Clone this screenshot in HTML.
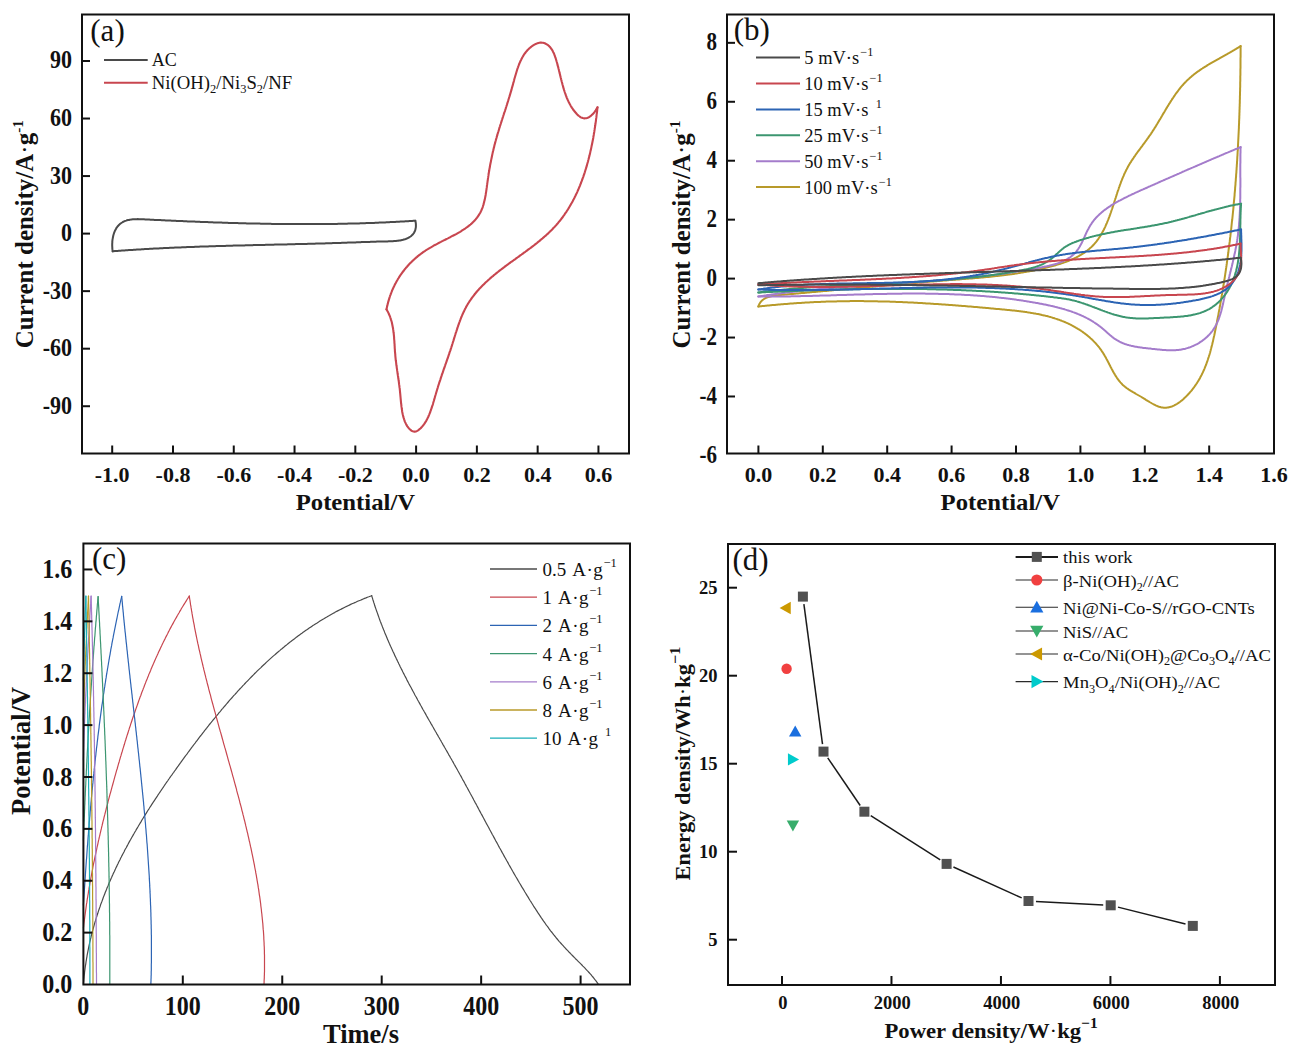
<!DOCTYPE html>
<html><head><meta charset="utf-8"><title>chart</title>
<style>
html,body{margin:0;padding:0;background:#fff;width:1295px;height:1049px;overflow:hidden;}
svg{display:block;}
text{font-family:"Liberation Serif",serif;fill:#111;}
</style></head><body>
<svg width="1295" height="1049" viewBox="0 0 1295 1049">
<rect width="1295" height="1049" fill="#fff"/>
<g id="shapes">
<path d="M112.7,251.3 L112.6,250.3 L112.4,249.2 L112.3,248.2 L112.3,247.1 L112.2,246.0 L112.2,245.0 L112.2,243.9 L112.3,242.8 L112.3,241.7 L112.4,240.7 L112.5,239.6 L112.7,238.6 L112.9,237.5 L113.1,236.5 L113.3,235.5 L113.6,234.5 L113.9,233.5 L114.2,232.6 L114.6,231.6 L115.0,230.7 L115.4,229.9 L115.9,229.0 L116.3,228.2 L116.9,227.4 L117.4,226.7 L118.0,226.0 L118.6,225.3 L119.2,224.7 L119.9,224.1 L120.6,223.5 L121.3,223.0 L122.1,222.5 L122.8,222.0 L123.6,221.6 L124.5,221.2 L125.3,220.9 L126.2,220.6 L127.0,220.3 L128.0,220.1 L128.9,219.9 L129.8,219.7 L130.8,219.6 L131.7,219.4 L132.7,219.3 L133.7,219.3 L134.7,219.2 L135.8,219.2 L136.8,219.2 L137.8,219.1 L138.9,219.2 L139.9,219.2 L140.9,219.2 L142.0,219.2 L143.0,219.3 L144.1,219.3 L145.2,219.4 L146.2,219.4 L147.2,219.5 L148.3,219.5 L149.3,219.6 L150.4,219.7 L151.4,219.7 L152.4,219.8 L153.5,219.8 L154.5,219.9 L155.5,219.9 L156.5,220.0 L157.5,220.0 L158.6,220.1 L159.6,220.1 L160.6,220.1 L161.6,220.2 L162.6,220.2 L163.6,220.3 L164.6,220.3 L165.6,220.4 L166.6,220.4 L167.6,220.5 L168.6,220.5 L169.6,220.6 L170.6,220.6 L171.6,220.7 L172.6,220.7 L173.6,220.8 L174.6,220.8 L175.6,220.8 L176.6,220.9 L177.6,220.9 L178.6,221.0 L179.6,221.0 L180.6,221.1 L181.6,221.1 L182.6,221.1 L183.6,221.2 L184.6,221.2 L185.6,221.3 L186.6,221.3 L187.6,221.4 L188.6,221.4 L189.6,221.4 L190.6,221.5 L191.6,221.5 L192.6,221.6 L193.6,221.6 L194.6,221.6 L195.6,221.7 L196.6,221.7 L197.6,221.8 L198.6,221.8 L199.6,221.8 L200.6,221.9 L201.6,221.9 L202.6,222.0 L203.6,222.0 L204.6,222.0 L205.6,222.1 L206.6,222.1 L207.6,222.1 L208.6,222.2 L209.6,222.2 L210.6,222.3 L211.6,222.3 L212.6,222.3 L213.6,222.4 L214.6,222.4 L215.6,222.4 L216.6,222.5 L217.6,222.5 L218.6,222.5 L219.6,222.6 L220.6,222.6 L221.6,222.6 L222.6,222.7 L223.6,222.7 L224.6,222.7 L225.6,222.8 L226.6,222.8 L227.6,222.8 L228.6,222.9 L229.6,222.9 L230.6,222.9 L231.6,223.0 L232.6,223.0 L233.6,223.0 L234.7,223.0 L235.7,223.1 L236.7,223.1 L237.7,223.1 L238.7,223.2 L239.7,223.2 L240.7,223.2 L241.7,223.2 L242.7,223.3 L243.7,223.3 L244.7,223.3 L245.7,223.3 L246.7,223.4 L247.7,223.4 L248.7,223.4 L249.7,223.4 L250.7,223.5 L251.7,223.5 L252.7,223.5 L253.7,223.5 L254.7,223.5 L255.7,223.6 L256.7,223.6 L257.7,223.6 L258.7,223.6 L259.7,223.6 L260.7,223.7 L261.7,223.7 L262.7,223.7 L263.8,223.7 L264.8,223.7 L265.8,223.8 L266.8,223.8 L267.8,223.8 L268.8,223.8 L269.8,223.8 L270.8,223.8 L271.8,223.9 L272.8,223.9 L273.8,223.9 L274.8,223.9 L275.8,223.9 L276.8,223.9 L277.8,223.9 L278.8,224.0 L279.8,224.0 L280.8,224.0 L281.8,224.0 L282.8,224.0 L283.8,224.0 L284.8,224.0 L285.9,224.0 L286.9,224.0 L287.9,224.0 L288.9,224.1 L289.9,224.1 L290.9,224.1 L291.9,224.1 L292.9,224.1 L293.9,224.1 L294.9,224.1 L295.9,224.1 L296.9,224.1 L297.9,224.1 L298.9,224.1 L299.9,224.1 L300.9,224.1 L301.9,224.1 L302.9,224.1 L303.9,224.1 L304.9,224.1 L306.0,224.1 L307.0,224.1 L308.0,224.1 L309.0,224.1 L310.0,224.1 L311.0,224.1 L312.0,224.1 L313.0,224.1 L314.0,224.1 L315.0,224.1 L316.0,224.1 L317.0,224.1 L318.0,224.1 L319.0,224.1 L320.0,224.1 L321.0,224.1 L322.0,224.0 L323.0,224.0 L324.0,224.0 L325.0,224.0 L326.0,224.0 L327.1,224.0 L328.1,224.0 L329.1,224.0 L330.1,224.0 L331.1,224.0 L332.1,223.9 L333.1,223.9 L334.1,223.9 L335.1,223.9 L336.1,223.9 L337.1,223.9 L338.1,223.8 L339.1,223.8 L340.1,223.8 L341.1,223.8 L342.1,223.8 L343.1,223.8 L344.1,223.7 L345.1,223.7 L346.1,223.7 L347.1,223.7 L348.1,223.6 L349.2,223.6 L350.2,223.6 L351.2,223.6 L352.2,223.6 L353.2,223.5 L354.2,223.5 L355.2,223.5 L356.2,223.4 L357.2,223.4 L358.2,223.4 L359.2,223.4 L360.2,223.3 L361.2,223.3 L362.2,223.3 L363.2,223.2 L364.2,223.2 L365.2,223.2 L366.2,223.1 L367.2,223.1 L368.2,223.1 L369.2,223.0 L370.2,223.0 L371.2,223.0 L372.2,222.9 L373.2,222.9 L374.2,222.9 L375.2,222.8 L376.2,222.8 L377.2,222.7 L378.3,222.7 L379.3,222.6 L380.3,222.6 L381.3,222.6 L382.3,222.5 L383.3,222.5 L384.3,222.4 L385.3,222.4 L386.3,222.3 L387.3,222.3 L388.3,222.2 L389.3,222.2 L390.3,222.1 L391.3,222.1 L392.3,222.0 L393.3,222.0 L394.3,221.9 L395.3,221.9 L396.3,221.8 L397.3,221.8 L398.3,221.7 L399.3,221.7 L400.3,221.6 L401.3,221.6 L402.3,221.5 L403.3,221.5 L404.3,221.4 L405.3,221.3 L406.3,221.3 L407.3,221.2 L408.3,221.2 L409.3,221.1 L410.3,221.0 L411.3,221.0 L412.3,220.9 L413.3,220.8 L414.3,220.8 L415.3,220.7" fill="none" stroke="#4a4a4a" stroke-width="2" stroke-linejoin="round" stroke-linecap="round" />
<path d="M415.3,220.7 L415.6,222.0 L415.8,223.2 L415.9,224.4 L415.9,225.5 L415.9,226.5 L415.8,227.6 L415.6,228.5 L415.4,229.5 L415.2,230.4 L414.8,231.2 L414.4,232.0 L414.0,232.8 L413.5,233.5 L413.0,234.2 L412.4,234.8 L411.8,235.4 L411.2,236.0 L410.5,236.5 L409.7,237.0 L409.0,237.5 L408.2,237.9 L407.4,238.3 L406.6,238.6 L405.7,239.0 L404.8,239.3 L403.9,239.5 L403.0,239.8 L402.1,240.0 L401.1,240.2 L400.1,240.4 L399.1,240.5 L398.1,240.7 L397.1,240.8 L396.1,240.9 L395.0,241.0 L394.0,241.1 L392.9,241.2 L391.8,241.2 L390.8,241.3 L389.7,241.3 L388.6,241.3 L387.5,241.4 L386.5,241.4 L385.4,241.4 L384.3,241.5 L383.2,241.5 L382.2,241.5 L381.1,241.5 L380.1,241.6 L379.0,241.6 L378.0,241.6 L376.9,241.6 L375.9,241.7 L374.8,241.7 L373.8,241.7 L372.8,241.8 L371.8,241.8 L370.7,241.8 L369.7,241.9 L368.7,241.9 L367.7,241.9 L366.7,242.0 L365.7,242.0 L364.6,242.0 L363.6,242.1 L362.6,242.1 L361.6,242.1 L360.6,242.2 L359.6,242.2 L358.6,242.2 L357.6,242.3 L356.6,242.3 L355.6,242.4 L354.6,242.4 L353.6,242.4 L352.7,242.5 L351.7,242.5 L350.7,242.5 L349.7,242.6 L348.7,242.6 L347.7,242.6 L346.7,242.7 L345.7,242.7 L344.7,242.7 L343.7,242.8 L342.7,242.8 L341.8,242.8 L340.8,242.9 L339.8,242.9 L338.8,242.9 L337.8,243.0 L336.8,243.0 L335.8,243.0 L334.8,243.1 L333.8,243.1 L332.8,243.1 L331.8,243.2 L330.8,243.2 L329.8,243.2 L328.8,243.3 L327.8,243.3 L326.8,243.3 L325.8,243.3 L324.8,243.4 L323.8,243.4 L322.8,243.4 L321.9,243.5 L320.9,243.5 L319.9,243.5 L318.9,243.5 L317.9,243.6 L316.9,243.6 L315.9,243.6 L314.9,243.7 L313.9,243.7 L312.9,243.7 L311.9,243.7 L310.9,243.8 L309.9,243.8 L308.9,243.8 L307.9,243.8 L306.9,243.9 L305.9,243.9 L304.9,243.9 L303.9,243.9 L302.9,244.0 L301.9,244.0 L300.9,244.0 L299.9,244.0 L298.8,244.1 L297.8,244.1 L296.8,244.1 L295.8,244.1 L294.8,244.2 L293.8,244.2 L292.8,244.2 L291.8,244.2 L290.8,244.3 L289.8,244.3 L288.8,244.3 L287.8,244.3 L286.8,244.4 L285.8,244.4 L284.8,244.4 L283.8,244.4 L282.8,244.4 L281.8,244.5 L280.8,244.5 L279.8,244.5 L278.8,244.5 L277.8,244.6 L276.8,244.6 L275.7,244.6 L274.7,244.6 L273.7,244.7 L272.7,244.7 L271.7,244.7 L270.7,244.7 L269.7,244.8 L268.7,244.8 L267.7,244.8 L266.7,244.8 L265.7,244.8 L264.7,244.9 L263.7,244.9 L262.7,244.9 L261.6,244.9 L260.6,245.0 L259.6,245.0 L258.6,245.0 L257.6,245.0 L256.6,245.1 L255.6,245.1 L254.6,245.1 L253.6,245.1 L252.6,245.2 L251.6,245.2 L250.6,245.2 L249.5,245.2 L248.5,245.3 L247.5,245.3 L246.5,245.3 L245.5,245.3 L244.5,245.4 L243.5,245.4 L242.5,245.4 L241.5,245.4 L240.5,245.5 L239.5,245.5 L238.4,245.5 L237.4,245.5 L236.4,245.6 L235.4,245.6 L234.4,245.6 L233.4,245.6 L232.4,245.7 L231.4,245.7 L230.4,245.7 L229.4,245.7 L228.3,245.8 L227.3,245.8 L226.3,245.8 L225.3,245.9 L224.3,245.9 L223.3,245.9 L222.3,245.9 L221.3,246.0 L220.3,246.0 L219.3,246.0 L218.2,246.1 L217.2,246.1 L216.2,246.1 L215.2,246.2 L214.2,246.2 L213.2,246.2 L212.2,246.2 L211.2,246.3 L210.2,246.3 L209.2,246.3 L208.1,246.4 L207.1,246.4 L206.1,246.4 L205.1,246.5 L204.1,246.5 L203.1,246.5 L202.1,246.6 L201.1,246.6 L200.1,246.6 L199.1,246.7 L198.1,246.7 L197.0,246.7 L196.0,246.8 L195.0,246.8 L194.0,246.9 L193.0,246.9 L192.0,246.9 L191.0,247.0 L190.0,247.0 L189.0,247.0 L188.0,247.1 L187.0,247.1 L185.9,247.2 L184.9,247.2 L183.9,247.2 L182.9,247.3 L181.9,247.3 L180.9,247.4 L179.9,247.4 L178.9,247.4 L177.9,247.5 L176.9,247.5 L175.9,247.6 L174.9,247.6 L173.8,247.7 L172.8,247.7 L171.8,247.7 L170.8,247.8 L169.8,247.8 L168.8,247.9 L167.8,247.9 L166.8,248.0 L165.8,248.0 L164.8,248.1 L163.8,248.1 L162.8,248.2 L161.8,248.2 L160.8,248.3 L159.8,248.3 L158.8,248.4 L157.7,248.4 L156.7,248.5 L155.7,248.5 L154.7,248.6 L153.7,248.6 L152.7,248.7 L151.7,248.7 L150.7,248.8 L149.7,248.8 L148.7,248.9 L147.7,249.0 L146.7,249.0 L145.7,249.1 L144.7,249.1 L143.7,249.2 L142.7,249.2 L141.7,249.3 L140.7,249.4 L139.7,249.4 L138.7,249.5 L137.7,249.6 L136.7,249.6 L135.7,249.7 L134.7,249.7 L133.7,249.8 L132.7,249.9 L131.7,249.9 L130.7,250.0 L129.7,250.1 L128.7,250.1 L127.7,250.2 L126.7,250.3 L125.7,250.3 L124.7,250.4 L123.7,250.5 L122.7,250.6 L121.7,250.6 L120.7,250.7 L119.7,250.8 L118.7,250.8 L117.7,250.9 L116.7,251.0 L115.7,251.1 L114.7,251.1 L113.7,251.2 L112.7,251.3" fill="none" stroke="#4a4a4a" stroke-width="2" stroke-linejoin="round" stroke-linecap="round" />
<path d="M386.5,309.5 L386.7,308.5 L386.9,307.4 L387.1,306.4 L387.4,305.4 L387.6,304.4 L387.9,303.4 L388.1,302.4 L388.4,301.4 L388.7,300.4 L389.0,299.4 L389.3,298.4 L389.6,297.4 L389.9,296.5 L390.2,295.5 L390.6,294.6 L390.9,293.6 L391.3,292.7 L391.7,291.7 L392.0,290.8 L392.4,289.9 L392.8,289.0 L393.2,288.1 L393.6,287.2 L394.1,286.3 L394.5,285.4 L394.9,284.5 L395.4,283.6 L395.9,282.8 L396.3,281.9 L396.8,281.0 L397.3,280.2 L397.8,279.3 L398.3,278.5 L398.8,277.7 L399.3,276.8 L399.9,276.0 L400.4,275.2 L401.0,274.4 L401.5,273.6 L402.1,272.8 L402.7,272.0 L403.3,271.2 L403.9,270.5 L404.5,269.7 L405.1,268.9 L405.7,268.2 L406.3,267.4 L407.0,266.7 L407.6,266.0 L408.3,265.2 L408.9,264.5 L409.6,263.8 L410.3,263.1 L411.0,262.4 L411.7,261.7 L412.4,261.0 L413.1,260.4 L413.8,259.7 L414.6,259.0 L415.3,258.4 L416.0,257.7 L416.8,257.1 L417.6,256.4 L418.3,255.8 L419.1,255.2 L419.9,254.6 L420.7,254.0 L421.5,253.4 L422.3,252.8 L423.1,252.2 L424.0,251.6 L424.8,251.1 L425.6,250.5 L426.5,249.9 L427.4,249.4 L428.2,248.9 L429.1,248.3 L430.0,247.8 L430.9,247.3 L431.7,246.8 L432.6,246.3 L433.6,245.7 L434.5,245.2 L435.4,244.8 L436.3,244.3 L437.2,243.8 L438.1,243.3 L439.1,242.8 L440.0,242.3 L440.9,241.9 L441.8,241.4 L442.8,240.9 L443.7,240.4 L444.6,240.0 L445.6,239.5 L446.5,239.0 L447.4,238.6 L448.4,238.1 L449.3,237.6 L450.2,237.2 L451.1,236.7 L452.0,236.2 L452.9,235.7 L453.9,235.2 L454.8,234.8 L455.7,234.3 L456.6,233.8 L457.4,233.3 L458.3,232.8 L459.2,232.3 L460.1,231.8 L460.9,231.3 L461.8,230.7 L462.6,230.2 L463.4,229.7 L464.3,229.1 L465.1,228.6 L465.9,228.0 L466.7,227.4 L467.5,226.9 L468.2,226.3 L469.0,225.7 L469.7,225.1 L470.5,224.5 L471.2,223.9 L471.9,223.2 L472.6,222.6 L473.2,221.9 L473.9,221.2 L474.6,220.6 L475.2,219.9 L475.8,219.2 L476.4,218.4 L477.0,217.7 L477.5,217.0 L478.1,216.2 L478.6,215.4 L479.1,214.6 L479.6,213.8 L480.1,213.0 L480.5,212.2 L480.9,211.3 L481.4,210.4 L481.7,209.5 L482.1,208.6 L482.5,207.7 L482.8,206.8 L483.1,205.8 L483.4,204.9 L483.7,203.9 L483.9,202.9 L484.2,201.9 L484.4,200.9 L484.7,199.9 L484.9,198.9 L485.1,197.9 L485.3,196.8 L485.5,195.8 L485.7,194.7 L485.8,193.7 L486.0,192.6 L486.2,191.6 L486.3,190.5 L486.5,189.5 L486.6,188.4 L486.8,187.4 L486.9,186.3 L487.0,185.2 L487.2,184.2 L487.3,183.1 L487.5,182.1 L487.6,181.0 L487.8,180.0 L487.9,178.9 L488.1,177.9 L488.2,176.9 L488.4,175.9 L488.5,174.8 L488.7,173.8 L488.8,172.8 L489.0,171.8 L489.2,170.8 L489.3,169.8 L489.5,168.8 L489.7,167.8 L489.9,166.8 L490.0,165.8 L490.2,164.8 L490.4,163.8 L490.6,162.8 L490.8,161.9 L491.0,160.9 L491.2,159.9 L491.4,158.9 L491.6,158.0 L491.8,157.0 L492.0,156.0 L492.2,155.1 L492.4,154.1 L492.6,153.1 L492.8,152.2 L493.0,151.2 L493.3,150.3 L493.5,149.3 L493.7,148.4 L494.0,147.4 L494.2,146.5 L494.4,145.5 L494.7,144.6 L494.9,143.6 L495.2,142.7 L495.4,141.8 L495.7,140.8 L495.9,139.9 L496.2,138.9 L496.5,138.0 L496.7,137.1 L497.0,136.1 L497.3,135.2 L497.5,134.3 L497.8,133.3 L498.1,132.4 L498.4,131.5 L498.7,130.5 L499.0,129.6 L499.2,128.6 L499.5,127.7 L499.8,126.8 L500.1,125.8 L500.4,124.9 L500.7,124.0 L501.0,123.0 L501.3,122.1 L501.6,121.2 L501.9,120.2 L502.2,119.3 L502.5,118.3 L502.8,117.4 L503.1,116.5 L503.4,115.5 L503.7,114.6 L504.0,113.6 L504.3,112.7 L504.7,111.7 L505.0,110.8 L505.3,109.8 L505.6,108.9 L505.9,107.9 L506.2,107.0 L506.5,106.0 L506.8,105.1 L507.1,104.1 L507.4,103.2 L507.7,102.2 L508.0,101.2 L508.3,100.3 L508.6,99.3 L508.9,98.3 L509.2,97.3 L509.5,96.4 L509.8,95.4 L510.1,94.4 L510.4,93.4 L510.7,92.4 L511.0,91.4 L511.3,90.4 L511.6,89.4 L511.8,88.4 L512.1,87.4 L512.4,86.4 L512.7,85.4 L513.0,84.4 L513.2,83.4 L513.5,82.4 L513.8,81.4 L514.1,80.3 L514.3,79.3 L514.6,78.3 L514.9,77.3 L515.2,76.3 L515.5,75.3 L515.8,74.3 L516.1,73.3 L516.4,72.3 L516.7,71.3 L517.0,70.3 L517.3,69.3 L517.6,68.3 L518.0,67.3 L518.3,66.4 L518.7,65.4 L519.0,64.5 L519.4,63.5 L519.8,62.6 L520.2,61.7 L520.6,60.8 L521.1,59.9 L521.5,59.0 L521.9,58.2 L522.4,57.3 L522.9,56.5 L523.4,55.6 L523.9,54.8 L524.4,54.0 L525.0,53.2 L525.6,52.5 L526.1,51.7 L526.8,51.0 L527.4,50.3 L528.0,49.6 L528.7,49.0 L529.4,48.3 L530.1,47.7 L530.8,47.1 L531.6,46.5 L532.4,45.9 L533.2,45.4 L534.0,44.9 L534.9,44.4 L535.7,44.0 L536.6,43.6 L537.5,43.2 L538.5,42.9 L539.4,42.7 L540.3,42.6 L541.2,42.6 L542.1,42.7 L543.0,42.8 L543.9,43.0 L544.8,43.3 L545.6,43.7 L546.4,44.1 L547.2,44.6 L548.0,45.1 L548.7,45.7 L549.3,46.4 L550.0,47.0 L550.6,47.8 L551.1,48.5 L551.7,49.3 L552.2,50.1 L552.7,51.0 L553.1,51.9 L553.6,52.8 L554.0,53.7 L554.4,54.7 L554.7,55.7 L555.1,56.7 L555.4,57.7 L555.8,58.7 L556.1,59.7 L556.4,60.7 L556.7,61.8 L557.0,62.8 L557.3,63.8 L557.5,64.9 L557.8,65.9 L558.1,66.9 L558.4,68.0 L558.6,69.0 L558.9,70.0 L559.1,71.0 L559.4,72.1 L559.6,73.1 L559.9,74.1 L560.1,75.1 L560.4,76.2 L560.6,77.2 L560.9,78.2 L561.1,79.2 L561.4,80.2 L561.6,81.2 L561.9,82.2 L562.2,83.2 L562.4,84.2 L562.7,85.2 L563.0,86.2 L563.2,87.2 L563.5,88.1 L563.8,89.1 L564.1,90.1 L564.4,91.0 L564.7,92.0 L565.0,92.9 L565.4,93.9 L565.7,94.8 L566.0,95.7 L566.4,96.6 L566.7,97.6 L567.1,98.5 L567.5,99.4 L567.9,100.3 L568.3,101.1 L568.7,102.0 L569.2,102.9 L569.6,103.7 L570.1,104.6 L570.5,105.4 L571.0,106.3 L571.5,107.1 L572.0,107.9 L572.6,108.7 L573.1,109.5 L573.7,110.3 L574.3,111.0 L574.9,111.8 L575.5,112.5 L576.2,113.3 L576.8,114.0 L577.5,114.7 L578.2,115.4 L579.0,116.0 L579.7,116.5 L580.4,117.1 L581.2,117.5 L582.0,117.8 L582.8,118.1 L583.6,118.3 L584.4,118.4 L585.3,118.3 L586.1,118.2 L587.0,118.0 L587.8,117.7 L588.7,117.3 L589.5,116.8 L590.4,116.2 L591.2,115.6 L592.0,114.8 L592.8,114.1 L593.6,113.2 L594.3,112.4 L595.0,111.4 L595.7,110.4 L596.3,109.4 L596.9,108.4 L597.5,107.3" fill="none" stroke="#C8464F" stroke-width="2.1" stroke-linejoin="round" stroke-linecap="round" />
<path d="M597.5,107.3 L597.4,108.3 L597.3,109.2 L597.2,110.2 L597.1,111.1 L597.0,112.1 L596.9,113.1 L596.7,114.0 L596.6,115.0 L596.5,116.0 L596.4,117.0 L596.3,117.9 L596.1,118.9 L596.0,119.9 L595.9,120.9 L595.8,121.8 L595.6,122.8 L595.5,123.8 L595.3,124.8 L595.2,125.8 L595.0,126.8 L594.9,127.8 L594.7,128.7 L594.6,129.7 L594.4,130.7 L594.3,131.7 L594.1,132.7 L593.9,133.7 L593.8,134.7 L593.6,135.7 L593.4,136.7 L593.3,137.7 L593.1,138.7 L592.9,139.7 L592.7,140.7 L592.5,141.7 L592.3,142.7 L592.1,143.7 L591.9,144.7 L591.7,145.6 L591.5,146.6 L591.3,147.6 L591.1,148.6 L590.9,149.6 L590.6,150.6 L590.4,151.6 L590.2,152.6 L590.0,153.6 L589.7,154.6 L589.5,155.6 L589.2,156.6 L589.0,157.6 L588.7,158.6 L588.5,159.5 L588.2,160.5 L588.0,161.5 L587.7,162.5 L587.4,163.5 L587.1,164.5 L586.9,165.4 L586.6,166.4 L586.3,167.4 L586.0,168.4 L585.7,169.3 L585.4,170.3 L585.1,171.3 L584.8,172.3 L584.5,173.2 L584.2,174.2 L583.8,175.1 L583.5,176.1 L583.2,177.1 L582.8,178.0 L582.5,179.0 L582.1,179.9 L581.8,180.9 L581.4,181.8 L581.1,182.8 L580.7,183.7 L580.3,184.6 L580.0,185.6 L579.6,186.5 L579.2,187.4 L578.8,188.4 L578.4,189.3 L578.0,190.2 L577.6,191.1 L577.2,192.1 L576.8,193.0 L576.3,193.9 L575.9,194.8 L575.5,195.7 L575.0,196.6 L574.6,197.5 L574.1,198.4 L573.7,199.3 L573.2,200.1 L572.8,201.0 L572.3,201.9 L571.8,202.8 L571.3,203.6 L570.8,204.5 L570.3,205.4 L569.8,206.2 L569.3,207.1 L568.8,207.9 L568.3,208.8 L567.8,209.6 L567.2,210.5 L566.7,211.3 L566.2,212.1 L565.6,212.9 L565.0,213.7 L564.5,214.6 L563.9,215.4 L563.3,216.2 L562.8,217.0 L562.2,217.8 L561.6,218.5 L561.0,219.3 L560.4,220.1 L559.8,220.9 L559.1,221.6 L558.5,222.4 L557.9,223.2 L557.2,223.9 L556.6,224.7 L555.9,225.4 L555.3,226.1 L554.6,226.9 L553.9,227.6 L553.2,228.3 L552.6,229.0 L551.9,229.7 L551.2,230.4 L550.5,231.1 L549.8,231.8 L549.0,232.5 L548.3,233.2 L547.6,233.9 L546.9,234.5 L546.1,235.2 L545.4,235.9 L544.6,236.5 L543.9,237.2 L543.1,237.8 L542.4,238.5 L541.6,239.1 L540.8,239.8 L540.1,240.4 L539.3,241.1 L538.5,241.7 L537.7,242.3 L537.0,243.0 L536.2,243.6 L535.4,244.2 L534.6,244.8 L533.8,245.5 L533.0,246.1 L532.2,246.7 L531.4,247.3 L530.6,247.9 L529.8,248.5 L528.9,249.1 L528.1,249.7 L527.3,250.3 L526.5,250.9 L525.7,251.5 L524.9,252.1 L524.0,252.7 L523.2,253.3 L522.4,253.9 L521.6,254.5 L520.7,255.1 L519.9,255.7 L519.1,256.3 L518.3,256.9 L517.4,257.5 L516.6,258.1 L515.8,258.7 L515.0,259.3 L514.1,259.9 L513.3,260.5 L512.5,261.1 L511.7,261.7 L510.8,262.2 L510.0,262.8 L509.2,263.4 L508.4,264.0 L507.6,264.6 L506.8,265.2 L505.9,265.8 L505.1,266.4 L504.3,267.1 L503.5,267.7 L502.7,268.3 L501.9,268.9 L501.1,269.5 L500.3,270.1 L499.5,270.7 L498.7,271.3 L497.9,272.0 L497.1,272.6 L496.4,273.2 L495.6,273.8 L494.8,274.5 L494.0,275.1 L493.3,275.8 L492.5,276.4 L491.7,277.0 L491.0,277.7 L490.2,278.3 L489.5,279.0 L488.7,279.7 L488.0,280.3 L487.3,281.0 L486.5,281.7 L485.8,282.3 L485.1,283.0 L484.4,283.7 L483.7,284.4 L483.0,285.1 L482.3,285.8 L481.6,286.5 L480.9,287.2 L480.2,287.9 L479.6,288.6 L478.9,289.3 L478.3,290.1 L477.6,290.8 L477.0,291.5 L476.3,292.3 L475.7,293.0 L475.1,293.8 L474.5,294.5 L473.9,295.3 L473.3,296.1 L472.7,296.9 L472.1,297.7 L471.5,298.5 L470.9,299.3 L470.4,300.1 L469.8,300.9 L469.3,301.7 L468.8,302.5 L468.2,303.4 L467.7,304.2 L467.2,305.1 L466.7,305.9 L466.2,306.8 L465.8,307.7 L465.3,308.5 L464.9,309.4 L464.4,310.3 L464.0,311.2 L463.5,312.2 L463.1,313.1 L462.7,314.0 L462.3,314.9 L461.9,315.9 L461.5,316.8 L461.1,317.7 L460.8,318.7 L460.4,319.7 L460.0,320.6 L459.7,321.6 L459.3,322.5 L459.0,323.5 L458.6,324.5 L458.3,325.4 L458.0,326.4 L457.6,327.4 L457.3,328.4 L457.0,329.4 L456.7,330.3 L456.4,331.3 L456.0,332.3 L455.7,333.3 L455.4,334.3 L455.1,335.2 L454.8,336.2 L454.5,337.2 L454.2,338.2 L453.9,339.1 L453.6,340.1 L453.3,341.1 L453.0,342.0 L452.7,343.0 L452.4,344.0 L452.1,344.9 L451.8,345.9 L451.5,346.8 L451.2,347.8 L450.9,348.7 L450.6,349.6 L450.3,350.6 L449.9,351.5 L449.6,352.4 L449.3,353.4 L449.0,354.3 L448.7,355.2 L448.4,356.1 L448.1,357.0 L447.8,358.0 L447.4,358.9 L447.1,359.8 L446.8,360.7 L446.5,361.6 L446.2,362.5 L445.9,363.4 L445.5,364.3 L445.2,365.3 L444.9,366.2 L444.6,367.1 L444.3,368.0 L443.9,368.9 L443.6,369.8 L443.3,370.7 L443.0,371.7 L442.7,372.6 L442.4,373.5 L442.0,374.4 L441.7,375.4 L441.4,376.3 L441.1,377.2 L440.8,378.2 L440.5,379.1 L440.2,380.1 L439.9,381.0 L439.5,382.0 L439.2,382.9 L438.9,383.9 L438.6,384.8 L438.3,385.8 L438.0,386.8 L437.7,387.8 L437.4,388.7 L437.1,389.7 L436.8,390.7 L436.5,391.7 L436.2,392.7 L435.9,393.7 L435.6,394.8 L435.3,395.8 L435.0,396.8 L434.7,397.9 L434.4,398.9 L434.1,399.9 L433.8,401.0 L433.5,402.0 L433.2,403.0 L432.9,404.1 L432.6,405.1 L432.2,406.1 L431.9,407.1 L431.6,408.2 L431.2,409.2 L430.9,410.2 L430.5,411.2 L430.2,412.2 L429.8,413.1 L429.4,414.1 L429.0,415.1 L428.6,416.0 L428.2,417.0 L427.7,417.9 L427.3,418.8 L426.8,419.7 L426.4,420.5 L425.9,421.4 L425.4,422.2 L424.8,423.1 L424.3,423.9 L423.7,424.6 L423.2,425.4 L422.6,426.1 L422.0,426.8 L421.3,427.5 L420.7,428.2 L420.0,428.8 L419.3,429.4 L418.6,430.0 L417.9,430.5 L417.2,430.9 L416.5,431.2 L415.7,431.5 L415.0,431.6 L414.3,431.6 L413.6,431.5 L412.8,431.3 L412.1,431.0 L411.4,430.6 L410.8,430.1 L410.1,429.5 L409.5,428.9 L408.9,428.3 L408.3,427.6 L407.8,426.9 L407.2,426.2 L406.8,425.4 L406.3,424.6 L405.9,423.8 L405.5,422.9 L405.1,422.1 L404.7,421.2 L404.4,420.2 L404.1,419.3 L403.8,418.3 L403.5,417.4 L403.2,416.4 L403.0,415.4 L402.7,414.3 L402.5,413.3 L402.3,412.2 L402.1,411.2 L402.0,410.1 L401.8,409.0 L401.7,407.9 L401.5,406.9 L401.4,405.8 L401.3,404.6 L401.1,403.5 L401.0,402.4 L400.9,401.3 L400.8,400.2 L400.7,399.1 L400.6,398.0 L400.5,396.9 L400.4,395.8 L400.3,394.7 L400.2,393.7 L400.1,392.6 L400.0,391.5 L399.9,390.5 L399.8,389.5 L399.7,388.4 L399.5,387.4 L399.4,386.4 L399.3,385.4 L399.1,384.4 L399.0,383.4 L398.9,382.4 L398.8,381.4 L398.6,380.5 L398.5,379.5 L398.3,378.5 L398.2,377.6 L398.1,376.6 L397.9,375.7 L397.8,374.7 L397.6,373.8 L397.5,372.8 L397.4,371.9 L397.2,370.9 L397.1,370.0 L397.0,369.1 L396.8,368.1 L396.7,367.2 L396.6,366.2 L396.4,365.3 L396.3,364.4 L396.2,363.4 L396.1,362.5 L396.0,361.5 L395.8,360.6 L395.7,359.6 L395.6,358.6 L395.5,357.7 L395.4,356.7 L395.3,355.7 L395.3,354.8 L395.2,353.8 L395.1,352.8 L395.0,351.8 L394.9,350.8 L394.9,349.8 L394.8,348.8 L394.7,347.7 L394.7,346.7 L394.6,345.7 L394.6,344.7 L394.5,343.6 L394.4,342.6 L394.4,341.6 L394.3,340.5 L394.2,339.5 L394.1,338.5 L394.1,337.4 L394.0,336.4 L393.9,335.4 L393.8,334.3 L393.7,333.3 L393.5,332.3 L393.4,331.3 L393.3,330.2 L393.1,329.2 L393.0,328.2 L392.8,327.2 L392.6,326.2 L392.4,325.2 L392.2,324.2 L392.0,323.2 L391.8,322.3 L391.5,321.3 L391.2,320.3 L390.9,319.4 L390.6,318.4 L390.3,317.5 L390.0,316.5 L389.6,315.6 L389.2,314.7 L388.8,313.8 L388.4,312.9 L388.0,312.1 L387.5,311.2 L387.0,310.3 L386.5,309.5" fill="none" stroke="#C8464F" stroke-width="2.1" stroke-linejoin="round" stroke-linecap="round" />
<rect x="82" y="14.5" width="547" height="439.0" fill="none" stroke="#111" stroke-width="2"/>
<line x1="112.20" y1="453.5" x2="112.20" y2="445.5" stroke="#111" stroke-width="2"/>
<line x1="172.98" y1="453.5" x2="172.98" y2="445.5" stroke="#111" stroke-width="2"/>
<line x1="233.76" y1="453.5" x2="233.76" y2="445.5" stroke="#111" stroke-width="2"/>
<line x1="294.54" y1="453.5" x2="294.54" y2="445.5" stroke="#111" stroke-width="2"/>
<line x1="355.32" y1="453.5" x2="355.32" y2="445.5" stroke="#111" stroke-width="2"/>
<line x1="416.10" y1="453.5" x2="416.10" y2="445.5" stroke="#111" stroke-width="2"/>
<line x1="476.88" y1="453.5" x2="476.88" y2="445.5" stroke="#111" stroke-width="2"/>
<line x1="537.66" y1="453.5" x2="537.66" y2="445.5" stroke="#111" stroke-width="2"/>
<line x1="598.44" y1="453.5" x2="598.44" y2="445.5" stroke="#111" stroke-width="2"/>
<line x1="82" y1="406.22" x2="90" y2="406.22" stroke="#111" stroke-width="2"/>
<line x1="82" y1="348.68" x2="90" y2="348.68" stroke="#111" stroke-width="2"/>
<line x1="82" y1="291.14" x2="90" y2="291.14" stroke="#111" stroke-width="2"/>
<line x1="82" y1="233.60" x2="90" y2="233.60" stroke="#111" stroke-width="2"/>
<line x1="82" y1="176.06" x2="90" y2="176.06" stroke="#111" stroke-width="2"/>
<line x1="82" y1="118.52" x2="90" y2="118.52" stroke="#111" stroke-width="2"/>
<line x1="82" y1="60.98" x2="90" y2="60.98" stroke="#111" stroke-width="2"/>
<line x1="104" y1="60" x2="147.7" y2="60" stroke="#4a4a4a" stroke-width="2"/>
<line x1="104" y1="82.8" x2="147.7" y2="82.8" stroke="#C8464F" stroke-width="2"/>
<path d="M758.3,306.5 L758.7,305.5 L759.1,304.6 L759.5,303.8 L760.0,303.0 L760.5,302.2 L761.1,301.5 L761.7,300.9 L762.3,300.3 L763.0,299.7 L763.7,299.2 L764.4,298.7 L765.2,298.3 L766.0,297.9 L766.8,297.6 L767.6,297.2 L768.5,296.9 L769.4,296.7 L770.3,296.4 L771.2,296.2 L772.1,296.0 L773.0,295.8 L774.0,295.7 L775.0,295.5 L776.0,295.4 L776.9,295.3 L777.9,295.2 L778.9,295.1 L780.0,295.0 L781.0,294.9 L782.0,294.8 L783.0,294.7 L784.0,294.7 L785.0,294.6 L786.0,294.5 L787.0,294.4 L788.0,294.3 L789.1,294.2 L790.1,294.1 L791.1,294.0 L792.1,293.9 L793.1,293.9 L794.1,293.8 L795.1,293.7 L796.1,293.6 L797.1,293.5 L798.1,293.4 L799.2,293.3 L800.2,293.2 L801.2,293.1 L802.2,293.1 L803.2,293.0 L804.2,292.9 L805.2,292.8 L806.2,292.7 L807.2,292.6 L808.2,292.5 L809.2,292.4 L810.3,292.3 L811.3,292.2 L812.3,292.1 L813.3,292.1 L814.3,292.0 L815.3,291.9 L816.3,291.8 L817.3,291.7 L818.3,291.6 L819.3,291.5 L820.3,291.4 L821.3,291.3 L822.4,291.2 L823.4,291.1 L824.4,291.1 L825.4,291.0 L826.4,290.9 L827.4,290.8 L828.4,290.7 L829.4,290.6 L830.4,290.5 L831.4,290.4 L832.4,290.3 L833.4,290.2 L834.4,290.1 L835.4,290.0 L836.5,290.0 L837.5,289.9 L838.5,289.8 L839.5,289.7 L840.5,289.6 L841.5,289.5 L842.5,289.4 L843.5,289.3 L844.5,289.2 L845.5,289.1 L846.5,289.0 L847.5,288.9 L848.5,288.9 L849.5,288.8 L850.5,288.7 L851.5,288.6 L852.5,288.5 L853.5,288.4 L854.6,288.3 L855.6,288.2 L856.6,288.1 L857.6,288.0 L858.6,287.9 L859.6,287.8 L860.6,287.8 L861.6,287.7 L862.6,287.6 L863.6,287.5 L864.6,287.4 L865.6,287.3 L866.6,287.2 L867.6,287.1 L868.6,287.0 L869.6,286.9 L870.6,286.8 L871.6,286.8 L872.6,286.7 L873.6,286.6 L874.6,286.5 L875.6,286.4 L876.6,286.3 L877.6,286.2 L878.6,286.1 L879.6,286.0 L880.6,285.9 L881.6,285.9 L882.6,285.8 L883.6,285.7 L884.6,285.6 L885.6,285.5 L886.6,285.4 L887.6,285.3 L888.6,285.2 L889.6,285.1 L890.6,285.0 L891.6,285.0 L892.6,284.9 L893.6,284.8 L894.6,284.7 L895.6,284.6 L896.6,284.5 L897.6,284.4 L898.6,284.3 L899.6,284.3 L900.6,284.2 L901.6,284.1 L902.6,284.0 L903.6,283.9 L904.6,283.8 L905.6,283.7 L906.6,283.6 L907.6,283.6 L908.6,283.5 L909.6,283.4 L910.6,283.3 L911.6,283.2 L912.6,283.1 L913.6,283.0 L914.6,283.0 L915.6,282.9 L916.6,282.8 L917.6,282.7 L918.6,282.6 L919.6,282.5 L920.6,282.5 L921.6,282.4 L922.6,282.3 L923.6,282.2 L924.5,282.1 L925.5,282.0 L926.5,282.0 L927.5,281.9 L928.5,281.8 L929.5,281.7 L930.5,281.6 L931.5,281.6 L932.5,281.5 L933.5,281.4 L934.5,281.3 L935.5,281.2 L936.5,281.2 L937.5,281.1 L938.5,281.0 L939.5,280.9 L940.4,280.8 L941.4,280.8 L942.4,280.7 L943.4,280.6 L944.4,280.5 L945.4,280.4 L946.4,280.4 L947.4,280.3 L948.4,280.2 L949.4,280.1 L950.4,280.1 L951.3,280.0 L952.3,279.9 L953.3,279.8 L954.3,279.8 L955.3,279.7 L956.3,279.6 L957.3,279.5 L958.3,279.5 L959.3,279.4 L960.3,279.3 L961.2,279.2 L962.2,279.1 L963.2,279.1 L964.2,279.0 L965.2,278.9 L966.2,278.8 L967.2,278.8 L968.2,278.7 L969.2,278.6 L970.1,278.5 L971.1,278.4 L972.1,278.4 L973.1,278.3 L974.1,278.2 L975.1,278.1 L976.1,278.0 L977.1,277.9 L978.1,277.9 L979.0,277.8 L980.0,277.7 L981.0,277.6 L982.0,277.5 L983.0,277.4 L984.0,277.3 L985.0,277.2 L986.0,277.1 L986.9,277.0 L987.9,276.9 L988.9,276.9 L989.9,276.8 L990.9,276.7 L991.9,276.6 L992.9,276.4 L993.9,276.3 L994.9,276.2 L995.8,276.1 L996.8,276.0 L997.8,275.9 L998.8,275.8 L999.8,275.7 L1000.8,275.6 L1001.8,275.4 L1002.8,275.3 L1003.8,275.2 L1004.8,275.1 L1005.7,275.0 L1006.7,274.8 L1007.7,274.7 L1008.7,274.6 L1009.7,274.4 L1010.7,274.3 L1011.7,274.2 L1012.7,274.0 L1013.7,273.9 L1014.7,273.7 L1015.7,273.6 L1016.7,273.4 L1017.7,273.3 L1018.6,273.1 L1019.6,273.0 L1020.6,272.8 L1021.6,272.6 L1022.6,272.5 L1023.6,272.3 L1024.6,272.1 L1025.6,272.0 L1026.6,271.8 L1027.6,271.6 L1028.6,271.4 L1029.6,271.2 L1030.6,271.0 L1031.6,270.9 L1032.6,270.7 L1033.6,270.5 L1034.6,270.3 L1035.6,270.1 L1036.6,269.9 L1037.6,269.6 L1038.6,269.4 L1039.6,269.2 L1040.6,269.0 L1041.6,268.8 L1042.6,268.5 L1043.6,268.3 L1044.6,268.1 L1045.6,267.8 L1046.6,267.6 L1047.6,267.3 L1048.6,267.1 L1049.6,266.8 L1050.6,266.6 L1051.6,266.3 L1052.6,266.1 L1053.6,265.8 L1054.6,265.5 L1055.6,265.2 L1056.6,264.9 L1057.6,264.6 L1058.5,264.3 L1059.5,264.0 L1060.5,263.7 L1061.5,263.4 L1062.5,263.1 L1063.4,262.7 L1064.4,262.4 L1065.4,262.1 L1066.3,261.7 L1067.3,261.4 L1068.2,261.0 L1069.2,260.6 L1070.1,260.2 L1071.0,259.8 L1071.9,259.4 L1072.9,259.0 L1073.8,258.6 L1074.7,258.2 L1075.6,257.7 L1076.4,257.3 L1077.3,256.8 L1078.2,256.4 L1079.1,255.9 L1079.9,255.4 L1080.8,254.9 L1081.6,254.4 L1082.4,253.9 L1083.2,253.4 L1084.1,252.8 L1084.9,252.3 L1085.6,251.7 L1086.4,251.2 L1087.2,250.6 L1087.9,250.0 L1088.7,249.4 L1089.4,248.8 L1090.1,248.1 L1090.8,247.5 L1091.5,246.9 L1092.2,246.2 L1092.9,245.5 L1093.6,244.8 L1094.2,244.1 L1094.8,243.4 L1095.5,242.6 L1096.1,241.9 L1096.7,241.1 L1097.2,240.4 L1097.8,239.6 L1098.4,238.8 L1098.9,238.0 L1099.5,237.2 L1100.0,236.4 L1100.5,235.5 L1101.0,234.7 L1101.5,233.9 L1102.0,233.0 L1102.5,232.1 L1103.0,231.3 L1103.4,230.4 L1103.9,229.5 L1104.3,228.6 L1104.8,227.7 L1105.2,226.8 L1105.6,225.8 L1106.0,224.9 L1106.4,224.0 L1106.8,223.1 L1107.2,222.1 L1107.6,221.2 L1108.0,220.2 L1108.4,219.3 L1108.7,218.3 L1109.1,217.3 L1109.5,216.4 L1109.8,215.4 L1110.2,214.4 L1110.5,213.5 L1110.9,212.5 L1111.2,211.5 L1111.5,210.5 L1111.9,209.5 L1112.2,208.6 L1112.5,207.6 L1112.8,206.6 L1113.2,205.6 L1113.5,204.6 L1113.8,203.7 L1114.1,202.7 L1114.4,201.7 L1114.7,200.7 L1115.0,199.8 L1115.3,198.8 L1115.7,197.8 L1116.0,196.8 L1116.3,195.9 L1116.6,194.9 L1116.9,194.0 L1117.2,193.0 L1117.5,192.0 L1117.8,191.1 L1118.2,190.1 L1118.5,189.2 L1118.8,188.3 L1119.1,187.3 L1119.5,186.4 L1119.8,185.4 L1120.1,184.5 L1120.5,183.6 L1120.8,182.7 L1121.2,181.7 L1121.5,180.8 L1121.9,179.9 L1122.2,179.0 L1122.6,178.1 L1123.0,177.2 L1123.4,176.3 L1123.8,175.4 L1124.1,174.5 L1124.5,173.6 L1125.0,172.7 L1125.4,171.8 L1125.8,171.0 L1126.2,170.1 L1126.7,169.2 L1127.1,168.4 L1127.6,167.5 L1128.1,166.6 L1128.5,165.8 L1129.0,164.9 L1129.5,164.1 L1130.0,163.2 L1130.6,162.4 L1131.1,161.6 L1131.6,160.7 L1132.2,159.9 L1132.7,159.1 L1133.3,158.3 L1133.8,157.4 L1134.4,156.6 L1135.0,155.8 L1135.5,155.0 L1136.1,154.2 L1136.7,153.3 L1137.3,152.5 L1137.9,151.7 L1138.5,150.9 L1139.1,150.1 L1139.7,149.3 L1140.3,148.5 L1140.9,147.7 L1141.5,146.9 L1142.1,146.1 L1142.7,145.2 L1143.3,144.4 L1143.9,143.6 L1144.5,142.8 L1145.1,142.0 L1145.7,141.2 L1146.3,140.4 L1146.9,139.5 L1147.5,138.7 L1148.1,137.9 L1148.6,137.1 L1149.2,136.2 L1149.8,135.4 L1150.4,134.6 L1151.0,133.7 L1151.5,132.9 L1152.1,132.1 L1152.6,131.2 L1153.2,130.4 L1153.7,129.5 L1154.3,128.6 L1154.8,127.8 L1155.4,126.9 L1155.9,126.1 L1156.4,125.2 L1156.9,124.3 L1157.5,123.5 L1158.0,122.6 L1158.5,121.7 L1159.0,120.9 L1159.5,120.0 L1160.1,119.1 L1160.6,118.3 L1161.1,117.4 L1161.6,116.5 L1162.1,115.7 L1162.6,114.8 L1163.1,113.9 L1163.6,113.1 L1164.2,112.2 L1164.7,111.3 L1165.2,110.5 L1165.7,109.6 L1166.2,108.7 L1166.7,107.9 L1167.2,107.0 L1167.8,106.2 L1168.3,105.3 L1168.8,104.5 L1169.3,103.6 L1169.9,102.8 L1170.4,101.9 L1170.9,101.1 L1171.5,100.2 L1172.0,99.4 L1172.5,98.6 L1173.1,97.8 L1173.7,96.9 L1174.2,96.1 L1174.8,95.3 L1175.3,94.5 L1175.9,93.7 L1176.5,92.9 L1177.1,92.1 L1177.7,91.3 L1178.3,90.5 L1178.9,89.7 L1179.5,89.0 L1180.1,88.2 L1180.7,87.4 L1181.3,86.7 L1182.0,85.9 L1182.6,85.2 L1183.3,84.5 L1183.9,83.7 L1184.6,83.0 L1185.3,82.3 L1186.0,81.6 L1186.6,80.9 L1187.3,80.2 L1188.1,79.5 L1188.8,78.9 L1189.5,78.2 L1190.3,77.5 L1191.0,76.9 L1191.8,76.2 L1192.5,75.6 L1193.3,75.0 L1194.1,74.3 L1194.9,73.7 L1195.7,73.1 L1196.5,72.5 L1197.3,71.9 L1198.1,71.3 L1198.9,70.8 L1199.8,70.2 L1200.6,69.6 L1201.5,69.0 L1202.3,68.5 L1203.2,67.9 L1204.0,67.4 L1204.9,66.8 L1205.7,66.3 L1206.6,65.8 L1207.5,65.2 L1208.4,64.7 L1209.2,64.2 L1210.1,63.6 L1211.0,63.1 L1211.9,62.6 L1212.8,62.1 L1213.7,61.6 L1214.6,61.1 L1215.5,60.6 L1216.4,60.1 L1217.3,59.6 L1218.2,59.1 L1219.1,58.6 L1219.9,58.1 L1220.8,57.6 L1221.7,57.1 L1222.6,56.6 L1223.5,56.1 L1224.4,55.6 L1225.3,55.1 L1226.2,54.6 L1227.1,54.1 L1227.9,53.6 L1228.8,53.2 L1229.7,52.7 L1230.6,52.2 L1231.4,51.7 L1232.3,51.2 L1233.1,50.7 L1234.0,50.2 L1234.8,49.7 L1235.7,49.2 L1236.5,48.7 L1237.3,48.2 L1238.2,47.7 L1239.0,47.1 L1239.8,46.6 L1240.6,46.1" fill="none" stroke="#B89A2A" stroke-width="2" stroke-linejoin="round" stroke-linecap="round" />
<path d="M1240.6,46.1 L1240.6,47.1 L1240.6,48.1 L1240.6,49.1 L1240.6,50.1 L1240.6,51.1 L1240.6,52.1 L1240.6,53.1 L1240.6,54.1 L1240.6,55.1 L1240.6,56.1 L1240.6,57.1 L1240.5,58.1 L1240.5,59.1 L1240.5,60.1 L1240.5,61.1 L1240.5,62.1 L1240.5,63.1 L1240.5,64.1 L1240.5,65.1 L1240.5,66.1 L1240.5,67.1 L1240.5,68.1 L1240.4,69.1 L1240.4,70.1 L1240.4,71.1 L1240.4,72.2 L1240.4,73.2 L1240.4,74.2 L1240.4,75.2 L1240.3,76.2 L1240.3,77.2 L1240.3,78.2 L1240.3,79.2 L1240.3,80.2 L1240.3,81.2 L1240.2,82.2 L1240.2,83.2 L1240.2,84.2 L1240.2,85.2 L1240.2,86.2 L1240.2,87.2 L1240.1,88.2 L1240.1,89.2 L1240.1,90.2 L1240.1,91.2 L1240.0,92.2 L1240.0,93.2 L1240.0,94.2 L1240.0,95.2 L1239.9,96.2 L1239.9,97.2 L1239.9,98.2 L1239.9,99.2 L1239.8,100.2 L1239.8,101.2 L1239.8,102.2 L1239.8,103.2 L1239.7,104.2 L1239.7,105.2 L1239.7,106.2 L1239.6,107.2 L1239.6,108.2 L1239.6,109.2 L1239.5,110.2 L1239.5,111.2 L1239.5,112.2 L1239.4,113.2 L1239.4,114.2 L1239.4,115.2 L1239.3,116.2 L1239.3,117.2 L1239.3,118.2 L1239.2,119.2 L1239.2,120.2 L1239.1,121.2 L1239.1,122.2 L1239.1,123.2 L1239.0,124.2 L1239.0,125.2 L1238.9,126.2 L1238.9,127.2 L1238.9,128.2 L1238.8,129.2 L1238.8,130.2 L1238.7,131.2 L1238.7,132.2 L1238.6,133.2 L1238.6,134.2 L1238.5,135.2 L1238.5,136.2 L1238.4,137.2 L1238.4,138.2 L1238.3,139.2 L1238.3,140.2 L1238.2,141.2 L1238.2,142.2 L1238.1,143.2 L1238.1,144.2 L1238.0,145.2 L1238.0,146.2 L1237.9,147.2 L1237.9,148.2 L1237.8,149.2 L1237.8,150.2 L1237.7,151.2 L1237.6,152.2 L1237.6,153.2 L1237.5,154.2 L1237.5,155.2 L1237.4,156.2 L1237.3,157.2 L1237.3,158.2 L1237.2,159.2 L1237.2,160.2 L1237.1,161.2 L1237.0,162.2 L1237.0,163.2 L1236.9,164.2 L1236.8,165.2 L1236.8,166.2 L1236.7,167.2 L1236.6,168.2 L1236.6,169.2 L1236.5,170.2 L1236.4,171.2 L1236.4,172.2 L1236.3,173.2 L1236.2,174.2 L1236.1,175.2 L1236.1,176.2 L1236.0,177.2 L1235.9,178.2 L1235.8,179.2 L1235.8,180.2 L1235.7,181.2 L1235.6,182.2 L1235.5,183.1 L1235.5,184.1 L1235.4,185.1 L1235.3,186.1 L1235.2,187.1 L1235.1,188.1 L1235.1,189.1 L1235.0,190.1 L1234.9,191.1 L1234.8,192.1 L1234.7,193.1 L1234.6,194.1 L1234.6,195.1 L1234.5,196.1 L1234.4,197.1 L1234.3,198.1 L1234.2,199.1 L1234.1,200.1 L1234.0,201.1 L1233.9,202.1 L1233.8,203.1 L1233.7,204.1 L1233.6,205.1 L1233.6,206.1 L1233.5,207.1 L1233.4,208.1 L1233.3,209.1 L1233.2,210.1 L1233.1,211.1 L1233.0,212.0 L1232.9,213.0 L1232.8,214.0 L1232.7,215.0 L1232.6,216.0 L1232.5,217.0 L1232.4,218.0 L1232.3,219.0 L1232.2,220.0 L1232.0,221.0 L1231.9,222.0 L1231.8,223.0 L1231.7,224.0 L1231.6,225.0 L1231.5,226.0 L1231.4,227.0 L1231.3,228.0 L1231.2,229.0 L1231.1,230.0 L1230.9,230.9 L1230.8,231.9 L1230.7,232.9 L1230.6,233.9 L1230.5,234.9 L1230.4,235.9 L1230.3,236.9 L1230.1,237.9 L1230.0,238.9 L1229.9,239.9 L1229.8,240.9 L1229.7,241.9 L1229.5,242.9 L1229.4,243.9 L1229.3,244.9 L1229.2,245.9 L1229.0,246.8 L1228.9,247.8 L1228.8,248.8 L1228.6,249.8 L1228.5,250.8 L1228.4,251.8 L1228.3,252.8 L1228.1,253.8 L1228.0,254.8 L1227.9,255.8 L1227.7,256.8 L1227.6,257.8 L1227.4,258.7 L1227.3,259.7 L1227.2,260.7 L1227.0,261.7 L1226.9,262.7 L1226.8,263.7 L1226.6,264.7 L1226.5,265.7 L1226.3,266.7 L1226.2,267.7 L1226.0,268.7 L1225.9,269.6 L1225.8,270.6 L1225.6,271.6 L1225.5,272.6 L1225.3,273.6 L1225.2,274.6 L1225.0,275.6 L1224.9,276.6 L1224.7,277.6 L1224.6,278.6 L1224.4,279.5 L1224.2,280.5 L1224.1,281.5 L1223.9,282.5 L1223.8,283.5 L1223.6,284.5 L1223.5,285.5 L1223.3,286.5 L1223.1,287.5 L1223.0,288.4 L1222.8,289.4 L1222.7,290.4 L1222.5,291.4 L1222.3,292.4 L1222.2,293.4 L1222.0,294.4 L1221.8,295.4 L1221.7,296.3 L1221.5,297.3 L1221.3,298.3 L1221.1,299.3 L1221.0,300.3 L1220.8,301.3 L1220.6,302.3 L1220.4,303.2 L1220.3,304.2 L1220.1,305.2 L1219.9,306.2 L1219.7,307.2 L1219.6,308.2 L1219.4,309.2 L1219.2,310.1 L1219.0,311.1 L1218.8,312.1 L1218.6,313.1 L1218.5,314.1 L1218.3,315.1 L1218.1,316.1 L1217.9,317.0 L1217.7,318.0 L1217.5,319.0 L1217.3,320.0 L1217.1,321.0 L1217.0,322.0 L1216.8,322.9 L1216.6,323.9 L1216.4,324.9 L1216.2,325.9 L1216.0,326.9 L1215.8,327.8 L1215.6,328.8 L1215.4,329.8 L1215.2,330.8 L1215.0,331.8 L1214.8,332.8 L1214.6,333.7 L1214.4,334.7 L1214.2,335.7 L1213.9,336.7 L1213.7,337.7 L1213.5,338.6 L1213.3,339.6 L1213.1,340.6 L1212.9,341.6 L1212.6,342.5 L1212.4,343.5 L1212.2,344.5 L1211.9,345.4 L1211.7,346.4 L1211.4,347.4 L1211.2,348.3 L1210.9,349.3 L1210.7,350.3 L1210.4,351.2 L1210.2,352.2 L1209.9,353.2 L1209.6,354.1 L1209.3,355.1 L1209.0,356.0 L1208.7,357.0 L1208.4,357.9 L1208.1,358.8 L1207.8,359.8 L1207.5,360.7 L1207.2,361.7 L1206.8,362.6 L1206.5,363.5 L1206.2,364.5 L1205.8,365.4 L1205.4,366.3 L1205.1,367.2 L1204.7,368.1 L1204.3,369.1 L1203.9,370.0 L1203.5,370.9 L1203.1,371.8 L1202.7,372.7 L1202.2,373.6 L1201.8,374.5 L1201.4,375.3 L1200.9,376.2 L1200.4,377.1 L1200.0,378.0 L1199.5,378.9 L1199.0,379.7 L1198.5,380.6 L1197.9,381.4 L1197.4,382.3 L1196.9,383.1 L1196.3,384.0 L1195.7,384.8 L1195.2,385.7 L1194.6,386.5 L1194.0,387.3 L1193.4,388.2 L1192.7,389.0 L1192.1,389.8 L1191.5,390.6 L1190.8,391.4 L1190.1,392.2 L1189.4,393.0 L1188.7,393.8 L1188.0,394.5 L1187.3,395.3 L1186.5,396.1 L1185.8,396.8 L1185.0,397.6 L1184.2,398.3 L1183.5,399.0 L1182.7,399.7 L1181.9,400.4 L1181.0,401.0 L1180.2,401.7 L1179.4,402.3 L1178.6,402.9 L1177.7,403.4 L1176.9,404.0 L1176.0,404.5 L1175.1,404.9 L1174.3,405.4 L1173.4,405.8 L1172.5,406.2 L1171.7,406.5 L1170.8,406.8 L1169.9,407.1 L1169.0,407.3 L1168.1,407.5 L1167.2,407.6 L1166.3,407.7 L1165.4,407.8 L1164.5,407.8 L1163.7,407.7 L1162.8,407.6 L1161.9,407.5 L1161.0,407.3 L1160.1,407.0 L1159.2,406.8 L1158.3,406.5 L1157.5,406.1 L1156.6,405.8 L1155.7,405.4 L1154.8,404.9 L1153.9,404.5 L1153.0,404.0 L1152.1,403.5 L1151.3,403.0 L1150.4,402.5 L1149.5,402.0 L1148.6,401.4 L1147.7,400.9 L1146.8,400.3 L1145.9,399.8 L1145.0,399.2 L1144.1,398.7 L1143.3,398.1 L1142.4,397.6 L1141.5,397.0 L1140.6,396.5 L1139.7,396.0 L1138.8,395.5 L1137.9,395.0 L1137.0,394.5 L1136.1,394.0 L1135.2,393.4 L1134.4,392.9 L1133.5,392.4 L1132.6,391.9 L1131.8,391.4 L1130.9,390.9 L1130.1,390.4 L1129.3,389.8 L1128.5,389.3 L1127.6,388.7 L1126.9,388.2 L1126.1,387.6 L1125.3,387.0 L1124.6,386.4 L1123.8,385.8 L1123.1,385.2 L1122.4,384.5 L1121.8,383.8 L1121.1,383.1 L1120.4,382.4 L1119.8,381.7 L1119.2,381.0 L1118.6,380.2 L1118.0,379.4 L1117.5,378.6 L1116.9,377.8 L1116.4,377.0 L1115.8,376.2 L1115.3,375.3 L1114.8,374.5 L1114.3,373.6 L1113.8,372.8 L1113.3,371.9 L1112.8,371.0 L1112.3,370.1 L1111.8,369.2 L1111.4,368.3 L1110.9,367.4 L1110.4,366.5 L1110.0,365.6 L1109.5,364.7 L1109.0,363.8 L1108.6,362.8 L1108.1,361.9 L1107.6,361.0 L1107.1,360.1 L1106.6,359.2 L1106.2,358.3 L1105.7,357.4 L1105.2,356.5 L1104.6,355.6 L1104.1,354.7 L1103.6,353.9 L1103.1,353.0 L1102.5,352.1 L1101.9,351.3 L1101.4,350.4 L1100.8,349.6 L1100.2,348.8 L1099.6,348.0 L1099.0,347.2 L1098.3,346.4 L1097.7,345.6 L1097.0,344.9 L1096.4,344.1 L1095.7,343.3 L1095.0,342.6 L1094.3,341.9 L1093.6,341.2 L1092.9,340.4 L1092.2,339.7 L1091.5,339.1 L1090.7,338.4 L1090.0,337.7 L1089.2,337.0 L1088.5,336.4 L1087.7,335.7 L1086.9,335.1 L1086.1,334.5 L1085.3,333.9 L1084.5,333.3 L1083.7,332.7 L1082.9,332.1 L1082.1,331.5 L1081.3,331.0 L1080.5,330.4 L1079.6,329.9 L1078.8,329.3 L1077.9,328.8 L1077.1,328.3 L1076.2,327.8 L1075.4,327.3 L1074.5,326.8 L1073.6,326.3 L1072.7,325.8 L1071.9,325.4 L1071.0,324.9 L1070.1,324.5 L1069.2,324.0 L1068.3,323.6 L1067.4,323.2 L1066.5,322.8 L1065.6,322.4 L1064.7,322.0 L1063.8,321.6 L1062.9,321.3 L1061.9,320.9 L1061.0,320.5 L1060.1,320.2 L1059.2,319.8 L1058.2,319.5 L1057.3,319.2 L1056.4,318.9 L1055.4,318.6 L1054.5,318.3 L1053.6,318.0 L1052.6,317.7 L1051.7,317.4 L1050.7,317.1 L1049.8,316.9 L1048.8,316.6 L1047.8,316.3 L1046.9,316.1 L1045.9,315.9 L1045.0,315.6 L1044.0,315.4 L1043.0,315.2 L1042.0,315.0 L1041.1,314.7 L1040.1,314.5 L1039.1,314.3 L1038.1,314.1 L1037.2,313.9 L1036.2,313.8 L1035.2,313.6 L1034.2,313.4 L1033.2,313.2 L1032.2,313.1 L1031.2,312.9 L1030.3,312.7 L1029.3,312.6 L1028.3,312.4 L1027.3,312.3 L1026.3,312.1 L1025.3,312.0 L1024.3,311.8 L1023.3,311.7 L1022.3,311.6 L1021.3,311.5 L1020.3,311.3 L1019.3,311.2 L1018.3,311.1 L1017.3,311.0 L1016.3,310.8 L1015.3,310.7 L1014.3,310.6 L1013.2,310.5 L1012.2,310.4 L1011.2,310.3 L1010.2,310.2 L1009.2,310.1 L1008.2,310.0 L1007.2,309.9 L1006.2,309.8 L1005.2,309.7 L1004.2,309.6 L1003.2,309.5 L1002.2,309.4 L1001.1,309.3 L1000.1,309.2 L999.1,309.1 L998.1,309.0 L997.1,308.9 L996.1,308.9 L995.1,308.8 L994.1,308.7 L993.1,308.6 L992.1,308.5 L991.1,308.4 L990.1,308.3 L989.1,308.2 L988.1,308.1 L987.1,308.0 L986.0,307.9 L985.0,307.8 L984.0,307.8 L983.0,307.7 L982.0,307.6 L981.0,307.5 L980.0,307.4 L979.0,307.3 L978.0,307.2 L977.0,307.1 L976.0,307.1 L975.0,307.0 L974.0,306.9 L973.0,306.8 L972.0,306.7 L971.0,306.6 L970.0,306.5 L969.0,306.5 L968.0,306.4 L967.0,306.3 L966.0,306.2 L965.0,306.1 L964.0,306.1 L963.0,306.0 L962.0,305.9 L961.0,305.8 L960.0,305.7 L959.0,305.7 L958.0,305.6 L957.0,305.5 L956.0,305.4 L955.0,305.3 L954.0,305.3 L953.0,305.2 L952.0,305.1 L951.0,305.0 L950.0,305.0 L949.0,304.9 L948.0,304.8 L947.0,304.7 L946.0,304.7 L945.0,304.6 L944.0,304.5 L943.0,304.5 L942.0,304.4 L941.0,304.3 L940.0,304.3 L939.0,304.2 L938.0,304.1 L937.0,304.0 L936.0,304.0 L935.0,303.9 L934.0,303.9 L933.0,303.8 L932.0,303.7 L931.0,303.7 L930.0,303.6 L929.0,303.5 L928.0,303.5 L927.0,303.4 L926.0,303.4 L925.1,303.3 L924.1,303.2 L923.1,303.2 L922.1,303.1 L921.1,303.1 L920.1,303.0 L919.1,303.0 L918.1,302.9 L917.1,302.8 L916.1,302.8 L915.1,302.7 L914.1,302.7 L913.1,302.6 L912.1,302.6 L911.1,302.5 L910.1,302.5 L909.1,302.4 L908.1,302.4 L907.1,302.3 L906.1,302.3 L905.1,302.3 L904.1,302.2 L903.1,302.2 L902.1,302.1 L901.1,302.1 L900.1,302.0 L899.2,302.0 L898.2,302.0 L897.2,301.9 L896.2,301.9 L895.2,301.8 L894.2,301.8 L893.2,301.8 L892.2,301.7 L891.2,301.7 L890.2,301.7 L889.2,301.6 L888.2,301.6 L887.2,301.6 L886.2,301.6 L885.2,301.5 L884.2,301.5 L883.2,301.5 L882.2,301.4 L881.2,301.4 L880.2,301.4 L879.2,301.4 L878.2,301.4 L877.2,301.3 L876.2,301.3 L875.2,301.3 L874.2,301.3 L873.2,301.3 L872.2,301.2 L871.3,301.2 L870.3,301.2 L869.3,301.2 L868.3,301.2 L867.3,301.2 L866.3,301.2 L865.3,301.2 L864.3,301.2 L863.3,301.1 L862.3,301.1 L861.3,301.1 L860.3,301.1 L859.3,301.1 L858.3,301.1 L857.3,301.1 L856.3,301.1 L855.3,301.1 L854.3,301.1 L853.3,301.1 L852.3,301.1 L851.3,301.1 L850.3,301.1 L849.3,301.2 L848.3,301.2 L847.3,301.2 L846.3,301.2 L845.3,301.2 L844.3,301.2 L843.3,301.2 L842.3,301.2 L841.3,301.3 L840.3,301.3 L839.3,301.3 L838.3,301.3 L837.3,301.3 L836.3,301.4 L835.3,301.4 L834.3,301.4 L833.3,301.4 L832.3,301.5 L831.3,301.5 L830.3,301.5 L829.3,301.5 L828.3,301.6 L827.3,301.6 L826.3,301.6 L825.3,301.7 L824.2,301.7 L823.2,301.8 L822.2,301.8 L821.2,301.8 L820.2,301.9 L819.2,301.9 L818.2,302.0 L817.2,302.0 L816.2,302.0 L815.2,302.1 L814.2,302.1 L813.2,302.2 L812.2,302.2 L811.2,302.3 L810.2,302.3 L809.2,302.4 L808.2,302.5 L807.2,302.5 L806.2,302.6 L805.2,302.6 L804.2,302.7 L803.1,302.8 L802.1,302.8 L801.1,302.9 L800.1,302.9 L799.1,303.0 L798.1,303.1 L797.1,303.1 L796.1,303.2 L795.1,303.3 L794.1,303.3 L793.1,303.4 L792.1,303.5 L791.1,303.6 L790.1,303.6 L789.1,303.7 L788.1,303.8 L787.1,303.9 L786.1,303.9 L785.1,304.0 L784.1,304.1 L783.1,304.2 L782.1,304.3 L781.1,304.3 L780.1,304.4 L779.1,304.5 L778.1,304.6 L777.1,304.7 L776.1,304.8 L775.1,304.9 L774.1,305.0 L773.1,305.0 L772.1,305.1 L771.2,305.2 L770.2,305.3 L769.2,305.4 L768.2,305.5 L767.2,305.6 L766.2,305.7 L765.2,305.8 L764.2,305.9 L763.2,306.0 L762.2,306.1 L761.3,306.2 L760.3,306.3 L759.3,306.4 L758.3,306.5" fill="none" stroke="#B89A2A" stroke-width="2" stroke-linejoin="round" stroke-linecap="round" />
<path d="M758.3,296.5 L759.3,296.3 L760.3,296.2 L761.3,296.0 L762.3,295.9 L763.3,295.7 L764.3,295.6 L765.3,295.4 L766.3,295.3 L767.3,295.1 L768.2,295.0 L769.2,294.9 L770.2,294.7 L771.2,294.6 L772.2,294.4 L773.2,294.3 L774.2,294.2 L775.2,294.0 L776.2,293.9 L777.2,293.8 L778.2,293.6 L779.2,293.5 L780.2,293.4 L781.2,293.3 L782.2,293.1 L783.2,293.0 L784.2,292.9 L785.2,292.8 L786.2,292.6 L787.2,292.5 L788.2,292.4 L789.2,292.3 L790.2,292.2 L791.2,292.0 L792.2,291.9 L793.2,291.8 L794.2,291.7 L795.2,291.6 L796.1,291.5 L797.1,291.4 L798.1,291.2 L799.1,291.1 L800.1,291.0 L801.1,290.9 L802.1,290.8 L803.1,290.7 L804.1,290.6 L805.1,290.5 L806.1,290.4 L807.1,290.3 L808.1,290.2 L809.1,290.1 L810.1,290.0 L811.1,289.9 L812.1,289.8 L813.1,289.7 L814.1,289.6 L815.1,289.5 L816.1,289.4 L817.1,289.3 L818.1,289.2 L819.1,289.1 L820.1,289.1 L821.1,289.0 L822.1,288.9 L823.1,288.8 L824.1,288.7 L825.1,288.6 L826.1,288.5 L827.1,288.4 L828.1,288.3 L829.1,288.3 L830.1,288.2 L831.1,288.1 L832.1,288.0 L833.1,287.9 L834.1,287.8 L835.1,287.8 L836.1,287.7 L837.1,287.6 L838.1,287.5 L839.1,287.4 L840.1,287.4 L841.1,287.3 L842.1,287.2 L843.1,287.1 L844.1,287.1 L845.1,287.0 L846.1,286.9 L847.1,286.8 L848.1,286.8 L849.1,286.7 L850.1,286.6 L851.1,286.5 L852.1,286.5 L853.1,286.4 L854.1,286.3 L855.1,286.2 L856.1,286.2 L857.1,286.1 L858.1,286.0 L859.1,286.0 L860.1,285.9 L861.1,285.8 L862.1,285.7 L863.1,285.7 L864.1,285.6 L865.1,285.5 L866.1,285.5 L867.1,285.4 L868.1,285.3 L869.1,285.3 L870.1,285.2 L871.1,285.1 L872.1,285.1 L873.1,285.0 L874.1,284.9 L875.1,284.9 L876.1,284.8 L877.1,284.7 L878.1,284.7 L879.1,284.6 L880.1,284.5 L881.1,284.5 L882.1,284.4 L883.1,284.3 L884.1,284.3 L885.1,284.2 L886.2,284.1 L887.2,284.1 L888.2,284.0 L889.2,283.9 L890.2,283.9 L891.2,283.8 L892.2,283.7 L893.2,283.7 L894.2,283.6 L895.2,283.5 L896.2,283.5 L897.2,283.4 L898.2,283.3 L899.2,283.3 L900.2,283.2 L901.2,283.1 L902.2,283.1 L903.2,283.0 L904.2,282.9 L905.2,282.8 L906.2,282.8 L907.2,282.7 L908.2,282.6 L909.2,282.6 L910.2,282.5 L911.2,282.4 L912.2,282.4 L913.2,282.3 L914.2,282.2 L915.2,282.2 L916.2,282.1 L917.2,282.0 L918.2,281.9 L919.2,281.9 L920.2,281.8 L921.2,281.7 L922.2,281.7 L923.2,281.6 L924.2,281.5 L925.2,281.4 L926.2,281.4 L927.2,281.3 L928.2,281.2 L929.2,281.1 L930.2,281.1 L931.2,281.0 L932.2,280.9 L933.2,280.8 L934.2,280.8 L935.2,280.7 L936.2,280.6 L937.2,280.5 L938.2,280.4 L939.2,280.4 L940.2,280.3 L941.2,280.2 L942.2,280.1 L943.2,280.0 L944.2,280.0 L945.2,279.9 L946.2,279.8 L947.2,279.7 L948.2,279.6 L949.2,279.5 L950.2,279.4 L951.2,279.4 L952.2,279.3 L953.2,279.2 L954.2,279.1 L955.2,279.0 L956.2,278.9 L957.2,278.8 L958.2,278.7 L959.2,278.6 L960.2,278.5 L961.2,278.4 L962.2,278.3 L963.2,278.3 L964.2,278.2 L965.2,278.1 L966.2,278.0 L967.2,277.9 L968.2,277.8 L969.2,277.7 L970.2,277.6 L971.2,277.5 L972.2,277.3 L973.2,277.2 L974.2,277.1 L975.2,277.0 L976.2,276.9 L977.2,276.8 L978.2,276.7 L979.2,276.6 L980.2,276.5 L981.2,276.4 L982.2,276.3 L983.2,276.1 L984.2,276.0 L985.2,275.9 L986.2,275.8 L987.2,275.7 L988.2,275.6 L989.2,275.4 L990.2,275.3 L991.2,275.2 L992.2,275.1 L993.2,274.9 L994.2,274.8 L995.2,274.7 L996.2,274.6 L997.2,274.4 L998.2,274.3 L999.2,274.2 L1000.2,274.0 L1001.2,273.9 L1002.2,273.8 L1003.2,273.6 L1004.2,273.5 L1005.2,273.4 L1006.2,273.2 L1007.2,273.1 L1008.2,272.9 L1009.2,272.8 L1010.2,272.6 L1011.2,272.5 L1012.2,272.3 L1013.2,272.2 L1014.2,272.0 L1015.1,271.9 L1016.1,271.7 L1017.1,271.6 L1018.1,271.4 L1019.1,271.3 L1020.1,271.1 L1021.1,271.0 L1022.1,270.8 L1023.1,270.6 L1024.1,270.5 L1025.1,270.3 L1026.1,270.1 L1027.1,270.0 L1028.1,269.8 L1029.1,269.6 L1030.1,269.4 L1031.1,269.3 L1032.1,269.1 L1033.1,268.9 L1034.1,268.7 L1035.1,268.6 L1036.1,268.4 L1037.0,268.2 L1038.0,268.0 L1039.0,267.8 L1040.0,267.6 L1041.0,267.4 L1042.0,267.2 L1043.0,267.0 L1044.0,266.8 L1045.0,266.6 L1046.0,266.4 L1047.0,266.2 L1047.9,266.0 L1048.9,265.8 L1049.9,265.5 L1050.9,265.3 L1051.8,265.1 L1052.8,264.8 L1053.7,264.6 L1054.7,264.3 L1055.6,264.0 L1056.6,263.7 L1057.5,263.4 L1058.4,263.1 L1059.3,262.8 L1060.2,262.4 L1061.1,262.1 L1062.0,261.7 L1062.9,261.3 L1063.7,260.9 L1064.6,260.5 L1065.4,260.1 L1066.3,259.6 L1067.1,259.2 L1067.9,258.7 L1068.7,258.2 L1069.5,257.7 L1070.2,257.2 L1071.0,256.6 L1071.7,256.0 L1072.4,255.4 L1073.2,254.8 L1073.8,254.2 L1074.5,253.5 L1075.2,252.8 L1075.8,252.1 L1076.4,251.4 L1077.0,250.6 L1077.6,249.8 L1078.2,249.0 L1078.7,248.2 L1079.3,247.3 L1079.8,246.5 L1080.3,245.6 L1080.8,244.6 L1081.3,243.7 L1081.8,242.8 L1082.2,241.8 L1082.7,240.9 L1083.1,239.9 L1083.6,238.9 L1084.0,237.9 L1084.5,236.9 L1084.9,236.0 L1085.4,235.0 L1085.8,234.0 L1086.3,233.0 L1086.7,232.0 L1087.2,231.1 L1087.7,230.1 L1088.2,229.2 L1088.7,228.2 L1089.2,227.3 L1089.7,226.4 L1090.2,225.5 L1090.8,224.6 L1091.4,223.8 L1091.9,222.9 L1092.5,222.1 L1093.1,221.3 L1093.7,220.5 L1094.4,219.7 L1095.0,219.0 L1095.7,218.2 L1096.3,217.5 L1097.0,216.8 L1097.7,216.1 L1098.4,215.4 L1099.1,214.7 L1099.8,214.0 L1100.5,213.4 L1101.3,212.7 L1102.0,212.1 L1102.8,211.5 L1103.5,210.8 L1104.3,210.2 L1105.1,209.6 L1105.9,209.1 L1106.7,208.5 L1107.5,207.9 L1108.3,207.4 L1109.1,206.8 L1109.9,206.3 L1110.8,205.7 L1111.6,205.2 L1112.4,204.7 L1113.3,204.2 L1114.1,203.7 L1115.0,203.2 L1115.8,202.7 L1116.7,202.2 L1117.6,201.7 L1118.5,201.2 L1119.3,200.7 L1120.2,200.3 L1121.1,199.8 L1122.0,199.3 L1122.9,198.9 L1123.8,198.4 L1124.7,197.9 L1125.6,197.5 L1126.5,197.1 L1127.4,196.6 L1128.3,196.2 L1129.2,195.7 L1130.1,195.3 L1131.0,194.9 L1131.9,194.4 L1132.8,194.0 L1133.8,193.6 L1134.7,193.1 L1135.6,192.7 L1136.5,192.3 L1137.4,191.9 L1138.4,191.5 L1139.3,191.0 L1140.2,190.6 L1141.1,190.2 L1142.0,189.8 L1143.0,189.4 L1143.9,189.0 L1144.8,188.6 L1145.7,188.2 L1146.7,187.8 L1147.6,187.3 L1148.5,186.9 L1149.4,186.5 L1150.4,186.1 L1151.3,185.7 L1152.2,185.3 L1153.1,184.9 L1154.1,184.5 L1155.0,184.1 L1155.9,183.7 L1156.8,183.3 L1157.7,182.9 L1158.7,182.4 L1159.6,182.0 L1160.5,181.6 L1161.4,181.2 L1162.3,180.8 L1163.3,180.4 L1164.2,180.0 L1165.1,179.6 L1166.0,179.2 L1166.9,178.8 L1167.9,178.4 L1168.8,178.0 L1169.7,177.6 L1170.6,177.2 L1171.5,176.8 L1172.4,176.4 L1173.4,176.0 L1174.3,175.6 L1175.2,175.2 L1176.1,174.8 L1177.0,174.4 L1177.9,174.0 L1178.9,173.6 L1179.8,173.2 L1180.7,172.8 L1181.6,172.4 L1182.5,171.9 L1183.4,171.5 L1184.4,171.1 L1185.3,170.7 L1186.2,170.3 L1187.1,169.9 L1188.0,169.5 L1188.9,169.1 L1189.9,168.7 L1190.8,168.3 L1191.7,167.9 L1192.6,167.6 L1193.5,167.2 L1194.4,166.8 L1195.4,166.4 L1196.3,166.0 L1197.2,165.6 L1198.1,165.2 L1199.0,164.8 L1199.9,164.4 L1200.9,164.0 L1201.8,163.6 L1202.7,163.2 L1203.6,162.8 L1204.5,162.4 L1205.5,162.0 L1206.4,161.6 L1207.3,161.2 L1208.2,160.8 L1209.1,160.4 L1210.1,160.0 L1211.0,159.6 L1211.9,159.2 L1212.8,158.8 L1213.7,158.4 L1214.7,158.0 L1215.6,157.6 L1216.5,157.3 L1217.4,156.9 L1218.3,156.5 L1219.3,156.1 L1220.2,155.7 L1221.1,155.3 L1222.0,154.9 L1223.0,154.5 L1223.9,154.1 L1224.8,153.7 L1225.7,153.3 L1226.7,152.9 L1227.6,152.6 L1228.5,152.2 L1229.4,151.8 L1230.4,151.4 L1231.3,151.0 L1232.2,150.6 L1233.2,150.2 L1234.1,149.8 L1235.0,149.4 L1235.9,149.0 L1236.9,148.7 L1237.8,148.3 L1238.7,147.9 L1239.7,147.5 L1240.6,147.1" fill="none" stroke="#A47CCB" stroke-width="2" stroke-linejoin="round" stroke-linecap="round" />
<path d="M1240.6,147.1 L1240.6,148.1 L1240.5,149.1 L1240.5,150.1 L1240.5,151.1 L1240.5,152.1 L1240.5,153.0 L1240.4,154.0 L1240.4,155.0 L1240.4,156.0 L1240.4,157.0 L1240.4,158.0 L1240.4,159.0 L1240.4,160.0 L1240.4,161.0 L1240.4,162.0 L1240.4,163.0 L1240.3,164.0 L1240.3,165.0 L1240.3,166.0 L1240.3,167.0 L1240.3,168.0 L1240.3,169.0 L1240.3,170.0 L1240.3,171.1 L1240.3,172.1 L1240.3,173.1 L1240.3,174.1 L1240.3,175.1 L1240.3,176.1 L1240.3,177.1 L1240.4,178.1 L1240.4,179.1 L1240.4,180.1 L1240.4,181.1 L1240.4,182.1 L1240.4,183.1 L1240.4,184.1 L1240.4,185.2 L1240.4,186.2 L1240.4,187.2 L1240.3,188.2 L1240.3,189.2 L1240.3,190.2 L1240.3,191.2 L1240.3,192.2 L1240.3,193.2 L1240.3,194.2 L1240.3,195.2 L1240.3,196.2 L1240.3,197.3 L1240.3,198.3 L1240.2,199.3 L1240.2,200.3 L1240.2,201.3 L1240.2,202.3 L1240.2,203.3 L1240.1,204.3 L1240.1,205.3 L1240.1,206.3 L1240.0,207.3 L1240.0,208.3 L1240.0,209.3 L1239.9,210.3 L1239.9,211.3 L1239.8,212.4 L1239.8,213.4 L1239.7,214.4 L1239.7,215.4 L1239.6,216.4 L1239.6,217.4 L1239.5,218.4 L1239.4,219.4 L1239.4,220.4 L1239.3,221.4 L1239.2,222.4 L1239.1,223.4 L1239.1,224.4 L1239.0,225.4 L1238.9,226.3 L1238.8,227.3 L1238.7,228.3 L1238.6,229.3 L1238.5,230.3 L1238.4,231.3 L1238.3,232.3 L1238.1,233.3 L1238.0,234.3 L1237.9,235.3 L1237.8,236.3 L1237.6,237.2 L1237.5,238.2 L1237.3,239.2 L1237.2,240.2 L1237.0,241.2 L1236.9,242.2 L1236.7,243.1 L1236.5,244.1 L1236.4,245.1 L1236.2,246.1 L1236.0,247.0 L1235.8,248.0 L1235.6,249.0 L1235.4,250.0 L1235.3,250.9 L1235.1,251.9 L1234.9,252.9 L1234.6,253.9 L1234.4,254.8 L1234.2,255.8 L1234.0,256.8 L1233.8,257.8 L1233.6,258.7 L1233.4,259.7 L1233.1,260.7 L1232.9,261.6 L1232.7,262.6 L1232.5,263.6 L1232.2,264.6 L1232.0,265.5 L1231.8,266.5 L1231.5,267.5 L1231.3,268.4 L1231.0,269.4 L1230.8,270.4 L1230.6,271.4 L1230.3,272.3 L1230.1,273.3 L1229.8,274.3 L1229.6,275.3 L1229.4,276.2 L1229.1,277.2 L1228.9,278.2 L1228.6,279.2 L1228.4,280.2 L1228.2,281.1 L1227.9,282.1 L1227.7,283.1 L1227.4,284.1 L1227.2,285.1 L1227.0,286.1 L1226.7,287.1 L1226.5,288.0 L1226.3,289.0 L1226.0,290.0 L1225.8,291.0 L1225.6,292.0 L1225.4,293.0 L1225.1,294.0 L1224.9,295.0 L1224.7,296.0 L1224.5,297.0 L1224.3,298.0 L1224.1,299.0 L1223.8,300.0 L1223.6,301.1 L1223.4,302.1 L1223.2,303.1 L1223.0,304.1 L1222.7,305.1 L1222.5,306.1 L1222.3,307.1 L1222.0,308.0 L1221.8,309.0 L1221.5,310.0 L1221.3,311.0 L1221.0,312.0 L1220.7,312.9 L1220.4,313.9 L1220.1,314.9 L1219.8,315.8 L1219.5,316.8 L1219.2,317.7 L1218.8,318.6 L1218.5,319.6 L1218.1,320.5 L1217.7,321.4 L1217.3,322.3 L1216.9,323.2 L1216.5,324.1 L1216.1,325.0 L1215.6,325.8 L1215.1,326.7 L1214.6,327.5 L1214.1,328.4 L1213.6,329.2 L1213.0,330.0 L1212.5,330.8 L1211.9,331.6 L1211.2,332.3 L1210.6,333.1 L1210.0,333.8 L1209.3,334.6 L1208.6,335.3 L1207.9,336.0 L1207.2,336.7 L1206.5,337.4 L1205.7,338.0 L1204.9,338.7 L1204.2,339.3 L1203.4,339.9 L1202.6,340.5 L1201.8,341.1 L1200.9,341.7 L1200.1,342.2 L1199.2,342.8 L1198.4,343.3 L1197.5,343.8 L1196.6,344.3 L1195.7,344.7 L1194.8,345.2 L1193.9,345.6 L1193.0,346.0 L1192.0,346.4 L1191.1,346.8 L1190.2,347.2 L1189.2,347.5 L1188.3,347.8 L1187.3,348.1 L1186.3,348.4 L1185.4,348.7 L1184.4,348.9 L1183.4,349.1 L1182.5,349.3 L1181.5,349.5 L1180.5,349.7 L1179.5,349.8 L1178.5,349.9 L1177.5,350.0 L1176.6,350.1 L1175.6,350.2 L1174.6,350.2 L1173.6,350.3 L1172.6,350.3 L1171.6,350.3 L1170.6,350.3 L1169.6,350.3 L1168.6,350.3 L1167.6,350.2 L1166.6,350.2 L1165.6,350.1 L1164.6,350.1 L1163.6,350.0 L1162.6,349.9 L1161.6,349.8 L1160.6,349.7 L1159.5,349.6 L1158.5,349.5 L1157.5,349.4 L1156.5,349.3 L1155.5,349.2 L1154.5,349.1 L1153.5,349.0 L1152.5,348.9 L1151.5,348.8 L1150.4,348.6 L1149.4,348.5 L1148.4,348.4 L1147.4,348.3 L1146.4,348.2 L1145.4,348.1 L1144.4,348.0 L1143.4,347.9 L1142.4,347.7 L1141.4,347.6 L1140.4,347.5 L1139.4,347.3 L1138.4,347.2 L1137.4,347.0 L1136.4,346.8 L1135.4,346.7 L1134.4,346.5 L1133.5,346.3 L1132.5,346.1 L1131.5,345.9 L1130.6,345.6 L1129.6,345.4 L1128.7,345.1 L1127.7,344.9 L1126.8,344.6 L1125.9,344.3 L1124.9,344.0 L1124.0,343.6 L1123.1,343.3 L1122.2,342.9 L1121.3,342.5 L1120.4,342.1 L1119.5,341.7 L1118.7,341.2 L1117.8,340.7 L1116.9,340.2 L1116.1,339.7 L1115.3,339.2 L1114.4,338.6 L1113.6,338.0 L1112.8,337.4 L1112.0,336.8 L1111.2,336.1 L1110.4,335.4 L1109.6,334.8 L1108.8,334.1 L1108.1,333.4 L1107.3,332.7 L1106.5,332.0 L1105.7,331.3 L1104.9,330.6 L1104.2,329.9 L1103.4,329.2 L1102.6,328.6 L1101.8,327.9 L1101.0,327.3 L1100.2,326.6 L1099.3,326.0 L1098.5,325.4 L1097.7,324.8 L1096.9,324.2 L1096.0,323.6 L1095.2,323.1 L1094.4,322.5 L1093.5,322.0 L1092.7,321.4 L1091.8,320.9 L1091.0,320.4 L1090.1,319.9 L1089.2,319.4 L1088.3,318.9 L1087.5,318.5 L1086.6,318.0 L1085.7,317.5 L1084.8,317.1 L1083.9,316.7 L1083.0,316.2 L1082.1,315.8 L1081.2,315.4 L1080.3,315.0 L1079.4,314.6 L1078.5,314.2 L1077.6,313.9 L1076.7,313.5 L1075.8,313.1 L1074.8,312.8 L1073.9,312.4 L1073.0,312.1 L1072.0,311.7 L1071.1,311.4 L1070.2,311.1 L1069.2,310.8 L1068.3,310.5 L1067.3,310.2 L1066.4,309.9 L1065.4,309.6 L1064.5,309.3 L1063.5,309.0 L1062.6,308.8 L1061.6,308.5 L1060.7,308.2 L1059.7,308.0 L1058.7,307.7 L1057.8,307.5 L1056.8,307.2 L1055.8,307.0 L1054.9,306.8 L1053.9,306.5 L1052.9,306.3 L1052.0,306.1 L1051.0,305.9 L1050.0,305.6 L1049.0,305.4 L1048.1,305.2 L1047.1,305.0 L1046.1,304.8 L1045.1,304.6 L1044.2,304.4 L1043.2,304.2 L1042.2,304.0 L1041.2,303.8 L1040.2,303.7 L1039.3,303.5 L1038.3,303.3 L1037.3,303.1 L1036.3,302.9 L1035.3,302.7 L1034.4,302.6 L1033.4,302.4 L1032.4,302.2 L1031.4,302.1 L1030.4,301.9 L1029.4,301.7 L1028.5,301.6 L1027.5,301.4 L1026.5,301.2 L1025.5,301.1 L1024.5,300.9 L1023.5,300.8 L1022.5,300.6 L1021.6,300.5 L1020.6,300.3 L1019.6,300.2 L1018.6,300.0 L1017.6,299.9 L1016.6,299.8 L1015.6,299.6 L1014.7,299.5 L1013.7,299.3 L1012.7,299.2 L1011.7,299.1 L1010.7,299.0 L1009.7,298.8 L1008.7,298.7 L1007.7,298.6 L1006.7,298.5 L1005.7,298.3 L1004.8,298.2 L1003.8,298.1 L1002.8,298.0 L1001.8,297.9 L1000.8,297.8 L999.8,297.7 L998.8,297.6 L997.8,297.4 L996.8,297.3 L995.8,297.2 L994.8,297.1 L993.8,297.0 L992.8,296.9 L991.8,296.8 L990.9,296.8 L989.9,296.7 L988.9,296.6 L987.9,296.5 L986.9,296.4 L985.9,296.3 L984.9,296.2 L983.9,296.1 L982.9,296.1 L981.9,296.0 L980.9,295.9 L979.9,295.8 L978.9,295.8 L977.9,295.7 L976.9,295.6 L975.9,295.5 L974.9,295.5 L973.9,295.4 L972.9,295.3 L971.9,295.3 L970.9,295.2 L969.9,295.1 L968.9,295.1 L967.9,295.0 L966.9,295.0 L965.9,294.9 L964.9,294.9 L963.9,294.8 L962.9,294.7 L961.9,294.7 L960.9,294.6 L959.9,294.6 L958.9,294.6 L957.9,294.5 L956.9,294.5 L955.9,294.4 L954.9,294.4 L953.9,294.3 L952.9,294.3 L951.9,294.3 L950.9,294.2 L949.9,294.2 L948.9,294.1 L947.9,294.1 L946.9,294.1 L945.9,294.1 L944.9,294.0 L943.9,294.0 L942.9,294.0 L941.9,293.9 L940.9,293.9 L939.9,293.9 L938.9,293.9 L937.9,293.8 L936.9,293.8 L935.8,293.8 L934.8,293.8 L933.8,293.8 L932.8,293.7 L931.8,293.7 L930.8,293.7 L929.8,293.7 L928.8,293.7 L927.8,293.7 L926.8,293.7 L925.8,293.7 L924.8,293.6 L923.8,293.6 L922.8,293.6 L921.8,293.6 L920.8,293.6 L919.8,293.6 L918.8,293.6 L917.8,293.6 L916.7,293.6 L915.7,293.6 L914.7,293.6 L913.7,293.6 L912.7,293.6 L911.7,293.6 L910.7,293.6 L909.7,293.6 L908.7,293.6 L907.7,293.6 L906.7,293.6 L905.7,293.6 L904.7,293.6 L903.7,293.6 L902.7,293.6 L901.6,293.7 L900.6,293.7 L899.6,293.7 L898.6,293.7 L897.6,293.7 L896.6,293.7 L895.6,293.7 L894.6,293.7 L893.6,293.7 L892.6,293.8 L891.6,293.8 L890.6,293.8 L889.6,293.8 L888.6,293.8 L887.5,293.8 L886.5,293.9 L885.5,293.9 L884.5,293.9 L883.5,293.9 L882.5,293.9 L881.5,294.0 L880.5,294.0 L879.5,294.0 L878.5,294.0 L877.5,294.0 L876.5,294.1 L875.5,294.1 L874.5,294.1 L873.4,294.1 L872.4,294.2 L871.4,294.2 L870.4,294.2 L869.4,294.2 L868.4,294.3 L867.4,294.3 L866.4,294.3 L865.4,294.3 L864.4,294.4 L863.4,294.4 L862.4,294.4 L861.4,294.4 L860.4,294.5 L859.3,294.5 L858.3,294.5 L857.3,294.5 L856.3,294.6 L855.3,294.6 L854.3,294.6 L853.3,294.7 L852.3,294.7 L851.3,294.7 L850.3,294.8 L849.3,294.8 L848.3,294.8 L847.3,294.8 L846.3,294.9 L845.3,294.9 L844.2,294.9 L843.2,295.0 L842.2,295.0 L841.2,295.0 L840.2,295.0 L839.2,295.1 L838.2,295.1 L837.2,295.1 L836.2,295.2 L835.2,295.2 L834.2,295.2 L833.2,295.3 L832.2,295.3 L831.2,295.3 L830.2,295.4 L829.2,295.4 L828.2,295.4 L827.2,295.4 L826.2,295.5 L825.2,295.5 L824.2,295.5 L823.1,295.6 L822.1,295.6 L821.1,295.6 L820.1,295.6 L819.1,295.7 L818.1,295.7 L817.1,295.7 L816.1,295.8 L815.1,295.8 L814.1,295.8 L813.1,295.8 L812.1,295.9 L811.1,295.9 L810.1,295.9 L809.1,295.9 L808.1,296.0 L807.1,296.0 L806.1,296.0 L805.1,296.0 L804.1,296.1 L803.1,296.1 L802.1,296.1 L801.1,296.1 L800.1,296.2 L799.1,296.2 L798.1,296.2 L797.1,296.2 L796.1,296.2 L795.1,296.3 L794.1,296.3 L793.1,296.3 L792.1,296.3 L791.1,296.3 L790.1,296.4 L789.1,296.4 L788.1,296.4 L787.1,296.4 L786.1,296.4 L785.1,296.4 L784.1,296.5 L783.1,296.5 L782.1,296.5 L781.1,296.5 L780.1,296.5 L779.2,296.5 L778.2,296.5 L777.2,296.5 L776.2,296.5 L775.2,296.6 L774.2,296.6 L773.2,296.6 L772.2,296.6 L771.2,296.6 L770.2,296.6 L769.2,296.6 L768.2,296.6 L767.2,296.6 L766.2,296.6 L765.2,296.6 L764.2,296.6 L763.3,296.6 L762.3,296.6 L761.3,296.6 L760.3,296.6 L759.3,296.6 L758.3,296.6" fill="none" stroke="#A47CCB" stroke-width="2" stroke-linejoin="round" stroke-linecap="round" />
<path d="M758.3,292.5 L759.3,292.4 L760.3,292.2 L761.3,292.1 L762.3,292.0 L763.2,291.9 L764.2,291.7 L765.2,291.6 L766.2,291.5 L767.2,291.4 L768.2,291.3 L769.2,291.1 L770.2,291.0 L771.2,290.9 L772.2,290.8 L773.2,290.7 L774.2,290.6 L775.1,290.5 L776.1,290.4 L777.1,290.3 L778.1,290.2 L779.1,290.1 L780.1,290.0 L781.1,289.9 L782.1,289.8 L783.1,289.7 L784.1,289.6 L785.1,289.5 L786.1,289.4 L787.1,289.3 L788.1,289.2 L789.1,289.1 L790.1,289.0 L791.1,288.9 L792.1,288.8 L793.1,288.7 L794.1,288.6 L795.1,288.6 L796.1,288.5 L797.1,288.4 L798.1,288.3 L799.1,288.2 L800.1,288.1 L801.1,288.1 L802.1,288.0 L803.1,287.9 L804.1,287.8 L805.1,287.8 L806.1,287.7 L807.1,287.6 L808.1,287.5 L809.1,287.5 L810.1,287.4 L811.1,287.3 L812.1,287.2 L813.1,287.2 L814.1,287.1 L815.1,287.0 L816.1,287.0 L817.1,286.9 L818.1,286.8 L819.1,286.8 L820.1,286.7 L821.1,286.6 L822.1,286.6 L823.1,286.5 L824.1,286.5 L825.1,286.4 L826.1,286.3 L827.1,286.3 L828.1,286.2 L829.1,286.2 L830.1,286.1 L831.1,286.0 L832.1,286.0 L833.1,285.9 L834.1,285.9 L835.1,285.8 L836.1,285.8 L837.1,285.7 L838.1,285.7 L839.2,285.6 L840.2,285.6 L841.2,285.5 L842.2,285.5 L843.2,285.4 L844.2,285.3 L845.2,285.3 L846.2,285.2 L847.2,285.2 L848.2,285.1 L849.2,285.1 L850.2,285.0 L851.2,285.0 L852.2,285.0 L853.2,284.9 L854.2,284.9 L855.2,284.8 L856.2,284.8 L857.3,284.7 L858.3,284.7 L859.3,284.6 L860.3,284.6 L861.3,284.5 L862.3,284.5 L863.3,284.4 L864.3,284.4 L865.3,284.3 L866.3,284.3 L867.3,284.2 L868.3,284.2 L869.3,284.2 L870.3,284.1 L871.3,284.1 L872.4,284.0 L873.4,284.0 L874.4,283.9 L875.4,283.9 L876.4,283.8 L877.4,283.8 L878.4,283.7 L879.4,283.7 L880.4,283.7 L881.4,283.6 L882.4,283.6 L883.4,283.5 L884.4,283.5 L885.4,283.4 L886.5,283.4 L887.5,283.3 L888.5,283.3 L889.5,283.2 L890.5,283.2 L891.5,283.1 L892.5,283.1 L893.5,283.0 L894.5,283.0 L895.5,283.0 L896.5,282.9 L897.5,282.9 L898.5,282.8 L899.5,282.8 L900.5,282.7 L901.6,282.7 L902.6,282.6 L903.6,282.6 L904.6,282.5 L905.6,282.5 L906.6,282.4 L907.6,282.3 L908.6,282.3 L909.6,282.2 L910.6,282.2 L911.6,282.1 L912.6,282.1 L913.6,282.0 L914.6,282.0 L915.6,281.9 L916.6,281.9 L917.6,281.8 L918.6,281.7 L919.7,281.7 L920.7,281.6 L921.7,281.6 L922.7,281.5 L923.7,281.4 L924.7,281.4 L925.7,281.3 L926.7,281.3 L927.7,281.2 L928.7,281.1 L929.7,281.1 L930.7,281.0 L931.7,280.9 L932.7,280.9 L933.7,280.8 L934.7,280.7 L935.7,280.7 L936.7,280.6 L937.7,280.5 L938.7,280.4 L939.7,280.4 L940.7,280.3 L941.7,280.2 L942.7,280.1 L943.7,280.1 L944.7,280.0 L945.7,279.9 L946.7,279.8 L947.7,279.8 L948.7,279.7 L949.7,279.6 L950.7,279.5 L951.7,279.4 L952.7,279.3 L953.7,279.3 L954.7,279.2 L955.7,279.1 L956.7,279.0 L957.7,278.9 L958.7,278.8 L959.7,278.7 L960.7,278.6 L961.7,278.5 L962.7,278.4 L963.7,278.3 L964.7,278.2 L965.7,278.1 L966.7,278.0 L967.7,277.9 L968.7,277.8 L969.7,277.7 L970.7,277.6 L971.7,277.5 L972.7,277.4 L973.7,277.3 L974.7,277.2 L975.7,277.1 L976.6,277.0 L977.6,276.9 L978.6,276.8 L979.6,276.6 L980.6,276.5 L981.6,276.4 L982.6,276.3 L983.6,276.2 L984.6,276.0 L985.6,275.9 L986.6,275.8 L987.6,275.7 L988.6,275.5 L989.5,275.4 L990.5,275.3 L991.5,275.1 L992.5,275.0 L993.5,274.9 L994.5,274.7 L995.5,274.6 L996.5,274.4 L997.5,274.3 L998.4,274.2 L999.4,274.0 L1000.4,273.9 L1001.4,273.7 L1002.4,273.6 L1003.4,273.4 L1004.4,273.3 L1005.3,273.1 L1006.3,272.9 L1007.3,272.8 L1008.3,272.6 L1009.3,272.5 L1010.3,272.3 L1011.2,272.1 L1012.2,272.0 L1013.2,271.8 L1014.2,271.6 L1015.2,271.4 L1016.2,271.3 L1017.1,271.1 L1018.1,270.9 L1019.1,270.7 L1020.1,270.5 L1021.1,270.4 L1022.0,270.2 L1023.0,270.0 L1024.0,269.8 L1025.0,269.6 L1025.9,269.4 L1026.9,269.2 L1027.9,269.0 L1028.8,268.7 L1029.8,268.5 L1030.8,268.3 L1031.7,268.0 L1032.7,267.8 L1033.6,267.5 L1034.6,267.2 L1035.5,266.9 L1036.4,266.6 L1037.4,266.3 L1038.3,265.9 L1039.2,265.6 L1040.1,265.2 L1041.0,264.9 L1041.9,264.5 L1042.8,264.1 L1043.7,263.6 L1044.5,263.2 L1045.4,262.7 L1046.2,262.2 L1047.1,261.7 L1047.9,261.2 L1048.8,260.6 L1049.6,260.1 L1050.4,259.5 L1051.2,258.9 L1052.0,258.2 L1052.8,257.6 L1053.5,256.9 L1054.3,256.2 L1055.1,255.5 L1055.8,254.8 L1056.6,254.1 L1057.4,253.4 L1058.1,252.7 L1058.9,252.0 L1059.7,251.3 L1060.4,250.6 L1061.2,250.0 L1062.0,249.3 L1062.8,248.7 L1063.6,248.0 L1064.4,247.4 L1065.3,246.9 L1066.1,246.3 L1067.0,245.8 L1067.8,245.3 L1068.7,244.8 L1069.6,244.4 L1070.5,244.0 L1071.4,243.5 L1072.3,243.1 L1073.2,242.7 L1074.2,242.4 L1075.1,242.0 L1076.0,241.7 L1077.0,241.3 L1077.9,241.0 L1078.8,240.6 L1079.8,240.3 L1080.7,240.0 L1081.7,239.7 L1082.6,239.4 L1083.6,239.1 L1084.5,238.8 L1085.5,238.5 L1086.4,238.2 L1087.4,237.9 L1088.4,237.7 L1089.3,237.4 L1090.3,237.1 L1091.2,236.9 L1092.2,236.6 L1093.2,236.4 L1094.2,236.1 L1095.1,235.9 L1096.1,235.6 L1097.1,235.4 L1098.0,235.2 L1099.0,235.0 L1100.0,234.7 L1101.0,234.5 L1101.9,234.3 L1102.9,234.1 L1103.9,233.9 L1104.9,233.7 L1105.9,233.5 L1106.9,233.3 L1107.8,233.1 L1108.8,232.9 L1109.8,232.7 L1110.8,232.5 L1111.8,232.3 L1112.8,232.2 L1113.8,232.0 L1114.8,231.8 L1115.8,231.6 L1116.7,231.5 L1117.7,231.3 L1118.7,231.1 L1119.7,231.0 L1120.7,230.8 L1121.7,230.6 L1122.7,230.5 L1123.7,230.3 L1124.7,230.1 L1125.7,230.0 L1126.7,229.8 L1127.7,229.7 L1128.7,229.5 L1129.7,229.4 L1130.7,229.2 L1131.7,229.0 L1132.7,228.9 L1133.7,228.7 L1134.7,228.6 L1135.7,228.4 L1136.7,228.3 L1137.7,228.1 L1138.7,228.0 L1139.7,227.8 L1140.7,227.6 L1141.6,227.5 L1142.6,227.3 L1143.6,227.2 L1144.6,227.0 L1145.6,226.8 L1146.6,226.7 L1147.6,226.5 L1148.6,226.3 L1149.6,226.2 L1150.6,226.0 L1151.6,225.8 L1152.6,225.6 L1153.6,225.5 L1154.6,225.3 L1155.6,225.1 L1156.5,224.9 L1157.5,224.7 L1158.5,224.5 L1159.5,224.3 L1160.5,224.1 L1161.5,223.9 L1162.5,223.7 L1163.4,223.5 L1164.4,223.3 L1165.4,223.1 L1166.4,222.9 L1167.4,222.7 L1168.3,222.5 L1169.3,222.2 L1170.3,222.0 L1171.3,221.8 L1172.2,221.5 L1173.2,221.3 L1174.2,221.0 L1175.1,220.8 L1176.1,220.5 L1177.1,220.3 L1178.0,220.0 L1179.0,219.8 L1180.0,219.5 L1180.9,219.3 L1181.9,219.0 L1182.9,218.7 L1183.8,218.5 L1184.8,218.2 L1185.8,217.9 L1186.7,217.7 L1187.7,217.4 L1188.7,217.1 L1189.6,216.8 L1190.6,216.6 L1191.5,216.3 L1192.5,216.0 L1193.5,215.7 L1194.4,215.5 L1195.4,215.2 L1196.3,214.9 L1197.3,214.6 L1198.3,214.3 L1199.2,214.1 L1200.2,213.8 L1201.1,213.5 L1202.1,213.2 L1203.1,212.9 L1204.0,212.7 L1205.0,212.4 L1205.9,212.1 L1206.9,211.8 L1207.9,211.6 L1208.8,211.3 L1209.8,211.0 L1210.8,210.8 L1211.7,210.5 L1212.7,210.2 L1213.7,210.0 L1214.6,209.7 L1215.6,209.4 L1216.6,209.2 L1217.5,208.9 L1218.5,208.7 L1219.5,208.4 L1220.4,208.2 L1221.4,207.9 L1222.4,207.7 L1223.4,207.4 L1224.3,207.2 L1225.3,206.9 L1226.3,206.7 L1227.3,206.5 L1228.2,206.3 L1229.2,206.0 L1230.2,205.8 L1231.2,205.6 L1232.2,205.4 L1233.2,205.2 L1234.1,205.0 L1235.1,204.8 L1236.1,204.6 L1237.1,204.4 L1238.1,204.2 L1239.1,204.0 L1240.1,203.9 L1241.1,203.7" fill="none" stroke="#3C9670" stroke-width="2" stroke-linejoin="round" stroke-linecap="round" />
<path d="M1241.1,203.7 L1241.0,204.6 L1241.0,205.6 L1240.9,206.5 L1240.9,207.5 L1240.8,208.4 L1240.8,209.4 L1240.7,210.4 L1240.7,211.3 L1240.6,212.3 L1240.6,213.3 L1240.6,214.3 L1240.5,215.2 L1240.5,216.2 L1240.5,217.2 L1240.5,218.2 L1240.4,219.2 L1240.4,220.2 L1240.4,221.2 L1240.4,222.2 L1240.4,223.2 L1240.4,224.2 L1240.3,225.3 L1240.3,226.3 L1240.3,227.3 L1240.3,228.3 L1240.3,229.3 L1240.2,230.4 L1240.2,231.4 L1240.2,232.4 L1240.2,233.4 L1240.2,234.5 L1240.1,235.5 L1240.1,236.5 L1240.1,237.6 L1240.0,238.6 L1240.0,239.6 L1239.9,240.6 L1239.9,241.7 L1239.9,242.7 L1239.8,243.7 L1239.7,244.8 L1239.7,245.8 L1239.6,246.8 L1239.5,247.9 L1239.5,248.9 L1239.4,249.9 L1239.3,250.9 L1239.2,252.0 L1239.1,253.0 L1239.0,254.0 L1238.9,255.0 L1238.8,256.1 L1238.7,257.1 L1238.5,258.1 L1238.4,259.1 L1238.2,260.1 L1238.1,261.1 L1237.9,262.1 L1237.8,263.1 L1237.6,264.1 L1237.4,265.1 L1237.2,266.1 L1237.0,267.1 L1236.8,268.1 L1236.5,269.0 L1236.3,270.0 L1236.1,271.0 L1235.8,272.0 L1235.5,272.9 L1235.3,273.9 L1235.0,274.8 L1234.7,275.8 L1234.4,276.7 L1234.0,277.7 L1233.7,278.6 L1233.3,279.5 L1233.0,280.4 L1232.6,281.4 L1232.2,282.3 L1231.8,283.2 L1231.4,284.1 L1231.0,285.0 L1230.6,285.9 L1230.1,286.7 L1229.6,287.6 L1229.2,288.5 L1228.7,289.3 L1228.1,290.2 L1227.6,291.0 L1227.1,291.9 L1226.5,292.7 L1226.0,293.5 L1225.4,294.3 L1224.8,295.1 L1224.2,295.9 L1223.6,296.7 L1222.9,297.4 L1222.3,298.2 L1221.6,298.9 L1221.0,299.7 L1220.3,300.4 L1219.6,301.1 L1218.9,301.8 L1218.2,302.5 L1217.4,303.1 L1216.7,303.8 L1216.0,304.4 L1215.2,305.0 L1214.4,305.6 L1213.6,306.2 L1212.8,306.7 L1212.0,307.3 L1211.2,307.8 L1210.4,308.3 L1209.6,308.8 L1208.7,309.3 L1207.9,309.7 L1207.0,310.2 L1206.1,310.6 L1205.2,311.0 L1204.3,311.4 L1203.4,311.8 L1202.5,312.1 L1201.6,312.4 L1200.7,312.8 L1199.8,313.1 L1198.8,313.4 L1197.9,313.6 L1196.9,313.9 L1196.0,314.1 L1195.0,314.4 L1194.0,314.6 L1193.1,314.8 L1192.1,315.0 L1191.1,315.2 L1190.1,315.4 L1189.1,315.5 L1188.1,315.7 L1187.1,315.9 L1186.1,316.0 L1185.1,316.1 L1184.1,316.2 L1183.0,316.4 L1182.0,316.5 L1181.0,316.6 L1180.0,316.7 L1178.9,316.8 L1177.9,316.8 L1176.9,316.9 L1175.8,317.0 L1174.8,317.1 L1173.8,317.1 L1172.7,317.2 L1171.7,317.2 L1170.6,317.3 L1169.6,317.4 L1168.6,317.4 L1167.5,317.5 L1166.5,317.5 L1165.4,317.6 L1164.4,317.6 L1163.4,317.7 L1162.3,317.7 L1161.3,317.8 L1160.3,317.8 L1159.2,317.9 L1158.2,317.9 L1157.2,318.0 L1156.2,318.0 L1155.1,318.1 L1154.1,318.1 L1153.1,318.2 L1152.1,318.2 L1151.1,318.3 L1150.1,318.3 L1149.1,318.3 L1148.1,318.4 L1147.0,318.4 L1146.0,318.4 L1145.0,318.4 L1144.0,318.5 L1143.0,318.5 L1142.0,318.5 L1141.1,318.5 L1140.1,318.5 L1139.1,318.4 L1138.1,318.4 L1137.1,318.4 L1136.1,318.4 L1135.1,318.3 L1134.1,318.2 L1133.2,318.2 L1132.2,318.1 L1131.2,318.0 L1130.2,317.9 L1129.3,317.8 L1128.3,317.7 L1127.3,317.6 L1126.4,317.4 L1125.4,317.3 L1124.4,317.1 L1123.5,316.9 L1122.5,316.7 L1121.5,316.5 L1120.6,316.3 L1119.6,316.1 L1118.7,315.8 L1117.7,315.6 L1116.8,315.3 L1115.8,315.0 L1114.9,314.8 L1113.9,314.5 L1113.0,314.2 L1112.0,313.9 L1111.1,313.6 L1110.1,313.3 L1109.2,312.9 L1108.2,312.6 L1107.3,312.3 L1106.4,311.9 L1105.4,311.6 L1104.5,311.3 L1103.5,310.9 L1102.6,310.6 L1101.7,310.2 L1100.7,309.9 L1099.8,309.5 L1098.8,309.1 L1097.9,308.8 L1097.0,308.4 L1096.0,308.0 L1095.1,307.7 L1094.1,307.3 L1093.2,307.0 L1092.2,306.6 L1091.3,306.2 L1090.4,305.9 L1089.4,305.5 L1088.5,305.2 L1087.5,304.8 L1086.6,304.5 L1085.6,304.2 L1084.7,303.8 L1083.7,303.5 L1082.8,303.2 L1081.8,302.9 L1080.9,302.6 L1079.9,302.3 L1079.0,302.0 L1078.0,301.7 L1077.0,301.4 L1076.1,301.1 L1075.1,300.9 L1074.1,300.6 L1073.2,300.4 L1072.2,300.2 L1071.2,299.9 L1070.3,299.7 L1069.3,299.5 L1068.3,299.3 L1067.3,299.2 L1066.3,299.0 L1065.4,298.8 L1064.4,298.7 L1063.4,298.5 L1062.4,298.4 L1061.4,298.2 L1060.4,298.1 L1059.4,298.0 L1058.5,297.9 L1057.5,297.7 L1056.5,297.6 L1055.5,297.5 L1054.5,297.4 L1053.5,297.3 L1052.5,297.1 L1051.5,297.0 L1050.5,296.9 L1049.5,296.8 L1048.5,296.7 L1047.5,296.6 L1046.6,296.5 L1045.6,296.3 L1044.6,296.2 L1043.6,296.1 L1042.6,296.0 L1041.6,295.9 L1040.6,295.8 L1039.6,295.7 L1038.6,295.6 L1037.6,295.5 L1036.6,295.4 L1035.6,295.3 L1034.6,295.2 L1033.6,295.1 L1032.6,295.0 L1031.6,294.9 L1030.6,294.8 L1029.7,294.7 L1028.7,294.6 L1027.7,294.5 L1026.7,294.4 L1025.7,294.3 L1024.7,294.3 L1023.7,294.2 L1022.7,294.1 L1021.7,294.0 L1020.7,293.9 L1019.7,293.8 L1018.7,293.7 L1017.7,293.6 L1016.7,293.6 L1015.7,293.5 L1014.7,293.4 L1013.7,293.3 L1012.7,293.2 L1011.7,293.1 L1010.7,293.1 L1009.7,293.0 L1008.7,292.9 L1007.7,292.8 L1006.7,292.8 L1005.7,292.7 L1004.7,292.6 L1003.7,292.5 L1002.7,292.5 L1001.7,292.4 L1000.7,292.3 L999.7,292.3 L998.7,292.2 L997.7,292.1 L996.7,292.0 L995.7,292.0 L994.7,291.9 L993.7,291.8 L992.7,291.8 L991.7,291.7 L990.7,291.7 L989.7,291.6 L988.7,291.5 L987.7,291.5 L986.7,291.4 L985.7,291.4 L984.7,291.3 L983.7,291.2 L982.7,291.2 L981.7,291.1 L980.7,291.1 L979.7,291.0 L978.7,291.0 L977.7,290.9 L976.7,290.9 L975.7,290.8 L974.7,290.8 L973.7,290.7 L972.7,290.7 L971.7,290.6 L970.7,290.6 L969.7,290.5 L968.7,290.5 L967.7,290.4 L966.7,290.4 L965.7,290.3 L964.7,290.3 L963.7,290.2 L962.7,290.2 L961.7,290.2 L960.7,290.1 L959.7,290.1 L958.7,290.0 L957.7,290.0 L956.7,290.0 L955.7,289.9 L954.7,289.9 L953.7,289.9 L952.7,289.8 L951.7,289.8 L950.7,289.8 L949.7,289.7 L948.7,289.7 L947.7,289.7 L946.7,289.6 L945.7,289.6 L944.7,289.6 L943.7,289.5 L942.7,289.5 L941.7,289.5 L940.7,289.5 L939.6,289.4 L938.6,289.4 L937.6,289.4 L936.6,289.4 L935.6,289.3 L934.6,289.3 L933.6,289.3 L932.6,289.3 L931.6,289.2 L930.6,289.2 L929.6,289.2 L928.6,289.2 L927.6,289.2 L926.6,289.1 L925.6,289.1 L924.6,289.1 L923.6,289.1 L922.6,289.1 L921.6,289.1 L920.6,289.0 L919.6,289.0 L918.6,289.0 L917.6,289.0 L916.6,289.0 L915.6,289.0 L914.5,289.0 L913.5,289.0 L912.5,288.9 L911.5,288.9 L910.5,288.9 L909.5,288.9 L908.5,288.9 L907.5,288.9 L906.5,288.9 L905.5,288.9 L904.5,288.9 L903.5,288.9 L902.5,288.9 L901.5,288.9 L900.5,288.9 L899.5,288.9 L898.5,288.9 L897.5,288.9 L896.5,288.9 L895.5,288.9 L894.5,288.9 L893.5,288.9 L892.5,288.9 L891.4,288.9 L890.4,288.9 L889.4,288.9 L888.4,288.9 L887.4,288.9 L886.4,288.9 L885.4,288.9 L884.4,288.9 L883.4,288.9 L882.4,288.9 L881.4,288.9 L880.4,288.9 L879.4,288.9 L878.4,288.9 L877.4,288.9 L876.4,288.9 L875.4,288.9 L874.4,289.0 L873.4,289.0 L872.4,289.0 L871.4,289.0 L870.4,289.0 L869.4,289.0 L868.3,289.0 L867.3,289.0 L866.3,289.0 L865.3,289.1 L864.3,289.1 L863.3,289.1 L862.3,289.1 L861.3,289.1 L860.3,289.1 L859.3,289.2 L858.3,289.2 L857.3,289.2 L856.3,289.2 L855.3,289.2 L854.3,289.2 L853.3,289.3 L852.3,289.3 L851.3,289.3 L850.3,289.3 L849.3,289.3 L848.3,289.4 L847.3,289.4 L846.3,289.4 L845.3,289.4 L844.3,289.4 L843.3,289.5 L842.3,289.5 L841.3,289.5 L840.2,289.5 L839.2,289.6 L838.2,289.6 L837.2,289.6 L836.2,289.6 L835.2,289.7 L834.2,289.7 L833.2,289.7 L832.2,289.7 L831.2,289.8 L830.2,289.8 L829.2,289.8 L828.2,289.9 L827.2,289.9 L826.2,289.9 L825.2,289.9 L824.2,290.0 L823.2,290.0 L822.2,290.0 L821.2,290.1 L820.2,290.1 L819.2,290.1 L818.2,290.1 L817.2,290.2 L816.2,290.2 L815.2,290.2 L814.2,290.3 L813.2,290.3 L812.2,290.3 L811.2,290.4 L810.2,290.4 L809.2,290.4 L808.2,290.5 L807.2,290.5 L806.2,290.5 L805.2,290.6 L804.2,290.6 L803.2,290.7 L802.2,290.7 L801.2,290.7 L800.2,290.8 L799.2,290.8 L798.2,290.8 L797.2,290.9 L796.2,290.9 L795.2,290.9 L794.2,291.0 L793.2,291.0 L792.2,291.1 L791.2,291.1 L790.2,291.1 L789.2,291.2 L788.2,291.2 L787.2,291.3 L786.2,291.3 L785.2,291.3 L784.2,291.4 L783.2,291.4 L782.2,291.5 L781.2,291.5 L780.2,291.5 L779.2,291.6 L778.2,291.6 L777.2,291.7 L776.2,291.7 L775.2,291.8 L774.2,291.8 L773.2,291.8 L772.2,291.9 L771.2,291.9 L770.2,292.0 L769.3,292.0 L768.3,292.1 L767.3,292.1 L766.3,292.1 L765.3,292.2 L764.3,292.2 L763.3,292.3 L762.3,292.3 L761.3,292.4 L760.3,292.4 L759.3,292.5 L758.3,292.5" fill="none" stroke="#3C9670" stroke-width="2" stroke-linejoin="round" stroke-linecap="round" />
<path d="M758.3,289.5 L759.3,289.3 L760.3,289.2 L761.3,289.1 L762.3,288.9 L763.2,288.8 L764.2,288.6 L765.2,288.5 L766.2,288.4 L767.2,288.2 L768.2,288.1 L769.2,288.0 L770.2,287.8 L771.2,287.7 L772.2,287.6 L773.2,287.5 L774.2,287.4 L775.2,287.3 L776.2,287.1 L777.2,287.0 L778.1,286.9 L779.1,286.8 L780.1,286.7 L781.1,286.6 L782.1,286.5 L783.1,286.4 L784.1,286.3 L785.1,286.2 L786.1,286.2 L787.1,286.1 L788.1,286.0 L789.1,285.9 L790.1,285.8 L791.1,285.7 L792.1,285.7 L793.1,285.6 L794.1,285.5 L795.1,285.4 L796.1,285.4 L797.1,285.3 L798.1,285.2 L799.1,285.2 L800.1,285.1 L801.1,285.0 L802.1,285.0 L803.1,284.9 L804.1,284.9 L805.1,284.8 L806.1,284.8 L807.2,284.7 L808.2,284.6 L809.2,284.6 L810.2,284.5 L811.2,284.5 L812.2,284.5 L813.2,284.4 L814.2,284.4 L815.2,284.3 L816.2,284.3 L817.2,284.2 L818.2,284.2 L819.2,284.2 L820.2,284.1 L821.2,284.1 L822.2,284.1 L823.2,284.0 L824.2,284.0 L825.2,284.0 L826.3,283.9 L827.3,283.9 L828.3,283.9 L829.3,283.8 L830.3,283.8 L831.3,283.8 L832.3,283.8 L833.3,283.7 L834.3,283.7 L835.3,283.7 L836.3,283.7 L837.3,283.6 L838.3,283.6 L839.4,283.6 L840.4,283.6 L841.4,283.5 L842.4,283.5 L843.4,283.5 L844.4,283.5 L845.4,283.5 L846.4,283.5 L847.4,283.4 L848.4,283.4 L849.4,283.4 L850.5,283.4 L851.5,283.4 L852.5,283.4 L853.5,283.3 L854.5,283.3 L855.5,283.3 L856.5,283.3 L857.5,283.3 L858.5,283.3 L859.5,283.3 L860.5,283.2 L861.6,283.2 L862.6,283.2 L863.6,283.2 L864.6,283.2 L865.6,283.2 L866.6,283.2 L867.6,283.1 L868.6,283.1 L869.6,283.1 L870.6,283.1 L871.6,283.1 L872.7,283.1 L873.7,283.0 L874.7,283.0 L875.7,283.0 L876.7,283.0 L877.7,283.0 L878.7,283.0 L879.7,282.9 L880.7,282.9 L881.7,282.9 L882.7,282.9 L883.7,282.9 L884.8,282.8 L885.8,282.8 L886.8,282.8 L887.8,282.8 L888.8,282.8 L889.8,282.7 L890.8,282.7 L891.8,282.7 L892.8,282.7 L893.8,282.6 L894.8,282.6 L895.8,282.6 L896.8,282.5 L897.9,282.5 L898.9,282.5 L899.9,282.4 L900.9,282.4 L901.9,282.4 L902.9,282.3 L903.9,282.3 L904.9,282.3 L905.9,282.2 L906.9,282.2 L907.9,282.2 L908.9,282.1 L909.9,282.1 L910.9,282.0 L911.9,282.0 L912.9,281.9 L913.9,281.9 L914.9,281.8 L915.9,281.8 L916.9,281.7 L918.0,281.7 L919.0,281.6 L920.0,281.6 L921.0,281.5 L922.0,281.4 L923.0,281.4 L924.0,281.3 L925.0,281.3 L926.0,281.2 L927.0,281.1 L928.0,281.0 L929.0,281.0 L930.0,280.9 L931.0,280.8 L932.0,280.8 L933.0,280.7 L934.0,280.6 L935.0,280.5 L936.0,280.4 L937.0,280.3 L938.0,280.3 L939.0,280.2 L940.0,280.1 L940.9,280.0 L941.9,279.9 L942.9,279.8 L943.9,279.7 L944.9,279.6 L945.9,279.5 L946.9,279.4 L947.9,279.3 L948.9,279.1 L949.9,279.0 L950.9,278.9 L951.9,278.8 L952.9,278.7 L953.9,278.6 L954.9,278.4 L955.9,278.3 L956.8,278.2 L957.8,278.0 L958.8,277.9 L959.8,277.8 L960.8,277.6 L961.8,277.5 L962.8,277.3 L963.8,277.2 L964.8,277.0 L965.8,276.9 L966.7,276.7 L967.7,276.6 L968.7,276.4 L969.7,276.3 L970.7,276.1 L971.7,275.9 L972.7,275.8 L973.6,275.6 L974.6,275.4 L975.6,275.3 L976.6,275.1 L977.6,274.9 L978.6,274.7 L979.5,274.5 L980.5,274.4 L981.5,274.2 L982.5,274.0 L983.5,273.8 L984.4,273.6 L985.4,273.4 L986.4,273.2 L987.4,273.0 L988.4,272.8 L989.3,272.6 L990.3,272.4 L991.3,272.1 L992.3,271.9 L993.2,271.7 L994.2,271.5 L995.2,271.3 L996.2,271.0 L997.2,270.8 L998.1,270.6 L999.1,270.3 L1000.1,270.1 L1001.0,269.9 L1002.0,269.6 L1003.0,269.4 L1004.0,269.1 L1004.9,268.9 L1005.9,268.6 L1006.9,268.4 L1007.8,268.1 L1008.8,267.9 L1009.8,267.6 L1010.7,267.4 L1011.7,267.1 L1012.7,266.8 L1013.7,266.6 L1014.6,266.3 L1015.6,266.1 L1016.6,265.8 L1017.5,265.5 L1018.5,265.3 L1019.5,265.0 L1020.4,264.7 L1021.4,264.5 L1022.4,264.2 L1023.3,263.9 L1024.3,263.7 L1025.3,263.4 L1026.2,263.1 L1027.2,262.9 L1028.2,262.6 L1029.1,262.3 L1030.1,262.1 L1031.1,261.8 L1032.0,261.6 L1033.0,261.3 L1034.0,261.0 L1035.0,260.8 L1035.9,260.5 L1036.9,260.3 L1037.9,260.0 L1038.8,259.8 L1039.8,259.5 L1040.8,259.3 L1041.8,259.0 L1042.7,258.8 L1043.7,258.6 L1044.7,258.3 L1045.6,258.1 L1046.6,257.9 L1047.6,257.7 L1048.6,257.4 L1049.5,257.2 L1050.5,257.0 L1051.5,256.8 L1052.5,256.6 L1053.5,256.4 L1054.4,256.2 L1055.4,256.0 L1056.4,255.8 L1057.4,255.6 L1058.4,255.4 L1059.4,255.2 L1060.3,255.1 L1061.3,254.9 L1062.3,254.7 L1063.3,254.6 L1064.3,254.4 L1065.3,254.3 L1066.3,254.1 L1067.2,254.0 L1068.2,253.8 L1069.2,253.7 L1070.2,253.5 L1071.2,253.4 L1072.2,253.3 L1073.2,253.1 L1074.2,253.0 L1075.2,252.9 L1076.2,252.8 L1077.2,252.6 L1078.2,252.5 L1079.2,252.4 L1080.2,252.3 L1081.2,252.2 L1082.2,252.1 L1083.2,252.0 L1084.1,251.9 L1085.1,251.7 L1086.1,251.6 L1087.1,251.5 L1088.1,251.4 L1089.1,251.4 L1090.1,251.3 L1091.1,251.2 L1092.1,251.1 L1093.1,251.0 L1094.1,250.9 L1095.1,250.8 L1096.1,250.7 L1097.1,250.6 L1098.1,250.5 L1099.1,250.4 L1100.2,250.4 L1101.2,250.3 L1102.2,250.2 L1103.2,250.1 L1104.2,250.0 L1105.2,249.9 L1106.2,249.8 L1107.2,249.8 L1108.2,249.7 L1109.2,249.6 L1110.2,249.5 L1111.2,249.4 L1112.2,249.3 L1113.2,249.2 L1114.2,249.1 L1115.2,249.1 L1116.2,249.0 L1117.2,248.9 L1118.2,248.8 L1119.2,248.7 L1120.2,248.6 L1121.2,248.5 L1122.2,248.4 L1123.2,248.3 L1124.2,248.2 L1125.2,248.1 L1126.2,248.0 L1127.2,247.9 L1128.2,247.8 L1129.2,247.7 L1130.2,247.6 L1131.2,247.5 L1132.2,247.4 L1133.2,247.3 L1134.2,247.1 L1135.2,247.0 L1136.2,246.9 L1137.2,246.8 L1138.2,246.7 L1139.2,246.6 L1140.2,246.5 L1141.2,246.3 L1142.2,246.2 L1143.2,246.1 L1144.2,246.0 L1145.2,245.8 L1146.1,245.7 L1147.1,245.6 L1148.1,245.5 L1149.1,245.3 L1150.1,245.2 L1151.1,245.1 L1152.1,244.9 L1153.1,244.8 L1154.1,244.7 L1155.1,244.5 L1156.1,244.4 L1157.1,244.3 L1158.1,244.1 L1159.1,244.0 L1160.1,243.8 L1161.1,243.7 L1162.1,243.6 L1163.1,243.4 L1164.1,243.3 L1165.0,243.1 L1166.0,243.0 L1167.0,242.8 L1168.0,242.7 L1169.0,242.5 L1170.0,242.4 L1171.0,242.2 L1172.0,242.1 L1173.0,241.9 L1174.0,241.8 L1175.0,241.6 L1176.0,241.5 L1177.0,241.3 L1177.9,241.1 L1178.9,241.0 L1179.9,240.8 L1180.9,240.7 L1181.9,240.5 L1182.9,240.3 L1183.9,240.2 L1184.9,240.0 L1185.9,239.9 L1186.9,239.7 L1187.8,239.5 L1188.8,239.3 L1189.8,239.2 L1190.8,239.0 L1191.8,238.8 L1192.8,238.7 L1193.8,238.5 L1194.8,238.3 L1195.8,238.2 L1196.7,238.0 L1197.7,237.8 L1198.7,237.6 L1199.7,237.5 L1200.7,237.3 L1201.7,237.1 L1202.7,236.9 L1203.7,236.7 L1204.6,236.6 L1205.6,236.4 L1206.6,236.2 L1207.6,236.0 L1208.6,235.8 L1209.6,235.6 L1210.6,235.5 L1211.6,235.3 L1212.5,235.1 L1213.5,234.9 L1214.5,234.7 L1215.5,234.5 L1216.5,234.3 L1217.5,234.1 L1218.5,234.0 L1219.4,233.8 L1220.4,233.6 L1221.4,233.4 L1222.4,233.2 L1223.4,233.0 L1224.4,232.8 L1225.4,232.6 L1226.3,232.4 L1227.3,232.2 L1228.3,232.0 L1229.3,231.8 L1230.3,231.6 L1231.3,231.4 L1232.2,231.2 L1233.2,231.0 L1234.2,230.8 L1235.2,230.6 L1236.2,230.4 L1237.2,230.2 L1238.2,230.0 L1239.1,229.8 L1240.1,229.6 L1241.1,229.4" fill="none" stroke="#2C64B4" stroke-width="2" stroke-linejoin="round" stroke-linecap="round" />
<path d="M1241.1,229.4 L1241.1,230.3 L1241.1,231.2 L1241.1,232.1 L1241.2,233.0 L1241.2,233.9 L1241.2,234.9 L1241.3,235.8 L1241.3,236.8 L1241.3,237.8 L1241.3,238.8 L1241.4,239.8 L1241.4,240.8 L1241.4,241.8 L1241.5,242.8 L1241.5,243.9 L1241.5,244.9 L1241.5,245.9 L1241.5,247.0 L1241.5,248.0 L1241.5,249.1 L1241.5,250.1 L1241.5,251.2 L1241.4,252.2 L1241.4,253.3 L1241.3,254.4 L1241.3,255.4 L1241.2,256.5 L1241.1,257.5 L1241.0,258.6 L1240.9,259.7 L1240.7,260.7 L1240.6,261.7 L1240.4,262.8 L1240.3,263.8 L1240.1,264.8 L1239.8,265.9 L1239.6,266.9 L1239.4,267.9 L1239.1,268.9 L1238.8,269.9 L1238.5,270.8 L1238.2,271.8 L1237.8,272.8 L1237.5,273.7 L1237.1,274.6 L1236.7,275.6 L1236.3,276.5 L1235.8,277.3 L1235.4,278.2 L1234.9,279.1 L1234.4,279.9 L1233.9,280.7 L1233.4,281.5 L1232.8,282.3 L1232.2,283.1 L1231.6,283.9 L1231.0,284.6 L1230.4,285.3 L1229.8,286.0 L1229.1,286.6 L1228.4,287.3 L1227.7,287.9 L1227.0,288.5 L1226.2,289.1 L1225.5,289.6 L1224.7,290.2 L1223.9,290.7 L1223.1,291.2 L1222.3,291.7 L1221.5,292.2 L1220.6,292.6 L1219.8,293.1 L1218.9,293.5 L1218.0,293.9 L1217.1,294.3 L1216.2,294.7 L1215.3,295.0 L1214.4,295.4 L1213.5,295.7 L1212.5,296.1 L1211.6,296.4 L1210.6,296.7 L1209.7,297.0 L1208.7,297.3 L1207.7,297.6 L1206.7,297.8 L1205.7,298.1 L1204.7,298.3 L1203.7,298.6 L1202.7,298.8 L1201.7,299.0 L1200.7,299.2 L1199.7,299.5 L1198.7,299.7 L1197.7,299.9 L1196.7,300.1 L1195.7,300.3 L1194.6,300.4 L1193.6,300.6 L1192.6,300.8 L1191.6,301.0 L1190.6,301.2 L1189.6,301.3 L1188.5,301.5 L1187.5,301.7 L1186.5,301.8 L1185.5,302.0 L1184.5,302.1 L1183.5,302.3 L1182.5,302.4 L1181.5,302.6 L1180.4,302.7 L1179.4,302.9 L1178.4,303.0 L1177.4,303.1 L1176.4,303.2 L1175.4,303.4 L1174.4,303.5 L1173.4,303.6 L1172.4,303.7 L1171.4,303.8 L1170.3,303.9 L1169.3,304.0 L1168.3,304.1 L1167.3,304.2 L1166.3,304.3 L1165.3,304.3 L1164.3,304.4 L1163.3,304.5 L1162.3,304.5 L1161.3,304.6 L1160.3,304.7 L1159.3,304.7 L1158.3,304.8 L1157.3,304.8 L1156.3,304.8 L1155.3,304.9 L1154.3,304.9 L1153.3,304.9 L1152.3,305.0 L1151.3,305.0 L1150.3,305.0 L1149.3,305.0 L1148.3,305.0 L1147.3,305.0 L1146.3,305.0 L1145.3,305.0 L1144.3,305.0 L1143.3,305.0 L1142.3,304.9 L1141.3,304.9 L1140.3,304.9 L1139.3,304.8 L1138.3,304.8 L1137.3,304.8 L1136.3,304.7 L1135.3,304.7 L1134.3,304.6 L1133.3,304.5 L1132.3,304.5 L1131.3,304.4 L1130.3,304.3 L1129.3,304.2 L1128.3,304.1 L1127.3,304.0 L1126.3,303.9 L1125.3,303.8 L1124.4,303.7 L1123.4,303.6 L1122.4,303.5 L1121.4,303.4 L1120.4,303.2 L1119.4,303.1 L1118.4,303.0 L1117.4,302.8 L1116.4,302.7 L1115.4,302.6 L1114.5,302.4 L1113.5,302.3 L1112.5,302.1 L1111.5,302.0 L1110.5,301.8 L1109.5,301.6 L1108.5,301.5 L1107.5,301.3 L1106.5,301.2 L1105.6,301.0 L1104.6,300.8 L1103.6,300.6 L1102.6,300.5 L1101.6,300.3 L1100.6,300.1 L1099.6,299.9 L1098.6,299.8 L1097.7,299.6 L1096.7,299.4 L1095.7,299.2 L1094.7,299.1 L1093.7,298.9 L1092.7,298.7 L1091.7,298.5 L1090.7,298.3 L1089.8,298.2 L1088.8,298.0 L1087.8,297.8 L1086.8,297.6 L1085.8,297.4 L1084.8,297.3 L1083.8,297.1 L1082.8,296.9 L1081.9,296.7 L1080.9,296.6 L1079.9,296.4 L1078.9,296.2 L1077.9,296.1 L1076.9,295.9 L1075.9,295.7 L1074.9,295.6 L1073.9,295.4 L1072.9,295.3 L1072.0,295.1 L1071.0,295.0 L1070.0,294.8 L1069.0,294.7 L1068.0,294.5 L1067.0,294.4 L1066.0,294.2 L1065.0,294.1 L1064.0,294.0 L1063.0,293.8 L1062.0,293.7 L1061.0,293.5 L1060.0,293.4 L1059.1,293.3 L1058.1,293.2 L1057.1,293.0 L1056.1,292.9 L1055.1,292.8 L1054.1,292.7 L1053.1,292.5 L1052.1,292.4 L1051.1,292.3 L1050.1,292.2 L1049.1,292.1 L1048.1,292.0 L1047.1,291.9 L1046.1,291.8 L1045.1,291.6 L1044.1,291.5 L1043.1,291.4 L1042.1,291.3 L1041.1,291.2 L1040.1,291.1 L1039.1,291.0 L1038.1,291.0 L1037.1,290.9 L1036.1,290.8 L1035.1,290.7 L1034.1,290.6 L1033.1,290.5 L1032.2,290.4 L1031.2,290.3 L1030.2,290.2 L1029.2,290.2 L1028.2,290.1 L1027.2,290.0 L1026.2,289.9 L1025.2,289.9 L1024.2,289.8 L1023.2,289.7 L1022.2,289.6 L1021.2,289.6 L1020.2,289.5 L1019.2,289.4 L1018.2,289.4 L1017.2,289.3 L1016.2,289.2 L1015.2,289.2 L1014.2,289.1 L1013.2,289.0 L1012.2,289.0 L1011.2,288.9 L1010.2,288.9 L1009.2,288.8 L1008.2,288.8 L1007.2,288.7 L1006.2,288.7 L1005.2,288.6 L1004.2,288.6 L1003.2,288.5 L1002.2,288.5 L1001.2,288.4 L1000.2,288.4 L999.2,288.3 L998.2,288.3 L997.2,288.2 L996.2,288.2 L995.1,288.2 L994.1,288.1 L993.1,288.1 L992.1,288.1 L991.1,288.0 L990.1,288.0 L989.1,288.0 L988.1,287.9 L987.1,287.9 L986.1,287.9 L985.1,287.8 L984.1,287.8 L983.1,287.8 L982.1,287.8 L981.1,287.7 L980.1,287.7 L979.1,287.7 L978.1,287.7 L977.1,287.6 L976.1,287.6 L975.1,287.6 L974.1,287.6 L973.1,287.6 L972.1,287.6 L971.1,287.5 L970.1,287.5 L969.1,287.5 L968.1,287.5 L967.1,287.5 L966.1,287.5 L965.1,287.5 L964.1,287.5 L963.1,287.4 L962.1,287.4 L961.1,287.4 L960.0,287.4 L959.0,287.4 L958.0,287.4 L957.0,287.4 L956.0,287.4 L955.0,287.4 L954.0,287.4 L953.0,287.4 L952.0,287.4 L951.0,287.4 L950.0,287.4 L949.0,287.4 L948.0,287.4 L947.0,287.4 L946.0,287.4 L945.0,287.4 L944.0,287.4 L943.0,287.4 L942.0,287.4 L941.0,287.4 L940.0,287.5 L939.0,287.5 L938.0,287.5 L936.9,287.5 L935.9,287.5 L934.9,287.5 L933.9,287.5 L932.9,287.5 L931.9,287.5 L930.9,287.5 L929.9,287.6 L928.9,287.6 L927.9,287.6 L926.9,287.6 L925.9,287.6 L924.9,287.6 L923.9,287.6 L922.9,287.7 L921.9,287.7 L920.9,287.7 L919.9,287.7 L918.9,287.7 L917.9,287.7 L916.8,287.8 L915.8,287.8 L914.8,287.8 L913.8,287.8 L912.8,287.8 L911.8,287.9 L910.8,287.9 L909.8,287.9 L908.8,287.9 L907.8,288.0 L906.8,288.0 L905.8,288.0 L904.8,288.0 L903.8,288.0 L902.8,288.1 L901.8,288.1 L900.8,288.1 L899.8,288.1 L898.8,288.2 L897.7,288.2 L896.7,288.2 L895.7,288.2 L894.7,288.3 L893.7,288.3 L892.7,288.3 L891.7,288.3 L890.7,288.4 L889.7,288.4 L888.7,288.4 L887.7,288.4 L886.7,288.5 L885.7,288.5 L884.7,288.5 L883.7,288.5 L882.7,288.6 L881.7,288.6 L880.7,288.6 L879.6,288.6 L878.6,288.7 L877.6,288.7 L876.6,288.7 L875.6,288.8 L874.6,288.8 L873.6,288.8 L872.6,288.8 L871.6,288.9 L870.6,288.9 L869.6,288.9 L868.6,288.9 L867.6,289.0 L866.6,289.0 L865.6,289.0 L864.6,289.0 L863.6,289.1 L862.6,289.1 L861.6,289.1 L860.5,289.2 L859.5,289.2 L858.5,289.2 L857.5,289.2 L856.5,289.3 L855.5,289.3 L854.5,289.3 L853.5,289.3 L852.5,289.4 L851.5,289.4 L850.5,289.4 L849.5,289.4 L848.5,289.4 L847.5,289.5 L846.5,289.5 L845.5,289.5 L844.5,289.5 L843.5,289.6 L842.5,289.6 L841.5,289.6 L840.5,289.6 L839.5,289.7 L838.4,289.7 L837.4,289.7 L836.4,289.7 L835.4,289.7 L834.4,289.8 L833.4,289.8 L832.4,289.8 L831.4,289.8 L830.4,289.8 L829.4,289.8 L828.4,289.9 L827.4,289.9 L826.4,289.9 L825.4,289.9 L824.4,289.9 L823.4,289.9 L822.4,290.0 L821.4,290.0 L820.4,290.0 L819.4,290.0 L818.4,290.0 L817.4,290.0 L816.4,290.0 L815.4,290.0 L814.4,290.1 L813.4,290.1 L812.4,290.1 L811.3,290.1 L810.3,290.1 L809.3,290.1 L808.3,290.1 L807.3,290.1 L806.3,290.1 L805.3,290.1 L804.3,290.1 L803.3,290.1 L802.3,290.1 L801.3,290.1 L800.3,290.1 L799.3,290.1 L798.3,290.1 L797.3,290.1 L796.3,290.1 L795.3,290.1 L794.3,290.1 L793.3,290.1 L792.3,290.1 L791.3,290.1 L790.3,290.1 L789.3,290.1 L788.3,290.1 L787.3,290.1 L786.3,290.1 L785.3,290.1 L784.3,290.1 L783.3,290.1 L782.3,290.1 L781.3,290.0 L780.3,290.0 L779.3,290.0 L778.3,290.0 L777.3,290.0 L776.3,290.0 L775.3,289.9 L774.3,289.9 L773.3,289.9 L772.3,289.9 L771.3,289.9 L770.3,289.8 L769.3,289.8 L768.3,289.8 L767.3,289.8 L766.3,289.7 L765.3,289.7 L764.3,289.7 L763.3,289.7 L762.3,289.6 L761.3,289.6 L760.3,289.6 L759.3,289.5 L758.3,289.5" fill="none" stroke="#2C64B4" stroke-width="2" stroke-linejoin="round" stroke-linecap="round" />
<path d="M758.3,284.5 L759.3,284.4 L760.3,284.4 L761.3,284.3 L762.3,284.2 L763.3,284.2 L764.3,284.1 L765.3,284.0 L766.3,284.0 L767.3,283.9 L768.3,283.9 L769.3,283.8 L770.3,283.7 L771.3,283.7 L772.3,283.6 L773.3,283.6 L774.3,283.5 L775.3,283.5 L776.3,283.4 L777.3,283.3 L778.3,283.3 L779.3,283.2 L780.3,283.2 L781.3,283.1 L782.3,283.1 L783.3,283.0 L784.3,283.0 L785.3,282.9 L786.3,282.9 L787.3,282.8 L788.3,282.8 L789.3,282.7 L790.3,282.7 L791.3,282.6 L792.3,282.6 L793.3,282.5 L794.3,282.5 L795.3,282.4 L796.3,282.4 L797.3,282.3 L798.3,282.3 L799.3,282.3 L800.4,282.2 L801.4,282.2 L802.4,282.1 L803.4,282.1 L804.4,282.0 L805.4,282.0 L806.4,282.0 L807.4,281.9 L808.4,281.9 L809.4,281.8 L810.4,281.8 L811.4,281.7 L812.4,281.7 L813.4,281.7 L814.4,281.6 L815.4,281.6 L816.4,281.5 L817.4,281.5 L818.4,281.5 L819.4,281.4 L820.4,281.4 L821.4,281.3 L822.4,281.3 L823.4,281.3 L824.4,281.2 L825.4,281.2 L826.4,281.1 L827.4,281.1 L828.4,281.1 L829.4,281.0 L830.5,281.0 L831.5,281.0 L832.5,280.9 L833.5,280.9 L834.5,280.8 L835.5,280.8 L836.5,280.8 L837.5,280.7 L838.5,280.7 L839.5,280.6 L840.5,280.6 L841.5,280.6 L842.5,280.5 L843.5,280.5 L844.5,280.5 L845.5,280.4 L846.5,280.4 L847.5,280.3 L848.5,280.3 L849.5,280.3 L850.5,280.2 L851.5,280.2 L852.5,280.1 L853.5,280.1 L854.5,280.1 L855.5,280.0 L856.6,280.0 L857.6,279.9 L858.6,279.9 L859.6,279.9 L860.6,279.8 L861.6,279.8 L862.6,279.7 L863.6,279.7 L864.6,279.7 L865.6,279.6 L866.6,279.6 L867.6,279.5 L868.6,279.5 L869.6,279.4 L870.6,279.4 L871.6,279.3 L872.6,279.3 L873.6,279.3 L874.6,279.2 L875.6,279.2 L876.6,279.1 L877.6,279.1 L878.6,279.0 L879.6,279.0 L880.6,278.9 L881.6,278.9 L882.6,278.8 L883.6,278.8 L884.6,278.7 L885.6,278.7 L886.6,278.6 L887.7,278.6 L888.7,278.5 L889.7,278.5 L890.7,278.4 L891.7,278.4 L892.7,278.3 L893.7,278.3 L894.7,278.2 L895.7,278.2 L896.7,278.1 L897.7,278.0 L898.7,278.0 L899.7,277.9 L900.7,277.9 L901.7,277.8 L902.7,277.8 L903.7,277.7 L904.7,277.6 L905.7,277.6 L906.7,277.5 L907.7,277.4 L908.7,277.4 L909.7,277.3 L910.7,277.3 L911.7,277.2 L912.7,277.1 L913.7,277.1 L914.7,277.0 L915.7,276.9 L916.7,276.8 L917.7,276.8 L918.7,276.7 L919.7,276.6 L920.7,276.6 L921.7,276.5 L922.7,276.4 L923.7,276.3 L924.7,276.3 L925.7,276.2 L926.7,276.1 L927.7,276.0 L928.7,275.9 L929.7,275.9 L930.7,275.8 L931.7,275.7 L932.7,275.6 L933.7,275.5 L934.7,275.4 L935.7,275.4 L936.7,275.3 L937.7,275.2 L938.7,275.1 L939.7,275.0 L940.7,274.9 L941.7,274.8 L942.7,274.7 L943.7,274.6 L944.7,274.5 L945.6,274.4 L946.6,274.3 L947.6,274.2 L948.6,274.1 L949.6,274.0 L950.6,273.9 L951.6,273.8 L952.6,273.7 L953.6,273.6 L954.6,273.5 L955.6,273.4 L956.6,273.3 L957.6,273.2 L958.6,273.1 L959.6,273.0 L960.6,272.9 L961.6,272.7 L962.6,272.6 L963.6,272.5 L964.6,272.4 L965.6,272.3 L966.5,272.2 L967.5,272.0 L968.5,271.9 L969.5,271.8 L970.5,271.7 L971.5,271.5 L972.5,271.4 L973.5,271.3 L974.5,271.1 L975.5,271.0 L976.5,270.9 L977.5,270.7 L978.5,270.6 L979.4,270.5 L980.4,270.3 L981.4,270.2 L982.4,270.0 L983.4,269.9 L984.4,269.7 L985.4,269.6 L986.4,269.5 L987.4,269.3 L988.4,269.2 L989.4,269.0 L990.3,268.9 L991.3,268.7 L992.3,268.6 L993.3,268.4 L994.3,268.3 L995.3,268.1 L996.3,267.9 L997.3,267.8 L998.3,267.6 L999.2,267.5 L1000.2,267.3 L1001.2,267.2 L1002.2,267.0 L1003.2,266.9 L1004.2,266.7 L1005.2,266.6 L1006.2,266.4 L1007.2,266.3 L1008.2,266.1 L1009.1,266.0 L1010.1,265.8 L1011.1,265.7 L1012.1,265.5 L1013.1,265.4 L1014.1,265.3 L1015.1,265.1 L1016.1,265.0 L1017.1,264.8 L1018.1,264.7 L1019.1,264.6 L1020.0,264.4 L1021.0,264.3 L1022.0,264.2 L1023.0,264.0 L1024.0,263.9 L1025.0,263.8 L1026.0,263.7 L1027.0,263.6 L1028.0,263.4 L1029.0,263.3 L1030.0,263.2 L1031.0,263.1 L1032.0,263.0 L1033.0,262.9 L1034.0,262.8 L1035.0,262.7 L1036.0,262.6 L1036.9,262.5 L1037.9,262.4 L1038.9,262.3 L1039.9,262.2 L1040.9,262.1 L1041.9,262.0 L1042.9,261.9 L1043.9,261.8 L1044.9,261.7 L1045.9,261.6 L1046.9,261.5 L1047.9,261.4 L1048.9,261.3 L1049.9,261.3 L1050.9,261.2 L1051.9,261.1 L1052.9,261.0 L1053.9,260.9 L1054.9,260.9 L1055.9,260.8 L1056.9,260.7 L1057.9,260.6 L1058.9,260.5 L1059.9,260.5 L1060.9,260.4 L1061.9,260.3 L1062.9,260.3 L1063.9,260.2 L1064.9,260.1 L1065.9,260.0 L1066.9,260.0 L1067.9,259.9 L1068.9,259.8 L1069.9,259.8 L1070.9,259.7 L1071.9,259.7 L1072.9,259.6 L1073.9,259.5 L1074.9,259.5 L1075.9,259.4 L1076.9,259.3 L1077.9,259.3 L1078.9,259.2 L1079.9,259.2 L1080.9,259.1 L1081.9,259.1 L1082.9,259.0 L1083.9,258.9 L1084.9,258.9 L1085.9,258.8 L1086.9,258.8 L1087.9,258.7 L1088.9,258.7 L1089.9,258.6 L1090.9,258.6 L1091.9,258.5 L1092.9,258.5 L1094.0,258.4 L1095.0,258.4 L1096.0,258.3 L1097.0,258.3 L1098.0,258.2 L1099.0,258.2 L1100.0,258.1 L1101.0,258.1 L1102.0,258.0 L1103.0,258.0 L1104.0,257.9 L1105.0,257.9 L1106.0,257.8 L1107.0,257.8 L1108.0,257.7 L1109.0,257.7 L1110.0,257.6 L1111.0,257.6 L1112.0,257.5 L1113.0,257.5 L1114.0,257.4 L1115.0,257.4 L1116.0,257.3 L1117.0,257.3 L1118.0,257.2 L1119.0,257.2 L1120.0,257.1 L1121.0,257.1 L1122.0,257.0 L1123.0,257.0 L1124.0,256.9 L1125.0,256.9 L1126.0,256.8 L1127.0,256.8 L1128.1,256.7 L1129.1,256.7 L1130.1,256.6 L1131.1,256.6 L1132.1,256.5 L1133.1,256.4 L1134.1,256.4 L1135.1,256.3 L1136.1,256.3 L1137.1,256.2 L1138.1,256.2 L1139.1,256.1 L1140.1,256.0 L1141.1,256.0 L1142.1,255.9 L1143.1,255.9 L1144.1,255.8 L1145.1,255.7 L1146.1,255.7 L1147.1,255.6 L1148.1,255.6 L1149.1,255.5 L1150.1,255.4 L1151.1,255.4 L1152.1,255.3 L1153.1,255.2 L1154.1,255.2 L1155.1,255.1 L1156.1,255.0 L1157.1,254.9 L1158.1,254.9 L1159.1,254.8 L1160.1,254.7 L1161.1,254.7 L1162.1,254.6 L1163.1,254.5 L1164.1,254.4 L1165.1,254.3 L1166.1,254.3 L1167.1,254.2 L1168.1,254.1 L1169.1,254.0 L1170.1,253.9 L1171.1,253.8 L1172.1,253.8 L1173.1,253.7 L1174.1,253.6 L1175.1,253.5 L1176.1,253.4 L1177.1,253.3 L1178.1,253.2 L1179.1,253.1 L1180.1,253.0 L1181.1,252.9 L1182.1,252.8 L1183.1,252.7 L1184.1,252.6 L1185.1,252.5 L1186.1,252.4 L1187.1,252.3 L1188.1,252.2 L1189.1,252.1 L1190.1,251.9 L1191.1,251.8 L1192.1,251.7 L1193.1,251.6 L1194.1,251.5 L1195.0,251.4 L1196.0,251.2 L1197.0,251.1 L1198.0,251.0 L1199.0,250.8 L1200.0,250.7 L1201.0,250.6 L1202.0,250.5 L1203.0,250.3 L1204.0,250.2 L1205.0,250.0 L1206.0,249.9 L1207.0,249.8 L1208.0,249.6 L1209.0,249.5 L1210.0,249.3 L1210.9,249.2 L1211.9,249.0 L1212.9,248.9 L1213.9,248.7 L1214.9,248.5 L1215.9,248.4 L1216.9,248.2 L1217.9,248.0 L1218.9,247.9 L1219.9,247.7 L1220.9,247.5 L1221.8,247.4 L1222.8,247.2 L1223.8,247.0 L1224.8,246.8 L1225.8,246.6 L1226.8,246.5 L1227.8,246.3 L1228.8,246.1 L1229.8,245.9 L1230.7,245.7 L1231.7,245.5 L1232.7,245.3 L1233.7,245.1 L1234.7,244.9 L1235.7,244.7 L1236.7,244.5 L1237.6,244.3 L1238.6,244.0 L1239.6,243.8 L1240.6,243.6" fill="none" stroke="#C8464F" stroke-width="2" stroke-linejoin="round" stroke-linecap="round" />
<path d="M1240.6,243.6 L1240.6,244.5 L1240.6,245.4 L1240.6,246.4 L1240.7,247.4 L1240.7,248.3 L1240.8,249.3 L1240.8,250.4 L1240.9,251.4 L1240.9,252.4 L1241.0,253.5 L1241.0,254.5 L1241.1,255.6 L1241.1,256.6 L1241.2,257.7 L1241.2,258.8 L1241.2,259.8 L1241.2,260.9 L1241.1,262.0 L1241.1,263.0 L1241.0,264.1 L1240.9,265.1 L1240.7,266.1 L1240.6,267.1 L1240.4,268.1 L1240.1,269.1 L1239.9,270.1 L1239.6,271.0 L1239.2,272.0 L1238.8,272.9 L1238.4,273.7 L1237.9,274.6 L1237.4,275.5 L1236.9,276.3 L1236.4,277.1 L1235.8,277.9 L1235.2,278.6 L1234.6,279.4 L1233.9,280.1 L1233.2,280.8 L1232.5,281.5 L1231.8,282.1 L1231.1,282.8 L1230.3,283.4 L1229.6,284.0 L1228.8,284.6 L1228.0,285.1 L1227.2,285.6 L1226.4,286.2 L1225.6,286.6 L1224.7,287.1 L1223.9,287.6 L1223.0,288.0 L1222.2,288.4 L1221.3,288.8 L1220.4,289.2 L1219.5,289.6 L1218.7,289.9 L1217.8,290.2 L1216.8,290.6 L1215.9,290.9 L1215.0,291.1 L1214.1,291.4 L1213.1,291.7 L1212.2,291.9 L1211.2,292.1 L1210.3,292.4 L1209.3,292.6 L1208.3,292.8 L1207.3,292.9 L1206.4,293.1 L1205.4,293.3 L1204.4,293.4 L1203.4,293.5 L1202.4,293.7 L1201.4,293.8 L1200.3,293.9 L1199.3,294.0 L1198.3,294.1 L1197.3,294.2 L1196.3,294.2 L1195.2,294.3 L1194.2,294.4 L1193.2,294.4 L1192.1,294.5 L1191.1,294.5 L1190.0,294.6 L1189.0,294.6 L1187.9,294.6 L1186.9,294.7 L1185.8,294.7 L1184.8,294.7 L1183.8,294.7 L1182.7,294.8 L1181.7,294.8 L1180.6,294.8 L1179.6,294.8 L1178.5,294.8 L1177.5,294.8 L1176.4,294.9 L1175.4,294.9 L1174.3,294.9 L1173.3,294.9 L1172.2,294.9 L1171.2,295.0 L1170.2,295.0 L1169.1,295.0 L1168.1,295.1 L1167.1,295.1 L1166.1,295.1 L1165.0,295.2 L1164.0,295.2 L1163.0,295.2 L1162.0,295.3 L1160.9,295.3 L1159.9,295.4 L1158.9,295.4 L1157.9,295.5 L1156.9,295.5 L1155.9,295.6 L1154.9,295.6 L1153.9,295.7 L1152.9,295.7 L1151.9,295.8 L1150.9,295.8 L1149.8,295.9 L1148.8,295.9 L1147.9,296.0 L1146.9,296.0 L1145.9,296.1 L1144.9,296.1 L1143.9,296.2 L1142.9,296.2 L1141.9,296.3 L1140.9,296.3 L1139.9,296.4 L1138.9,296.4 L1137.9,296.5 L1136.9,296.5 L1135.9,296.6 L1135.0,296.6 L1134.0,296.7 L1133.0,296.7 L1132.0,296.7 L1131.0,296.8 L1130.0,296.8 L1129.1,296.9 L1128.1,296.9 L1127.1,296.9 L1126.1,297.0 L1125.1,297.0 L1124.2,297.0 L1123.2,297.0 L1122.2,297.1 L1121.2,297.1 L1120.2,297.1 L1119.3,297.1 L1118.3,297.1 L1117.3,297.1 L1116.3,297.1 L1115.3,297.1 L1114.4,297.1 L1113.4,297.1 L1112.4,297.1 L1111.4,297.1 L1110.4,297.1 L1109.5,297.1 L1108.5,297.1 L1107.5,297.0 L1106.5,297.0 L1105.5,297.0 L1104.6,296.9 L1103.6,296.9 L1102.6,296.8 L1101.6,296.8 L1100.6,296.7 L1099.7,296.7 L1098.7,296.6 L1097.7,296.5 L1096.7,296.5 L1095.7,296.4 L1094.7,296.3 L1093.7,296.2 L1092.8,296.1 L1091.8,296.0 L1090.8,295.9 L1089.8,295.8 L1088.8,295.7 L1087.8,295.6 L1086.8,295.5 L1085.8,295.4 L1084.8,295.3 L1083.8,295.1 L1082.8,295.0 L1081.8,294.9 L1080.9,294.8 L1079.9,294.6 L1078.9,294.5 L1077.9,294.3 L1076.9,294.2 L1075.9,294.1 L1074.9,293.9 L1073.9,293.8 L1072.9,293.6 L1071.9,293.5 L1070.9,293.3 L1069.9,293.2 L1068.9,293.0 L1067.9,292.9 L1066.9,292.7 L1065.9,292.6 L1064.9,292.4 L1063.9,292.3 L1062.9,292.1 L1061.9,292.0 L1060.9,291.8 L1059.9,291.6 L1058.9,291.5 L1057.9,291.3 L1056.9,291.2 L1055.9,291.0 L1054.9,290.9 L1053.9,290.7 L1052.9,290.6 L1051.9,290.4 L1050.9,290.3 L1049.9,290.1 L1048.9,290.0 L1047.9,289.8 L1046.9,289.7 L1045.9,289.6 L1044.9,289.4 L1043.9,289.3 L1042.9,289.1 L1041.9,289.0 L1040.9,288.9 L1039.9,288.8 L1038.9,288.6 L1037.9,288.5 L1036.9,288.4 L1035.9,288.3 L1034.9,288.1 L1033.9,288.0 L1032.9,287.9 L1031.9,287.8 L1030.9,287.7 L1029.9,287.6 L1028.9,287.5 L1027.9,287.4 L1026.8,287.3 L1025.8,287.2 L1024.8,287.1 L1023.8,287.0 L1022.8,286.9 L1021.8,286.8 L1020.8,286.7 L1019.8,286.6 L1018.8,286.5 L1017.8,286.5 L1016.8,286.4 L1015.8,286.3 L1014.8,286.2 L1013.8,286.1 L1012.8,286.1 L1011.8,286.0 L1010.8,285.9 L1009.8,285.8 L1008.8,285.8 L1007.8,285.7 L1006.8,285.6 L1005.8,285.6 L1004.8,285.5 L1003.8,285.4 L1002.8,285.4 L1001.8,285.3 L1000.8,285.3 L999.8,285.2 L998.8,285.2 L997.8,285.1 L996.8,285.1 L995.8,285.0 L994.8,285.0 L993.8,284.9 L992.8,284.9 L991.8,284.8 L990.8,284.8 L989.8,284.8 L988.8,284.7 L987.8,284.7 L986.8,284.6 L985.8,284.6 L984.8,284.6 L983.8,284.5 L982.8,284.5 L981.8,284.5 L980.8,284.5 L979.8,284.4 L978.8,284.4 L977.8,284.4 L976.8,284.4 L975.8,284.3 L974.8,284.3 L973.8,284.3 L972.8,284.3 L971.8,284.3 L970.8,284.2 L969.8,284.2 L968.8,284.2 L967.8,284.2 L966.8,284.2 L965.8,284.2 L964.8,284.2 L963.8,284.2 L962.8,284.2 L961.8,284.1 L960.8,284.1 L959.8,284.1 L958.8,284.1 L957.8,284.1 L956.8,284.1 L955.8,284.1 L954.8,284.1 L953.8,284.1 L952.8,284.1 L951.8,284.1 L950.8,284.1 L949.8,284.2 L948.8,284.2 L947.8,284.2 L946.8,284.2 L945.8,284.2 L944.8,284.2 L943.8,284.2 L942.8,284.2 L941.7,284.2 L940.7,284.2 L939.7,284.2 L938.7,284.3 L937.7,284.3 L936.7,284.3 L935.7,284.3 L934.7,284.3 L933.7,284.3 L932.7,284.4 L931.7,284.4 L930.7,284.4 L929.7,284.4 L928.7,284.4 L927.7,284.5 L926.7,284.5 L925.7,284.5 L924.7,284.5 L923.7,284.5 L922.7,284.6 L921.7,284.6 L920.7,284.6 L919.7,284.6 L918.7,284.7 L917.7,284.7 L916.7,284.7 L915.7,284.7 L914.7,284.8 L913.7,284.8 L912.7,284.8 L911.7,284.8 L910.7,284.9 L909.7,284.9 L908.7,284.9 L907.7,285.0 L906.7,285.0 L905.7,285.0 L904.7,285.0 L903.7,285.1 L902.7,285.1 L901.7,285.1 L900.7,285.2 L899.7,285.2 L898.7,285.2 L897.7,285.3 L896.7,285.3 L895.7,285.3 L894.7,285.3 L893.7,285.4 L892.7,285.4 L891.7,285.4 L890.7,285.5 L889.7,285.5 L888.7,285.5 L887.7,285.6 L886.7,285.6 L885.7,285.6 L884.7,285.7 L883.7,285.7 L882.7,285.7 L881.7,285.8 L880.7,285.8 L879.7,285.8 L878.7,285.8 L877.7,285.9 L876.7,285.9 L875.7,285.9 L874.7,286.0 L873.7,286.0 L872.7,286.0 L871.7,286.1 L870.7,286.1 L869.7,286.1 L868.6,286.1 L867.6,286.2 L866.6,286.2 L865.6,286.2 L864.6,286.2 L863.6,286.3 L862.6,286.3 L861.6,286.3 L860.6,286.4 L859.6,286.4 L858.6,286.4 L857.6,286.4 L856.6,286.5 L855.6,286.5 L854.6,286.5 L853.6,286.5 L852.6,286.5 L851.6,286.6 L850.6,286.6 L849.6,286.6 L848.6,286.6 L847.6,286.7 L846.6,286.7 L845.6,286.7 L844.6,286.7 L843.6,286.7 L842.6,286.7 L841.6,286.8 L840.6,286.8 L839.6,286.8 L838.6,286.8 L837.6,286.8 L836.6,286.8 L835.6,286.8 L834.6,286.9 L833.6,286.9 L832.6,286.9 L831.6,286.9 L830.6,286.9 L829.6,286.9 L828.6,286.9 L827.6,286.9 L826.6,286.9 L825.6,286.9 L824.5,286.9 L823.5,286.9 L822.5,286.9 L821.5,286.9 L820.5,286.9 L819.5,286.9 L818.5,286.9 L817.5,286.9 L816.5,286.9 L815.5,286.9 L814.5,286.9 L813.5,286.9 L812.5,286.9 L811.5,286.9 L810.5,286.9 L809.5,286.9 L808.5,286.8 L807.5,286.8 L806.5,286.8 L805.5,286.8 L804.5,286.8 L803.5,286.8 L802.5,286.7 L801.5,286.7 L800.5,286.7 L799.5,286.7 L798.5,286.7 L797.5,286.6 L796.5,286.6 L795.5,286.6 L794.5,286.5 L793.4,286.5 L792.4,286.5 L791.4,286.4 L790.4,286.4 L789.4,286.4 L788.4,286.3 L787.4,286.3 L786.4,286.3 L785.4,286.2 L784.4,286.2 L783.4,286.1 L782.4,286.1 L781.4,286.0 L780.4,286.0 L779.4,285.9 L778.4,285.9 L777.4,285.8 L776.4,285.8 L775.4,285.7 L774.4,285.7 L773.4,285.6 L772.4,285.5 L771.4,285.5 L770.4,285.4 L769.4,285.3 L768.3,285.3 L767.3,285.2 L766.3,285.1 L765.3,285.1 L764.3,285.0 L763.3,284.9 L762.3,284.8 L761.3,284.8 L760.3,284.7 L759.3,284.6 L758.3,284.5" fill="none" stroke="#C8464F" stroke-width="2" stroke-linejoin="round" stroke-linecap="round" />
<path d="M758.3,283.2 L759.3,283.1 L760.3,283.0 L761.3,282.9 L762.3,282.9 L763.3,282.8 L764.3,282.7 L765.3,282.6 L766.3,282.5 L767.3,282.4 L768.3,282.3 L769.3,282.3 L770.3,282.2 L771.3,282.1 L772.3,282.0 L773.3,281.9 L774.3,281.8 L775.3,281.8 L776.3,281.7 L777.3,281.6 L778.3,281.5 L779.3,281.5 L780.3,281.4 L781.3,281.3 L782.3,281.2 L783.3,281.1 L784.3,281.1 L785.3,281.0 L786.3,280.9 L787.3,280.8 L788.3,280.8 L789.3,280.7 L790.3,280.6 L791.3,280.5 L792.3,280.5 L793.3,280.4 L794.3,280.3 L795.3,280.3 L796.3,280.2 L797.3,280.1 L798.3,280.0 L799.3,280.0 L800.3,279.9 L801.3,279.8 L802.3,279.8 L803.3,279.7 L804.3,279.6 L805.3,279.6 L806.3,279.5 L807.3,279.4 L808.3,279.4 L809.3,279.3 L810.3,279.2 L811.3,279.2 L812.3,279.1 L813.3,279.0 L814.3,279.0 L815.3,278.9 L816.3,278.9 L817.3,278.8 L818.3,278.7 L819.3,278.7 L820.3,278.6 L821.3,278.5 L822.3,278.5 L823.3,278.4 L824.3,278.4 L825.3,278.3 L826.3,278.2 L827.3,278.2 L828.3,278.1 L829.3,278.1 L830.3,278.0 L831.3,278.0 L832.3,277.9 L833.3,277.8 L834.3,277.8 L835.3,277.7 L836.3,277.7 L837.3,277.6 L838.3,277.6 L839.3,277.5 L840.3,277.5 L841.3,277.4 L842.3,277.3 L843.3,277.3 L844.3,277.2 L845.3,277.2 L846.3,277.1 L847.3,277.1 L848.3,277.0 L849.3,277.0 L850.3,276.9 L851.3,276.9 L852.3,276.8 L853.3,276.8 L854.3,276.7 L855.3,276.7 L856.3,276.6 L857.3,276.6 L858.3,276.5 L859.3,276.5 L860.3,276.4 L861.3,276.4 L862.3,276.3 L863.3,276.3 L864.3,276.2 L865.3,276.2 L866.3,276.1 L867.3,276.1 L868.3,276.1 L869.3,276.0 L870.3,276.0 L871.3,275.9 L872.3,275.9 L873.3,275.8 L874.3,275.8 L875.3,275.7 L876.3,275.7 L877.3,275.6 L878.3,275.6 L879.3,275.6 L880.3,275.5 L881.3,275.5 L882.3,275.4 L883.3,275.4 L884.3,275.3 L885.4,275.3 L886.4,275.3 L887.4,275.2 L888.4,275.2 L889.4,275.1 L890.4,275.1 L891.4,275.1 L892.4,275.0 L893.4,275.0 L894.4,274.9 L895.4,274.9 L896.4,274.9 L897.4,274.8 L898.4,274.8 L899.4,274.7 L900.4,274.7 L901.4,274.7 L902.4,274.6 L903.4,274.6 L904.4,274.6 L905.4,274.5 L906.4,274.5 L907.4,274.4 L908.4,274.4 L909.4,274.4 L910.4,274.3 L911.4,274.3 L912.4,274.3 L913.4,274.2 L914.4,274.2 L915.4,274.1 L916.4,274.1 L917.4,274.1 L918.4,274.0 L919.4,274.0 L920.4,274.0 L921.4,273.9 L922.4,273.9 L923.4,273.9 L924.4,273.8 L925.4,273.8 L926.4,273.8 L927.4,273.7 L928.4,273.7 L929.4,273.7 L930.4,273.6 L931.4,273.6 L932.4,273.6 L933.4,273.5 L934.4,273.5 L935.4,273.5 L936.4,273.4 L937.5,273.4 L938.5,273.4 L939.5,273.3 L940.5,273.3 L941.5,273.3 L942.5,273.2 L943.5,273.2 L944.5,273.2 L945.5,273.1 L946.5,273.1 L947.5,273.1 L948.5,273.0 L949.5,273.0 L950.5,273.0 L951.5,272.9 L952.5,272.9 L953.5,272.9 L954.5,272.8 L955.5,272.8 L956.5,272.8 L957.5,272.7 L958.5,272.7 L959.5,272.7 L960.5,272.7 L961.5,272.6 L962.5,272.6 L963.5,272.6 L964.5,272.5 L965.5,272.5 L966.5,272.5 L967.5,272.4 L968.5,272.4 L969.5,272.4 L970.5,272.3 L971.5,272.3 L972.5,272.3 L973.5,272.2 L974.5,272.2 L975.5,272.2 L976.5,272.2 L977.5,272.1 L978.5,272.1 L979.5,272.1 L980.5,272.0 L981.5,272.0 L982.5,272.0 L983.6,271.9 L984.6,271.9 L985.6,271.9 L986.6,271.9 L987.6,271.8 L988.6,271.8 L989.6,271.8 L990.6,271.7 L991.6,271.7 L992.6,271.7 L993.6,271.6 L994.6,271.6 L995.6,271.6 L996.6,271.6 L997.6,271.5 L998.6,271.5 L999.6,271.5 L1000.6,271.4 L1001.6,271.4 L1002.6,271.4 L1003.6,271.3 L1004.6,271.3 L1005.6,271.3 L1006.6,271.2 L1007.6,271.2 L1008.6,271.2 L1009.6,271.2 L1010.6,271.1 L1011.6,271.1 L1012.6,271.1 L1013.6,271.0 L1014.6,271.0 L1015.6,271.0 L1016.6,270.9 L1017.6,270.9 L1018.6,270.9 L1019.6,270.8 L1020.6,270.8 L1021.6,270.8 L1022.6,270.7 L1023.6,270.7 L1024.6,270.7 L1025.6,270.7 L1026.6,270.6 L1027.6,270.6 L1028.6,270.6 L1029.6,270.5 L1030.6,270.5 L1031.7,270.5 L1032.7,270.4 L1033.7,270.4 L1034.7,270.4 L1035.7,270.3 L1036.7,270.3 L1037.7,270.3 L1038.7,270.2 L1039.7,270.2 L1040.7,270.2 L1041.7,270.1 L1042.7,270.1 L1043.7,270.1 L1044.7,270.0 L1045.7,270.0 L1046.7,270.0 L1047.7,269.9 L1048.7,269.9 L1049.7,269.9 L1050.7,269.8 L1051.7,269.8 L1052.7,269.7 L1053.7,269.7 L1054.7,269.7 L1055.7,269.6 L1056.7,269.6 L1057.7,269.6 L1058.7,269.5 L1059.7,269.5 L1060.7,269.5 L1061.7,269.4 L1062.7,269.4 L1063.7,269.4 L1064.7,269.3 L1065.7,269.3 L1066.7,269.2 L1067.7,269.2 L1068.7,269.2 L1069.7,269.1 L1070.7,269.1 L1071.7,269.1 L1072.7,269.0 L1073.7,269.0 L1074.7,268.9 L1075.7,268.9 L1076.7,268.9 L1077.7,268.8 L1078.7,268.8 L1079.7,268.7 L1080.7,268.7 L1081.7,268.7 L1082.7,268.6 L1083.7,268.6 L1084.7,268.5 L1085.7,268.5 L1086.7,268.5 L1087.7,268.4 L1088.7,268.4 L1089.7,268.3 L1090.7,268.3 L1091.7,268.2 L1092.7,268.2 L1093.7,268.2 L1094.7,268.1 L1095.7,268.1 L1096.7,268.0 L1097.8,268.0 L1098.8,267.9 L1099.8,267.9 L1100.8,267.9 L1101.8,267.8 L1102.8,267.8 L1103.8,267.7 L1104.8,267.7 L1105.8,267.6 L1106.8,267.6 L1107.8,267.5 L1108.8,267.5 L1109.8,267.4 L1110.8,267.4 L1111.8,267.3 L1112.8,267.3 L1113.8,267.2 L1114.8,267.2 L1115.8,267.1 L1116.8,267.1 L1117.8,267.0 L1118.8,267.0 L1119.8,266.9 L1120.8,266.9 L1121.8,266.8 L1122.8,266.8 L1123.8,266.7 L1124.8,266.7 L1125.8,266.6 L1126.8,266.6 L1127.8,266.5 L1128.8,266.5 L1129.8,266.4 L1130.8,266.4 L1131.8,266.3 L1132.8,266.3 L1133.8,266.2 L1134.8,266.2 L1135.8,266.1 L1136.8,266.0 L1137.8,266.0 L1138.8,265.9 L1139.8,265.9 L1140.8,265.8 L1141.8,265.8 L1142.8,265.7 L1143.8,265.6 L1144.8,265.6 L1145.8,265.5 L1146.8,265.5 L1147.8,265.4 L1148.8,265.3 L1149.8,265.3 L1150.8,265.2 L1151.8,265.2 L1152.8,265.1 L1153.8,265.0 L1154.8,265.0 L1155.8,264.9 L1156.8,264.8 L1157.8,264.8 L1158.8,264.7 L1159.8,264.6 L1160.8,264.6 L1161.8,264.5 L1162.8,264.4 L1163.8,264.4 L1164.8,264.3 L1165.8,264.2 L1166.8,264.2 L1167.8,264.1 L1168.8,264.0 L1169.8,264.0 L1170.8,263.9 L1171.8,263.8 L1172.8,263.8 L1173.8,263.7 L1174.8,263.6 L1175.8,263.5 L1176.8,263.5 L1177.8,263.4 L1178.7,263.3 L1179.7,263.2 L1180.7,263.2 L1181.7,263.1 L1182.7,263.0 L1183.7,262.9 L1184.7,262.9 L1185.7,262.8 L1186.7,262.7 L1187.7,262.6 L1188.7,262.6 L1189.7,262.5 L1190.7,262.4 L1191.7,262.3 L1192.7,262.2 L1193.7,262.2 L1194.7,262.1 L1195.7,262.0 L1196.7,261.9 L1197.7,261.8 L1198.7,261.7 L1199.7,261.7 L1200.7,261.6 L1201.7,261.5 L1202.7,261.4 L1203.7,261.3 L1204.7,261.2 L1205.7,261.1 L1206.7,261.0 L1207.7,261.0 L1208.7,260.9 L1209.7,260.8 L1210.7,260.7 L1211.7,260.6 L1212.7,260.5 L1213.7,260.4 L1214.7,260.3 L1215.7,260.2 L1216.7,260.1 L1217.7,260.0 L1218.7,259.9 L1219.7,259.9 L1220.7,259.8 L1221.7,259.7 L1222.7,259.6 L1223.7,259.5 L1224.7,259.4 L1225.7,259.3 L1226.6,259.2 L1227.6,259.1 L1228.6,259.0 L1229.6,258.9 L1230.6,258.8 L1231.6,258.7 L1232.6,258.6 L1233.6,258.4 L1234.6,258.3 L1235.6,258.2 L1236.6,258.1 L1237.6,258.0 L1238.6,257.9 L1239.6,257.8 L1240.6,257.7" fill="none" stroke="#4a4a4a" stroke-width="2" stroke-linejoin="round" stroke-linecap="round" />
<path d="M1240.6,257.7 L1240.9,258.8 L1241.1,260.0 L1241.2,261.1 L1241.3,262.2 L1241.4,263.4 L1241.4,264.5 L1241.3,265.6 L1241.2,266.6 L1241.1,267.7 L1240.9,268.7 L1240.6,269.7 L1240.3,270.6 L1240.0,271.5 L1239.5,272.4 L1239.1,273.3 L1238.6,274.0 L1238.0,274.8 L1237.4,275.4 L1236.8,276.1 L1236.1,276.7 L1235.4,277.2 L1234.6,277.7 L1233.8,278.2 L1233.0,278.7 L1232.2,279.1 L1231.3,279.4 L1230.4,279.8 L1229.5,280.1 L1228.5,280.4 L1227.6,280.7 L1226.6,281.0 L1225.6,281.3 L1224.7,281.5 L1223.7,281.8 L1222.7,282.0 L1221.7,282.2 L1220.7,282.5 L1219.7,282.7 L1218.8,282.9 L1217.8,283.1 L1216.8,283.3 L1215.8,283.5 L1214.8,283.7 L1213.8,283.9 L1212.8,284.1 L1211.9,284.3 L1210.9,284.5 L1209.9,284.6 L1208.9,284.8 L1207.9,285.0 L1206.9,285.1 L1205.9,285.3 L1204.9,285.5 L1203.9,285.6 L1202.9,285.8 L1201.9,285.9 L1201.0,286.0 L1200.0,286.2 L1199.0,286.3 L1198.0,286.4 L1197.0,286.5 L1196.0,286.7 L1195.0,286.8 L1194.0,286.9 L1193.0,287.0 L1192.0,287.1 L1191.0,287.2 L1190.0,287.3 L1189.0,287.4 L1188.0,287.5 L1187.0,287.6 L1186.0,287.6 L1185.0,287.7 L1184.0,287.8 L1183.0,287.9 L1182.0,287.9 L1181.0,288.0 L1180.0,288.1 L1179.0,288.1 L1178.0,288.2 L1177.0,288.3 L1176.0,288.3 L1175.0,288.4 L1174.0,288.4 L1173.0,288.5 L1172.0,288.5 L1171.0,288.5 L1170.0,288.6 L1169.0,288.6 L1168.0,288.7 L1167.0,288.7 L1166.0,288.7 L1165.0,288.8 L1164.0,288.8 L1163.0,288.8 L1162.0,288.8 L1161.0,288.8 L1159.9,288.9 L1158.9,288.9 L1157.9,288.9 L1156.9,288.9 L1155.9,288.9 L1154.9,288.9 L1153.9,288.9 L1152.9,288.9 L1151.9,289.0 L1150.9,289.0 L1149.9,289.0 L1148.9,289.0 L1147.9,289.0 L1146.9,289.0 L1145.9,289.0 L1144.9,289.0 L1143.8,289.0 L1142.8,289.0 L1141.8,289.0 L1140.8,288.9 L1139.8,288.9 L1138.8,288.9 L1137.8,288.9 L1136.8,288.9 L1135.8,288.9 L1134.8,288.9 L1133.8,288.9 L1132.8,288.9 L1131.8,288.9 L1130.8,288.9 L1129.8,288.9 L1128.7,288.8 L1127.7,288.8 L1126.7,288.8 L1125.7,288.8 L1124.7,288.8 L1123.7,288.8 L1122.7,288.8 L1121.7,288.8 L1120.7,288.7 L1119.7,288.7 L1118.7,288.7 L1117.7,288.7 L1116.7,288.7 L1115.7,288.7 L1114.7,288.7 L1113.7,288.7 L1112.6,288.6 L1111.6,288.6 L1110.6,288.6 L1109.6,288.6 L1108.6,288.6 L1107.6,288.6 L1106.6,288.6 L1105.6,288.6 L1104.6,288.5 L1103.6,288.5 L1102.6,288.5 L1101.6,288.5 L1100.6,288.5 L1099.6,288.5 L1098.6,288.4 L1097.6,288.4 L1096.6,288.4 L1095.5,288.4 L1094.5,288.4 L1093.5,288.4 L1092.5,288.4 L1091.5,288.3 L1090.5,288.3 L1089.5,288.3 L1088.5,288.3 L1087.5,288.3 L1086.5,288.3 L1085.5,288.2 L1084.5,288.2 L1083.5,288.2 L1082.5,288.2 L1081.5,288.2 L1080.5,288.2 L1079.5,288.1 L1078.5,288.1 L1077.5,288.1 L1076.5,288.1 L1075.5,288.1 L1074.4,288.1 L1073.4,288.0 L1072.4,288.0 L1071.4,288.0 L1070.4,288.0 L1069.4,288.0 L1068.4,288.0 L1067.4,287.9 L1066.4,287.9 L1065.4,287.9 L1064.4,287.9 L1063.4,287.9 L1062.4,287.8 L1061.4,287.8 L1060.4,287.8 L1059.4,287.8 L1058.4,287.8 L1057.4,287.8 L1056.4,287.7 L1055.4,287.7 L1054.4,287.7 L1053.4,287.7 L1052.4,287.7 L1051.3,287.6 L1050.3,287.6 L1049.3,287.6 L1048.3,287.6 L1047.3,287.6 L1046.3,287.5 L1045.3,287.5 L1044.3,287.5 L1043.3,287.5 L1042.3,287.5 L1041.3,287.5 L1040.3,287.4 L1039.3,287.4 L1038.3,287.4 L1037.3,287.4 L1036.3,287.4 L1035.3,287.3 L1034.3,287.3 L1033.3,287.3 L1032.3,287.3 L1031.3,287.3 L1030.3,287.2 L1029.3,287.2 L1028.3,287.2 L1027.3,287.2 L1026.3,287.2 L1025.3,287.1 L1024.3,287.1 L1023.3,287.1 L1022.2,287.1 L1021.2,287.1 L1020.2,287.0 L1019.2,287.0 L1018.2,287.0 L1017.2,287.0 L1016.2,287.0 L1015.2,286.9 L1014.2,286.9 L1013.2,286.9 L1012.2,286.9 L1011.2,286.9 L1010.2,286.8 L1009.2,286.8 L1008.2,286.8 L1007.2,286.8 L1006.2,286.8 L1005.2,286.7 L1004.2,286.7 L1003.2,286.7 L1002.2,286.7 L1001.2,286.7 L1000.2,286.6 L999.2,286.6 L998.2,286.6 L997.2,286.6 L996.2,286.6 L995.2,286.5 L994.2,286.5 L993.2,286.5 L992.2,286.5 L991.2,286.5 L990.2,286.4 L989.2,286.4 L988.1,286.4 L987.1,286.4 L986.1,286.4 L985.1,286.3 L984.1,286.3 L983.1,286.3 L982.1,286.3 L981.1,286.3 L980.1,286.2 L979.1,286.2 L978.1,286.2 L977.1,286.2 L976.1,286.2 L975.1,286.1 L974.1,286.1 L973.1,286.1 L972.1,286.1 L971.1,286.1 L970.1,286.1 L969.1,286.0 L968.1,286.0 L967.1,286.0 L966.1,286.0 L965.1,286.0 L964.1,285.9 L963.1,285.9 L962.1,285.9 L961.1,285.9 L960.1,285.9 L959.1,285.8 L958.1,285.8 L957.1,285.8 L956.1,285.8 L955.1,285.8 L954.1,285.8 L953.1,285.7 L952.1,285.7 L951.1,285.7 L950.1,285.7 L949.0,285.7 L948.0,285.7 L947.0,285.6 L946.0,285.6 L945.0,285.6 L944.0,285.6 L943.0,285.6 L942.0,285.5 L941.0,285.5 L940.0,285.5 L939.0,285.5 L938.0,285.5 L937.0,285.5 L936.0,285.4 L935.0,285.4 L934.0,285.4 L933.0,285.4 L932.0,285.4 L931.0,285.4 L930.0,285.4 L929.0,285.3 L928.0,285.3 L927.0,285.3 L926.0,285.3 L925.0,285.3 L924.0,285.3 L923.0,285.2 L922.0,285.2 L921.0,285.2 L920.0,285.2 L919.0,285.2 L918.0,285.2 L917.0,285.2 L916.0,285.1 L915.0,285.1 L914.0,285.1 L913.0,285.1 L912.0,285.1 L911.0,285.1 L910.0,285.1 L908.9,285.0 L907.9,285.0 L906.9,285.0 L905.9,285.0 L904.9,285.0 L903.9,285.0 L902.9,285.0 L901.9,285.0 L900.9,284.9 L899.9,284.9 L898.9,284.9 L897.9,284.9 L896.9,284.9 L895.9,284.9 L894.9,284.9 L893.9,284.9 L892.9,284.9 L891.9,284.8 L890.9,284.8 L889.9,284.8 L888.9,284.8 L887.9,284.8 L886.9,284.8 L885.9,284.8 L884.9,284.8 L883.9,284.8 L882.9,284.8 L881.9,284.7 L880.9,284.7 L879.9,284.7 L878.9,284.7 L877.9,284.7 L876.9,284.7 L875.9,284.7 L874.9,284.7 L873.8,284.7 L872.8,284.7 L871.8,284.7 L870.8,284.7 L869.8,284.6 L868.8,284.6 L867.8,284.6 L866.8,284.6 L865.8,284.6 L864.8,284.6 L863.8,284.6 L862.8,284.6 L861.8,284.6 L860.8,284.6 L859.8,284.6 L858.8,284.6 L857.8,284.6 L856.8,284.6 L855.8,284.6 L854.8,284.6 L853.8,284.6 L852.8,284.6 L851.8,284.6 L850.8,284.5 L849.8,284.5 L848.8,284.5 L847.8,284.5 L846.8,284.5 L845.8,284.5 L844.7,284.5 L843.7,284.5 L842.7,284.5 L841.7,284.5 L840.7,284.5 L839.7,284.5 L838.7,284.5 L837.7,284.5 L836.7,284.5 L835.7,284.5 L834.7,284.5 L833.7,284.5 L832.7,284.5 L831.7,284.5 L830.7,284.5 L829.7,284.5 L828.7,284.5 L827.7,284.5 L826.7,284.5 L825.7,284.5 L824.7,284.5 L823.7,284.5 L822.7,284.5 L821.7,284.5 L820.7,284.5 L819.6,284.6 L818.6,284.6 L817.6,284.6 L816.6,284.6 L815.6,284.6 L814.6,284.6 L813.6,284.6 L812.6,284.6 L811.6,284.6 L810.6,284.6 L809.6,284.6 L808.6,284.6 L807.6,284.6 L806.6,284.6 L805.6,284.6 L804.6,284.6 L803.6,284.6 L802.6,284.7 L801.6,284.7 L800.6,284.7 L799.5,284.7 L798.5,284.7 L797.5,284.7 L796.5,284.7 L795.5,284.7 L794.5,284.7 L793.5,284.7 L792.5,284.8 L791.5,284.8 L790.5,284.8 L789.5,284.8 L788.5,284.8 L787.5,284.8 L786.5,284.8 L785.5,284.8 L784.5,284.8 L783.5,284.9 L782.5,284.9 L781.4,284.9 L780.4,284.9 L779.4,284.9 L778.4,284.9 L777.4,284.9 L776.4,285.0 L775.4,285.0 L774.4,285.0 L773.4,285.0 L772.4,285.0 L771.4,285.0 L770.4,285.1 L769.4,285.1 L768.4,285.1 L767.4,285.1 L766.4,285.1 L765.3,285.2 L764.3,285.2 L763.3,285.2 L762.3,285.2 L761.3,285.2 L760.3,285.3 L759.3,285.3 L758.3,285.3" fill="none" stroke="#4a4a4a" stroke-width="2" stroke-linejoin="round" stroke-linecap="round" />
<rect x="727" y="14.5" width="547" height="439.0" fill="none" stroke="#111" stroke-width="2"/>
<line x1="758.40" y1="453.5" x2="758.40" y2="445.5" stroke="#111" stroke-width="2"/>
<line x1="822.80" y1="453.5" x2="822.80" y2="445.5" stroke="#111" stroke-width="2"/>
<line x1="887.20" y1="453.5" x2="887.20" y2="445.5" stroke="#111" stroke-width="2"/>
<line x1="951.60" y1="453.5" x2="951.60" y2="445.5" stroke="#111" stroke-width="2"/>
<line x1="1016.00" y1="453.5" x2="1016.00" y2="445.5" stroke="#111" stroke-width="2"/>
<line x1="1080.40" y1="453.5" x2="1080.40" y2="445.5" stroke="#111" stroke-width="2"/>
<line x1="1144.80" y1="453.5" x2="1144.80" y2="445.5" stroke="#111" stroke-width="2"/>
<line x1="1209.20" y1="453.5" x2="1209.20" y2="445.5" stroke="#111" stroke-width="2"/>
<line x1="727" y1="396.48" x2="735" y2="396.48" stroke="#111" stroke-width="2"/>
<line x1="727" y1="337.54" x2="735" y2="337.54" stroke="#111" stroke-width="2"/>
<line x1="727" y1="278.60" x2="735" y2="278.60" stroke="#111" stroke-width="2"/>
<line x1="727" y1="219.66" x2="735" y2="219.66" stroke="#111" stroke-width="2"/>
<line x1="727" y1="160.72" x2="735" y2="160.72" stroke="#111" stroke-width="2"/>
<line x1="727" y1="101.78" x2="735" y2="101.78" stroke="#111" stroke-width="2"/>
<line x1="727" y1="42.84" x2="735" y2="42.84" stroke="#111" stroke-width="2"/>
<line x1="756" y1="57.6" x2="800" y2="57.6" stroke="#4a4a4a" stroke-width="2"/>
<line x1="756" y1="83.5" x2="800" y2="83.5" stroke="#C8464F" stroke-width="2"/>
<line x1="756" y1="109.4" x2="800" y2="109.4" stroke="#2C64B4" stroke-width="2"/>
<line x1="756" y1="135.3" x2="800" y2="135.3" stroke="#3C9670" stroke-width="2"/>
<line x1="756" y1="161.2" x2="800" y2="161.2" stroke="#A47CCB" stroke-width="2"/>
<line x1="756" y1="187.1" x2="800" y2="187.1" stroke="#B89A2A" stroke-width="2"/>
<path d="M83.4,984.0 L83.5,982.5 L83.7,980.9 L83.8,979.4 L84.0,977.9 L84.1,976.4 L84.3,974.8 L84.5,973.3 L84.6,971.8 L84.8,970.3 L85.0,968.8 L85.2,967.3 L85.4,965.8 L85.7,964.3 L85.9,962.8 L86.1,961.3 L86.4,959.8 L86.6,958.3 L86.9,956.8 L87.1,955.3 L87.4,953.8 L87.7,952.3 L88.0,950.9 L88.3,949.4 L88.6,947.9 L88.9,946.4 L89.2,945.0 L89.5,943.5 L89.8,942.0 L90.2,940.6 L90.5,939.1 L90.9,937.7 L91.2,936.2 L91.6,934.8 L91.9,933.3 L92.3,931.9 L92.7,930.4 L93.1,929.0 L93.5,927.5 L93.9,926.1 L94.3,924.7 L94.7,923.2 L95.1,921.8 L95.6,920.4 L96.0,918.9 L96.4,917.5 L96.9,916.1 L97.3,914.7 L97.8,913.3 L98.2,911.9 L98.7,910.4 L99.2,909.0 L99.7,907.6 L100.2,906.2 L100.6,904.8 L101.1,903.4 L101.7,902.0 L102.2,900.6 L102.7,899.2 L103.2,897.8 L103.7,896.4 L104.3,895.1 L104.8,893.7 L105.3,892.3 L105.9,890.9 L106.5,889.5 L107.0,888.1 L107.6,886.8 L108.2,885.4 L108.7,884.0 L109.3,882.6 L109.9,881.3 L110.5,879.9 L111.1,878.5 L111.7,877.2 L112.3,875.8 L112.9,874.5 L113.5,873.1 L114.2,871.8 L114.8,870.4 L115.4,869.1 L116.0,867.7 L116.7,866.4 L117.3,865.0 L118.0,863.7 L118.6,862.3 L119.3,861.0 L120.0,859.7 L120.6,858.3 L121.3,857.0 L122.0,855.6 L122.7,854.3 L123.4,853.0 L124.1,851.7 L124.7,850.3 L125.4,849.0 L126.2,847.7 L126.9,846.4 L127.6,845.1 L128.3,843.7 L129.0,842.4 L129.7,841.1 L130.5,839.8 L131.2,838.5 L131.9,837.2 L132.7,835.9 L133.4,834.6 L134.2,833.3 L134.9,832.0 L135.7,830.7 L136.4,829.4 L137.2,828.1 L138.0,826.8 L138.7,825.5 L139.5,824.2 L140.3,822.9 L141.1,821.6 L141.8,820.3 L142.6,819.0 L143.4,817.7 L144.2,816.4 L145.0,815.2 L145.8,813.9 L146.6,812.6 L147.4,811.3 L148.2,810.0 L149.0,808.8 L149.8,807.5 L150.7,806.2 L151.5,804.9 L152.3,803.7 L153.1,802.4 L154.0,801.1 L154.8,799.9 L155.6,798.6 L156.5,797.3 L157.3,796.1 L158.1,794.8 L159.0,793.5 L159.8,792.3 L160.7,791.0 L161.5,789.8 L162.4,788.5 L163.2,787.3 L164.1,786.0 L165.0,784.7 L165.8,783.5 L166.7,782.2 L167.6,781.0 L168.4,779.7 L169.3,778.5 L170.2,777.2 L171.0,776.0 L171.9,774.8 L172.8,773.5 L173.7,772.3 L174.6,771.0 L175.5,769.8 L176.3,768.6 L177.2,767.3 L178.1,766.1 L179.0,764.8 L179.9,763.6 L180.8,762.4 L181.7,761.1 L182.6,759.9 L183.5,758.7 L184.4,757.4 L185.3,756.2 L186.2,755.0 L187.1,753.8 L188.0,752.5 L188.9,751.3 L189.8,750.1 L190.7,748.9 L191.6,747.6 L192.6,746.4 L193.5,745.2 L194.4,744.0 L195.3,742.8 L196.2,741.5 L197.2,740.3 L198.1,739.1 L199.0,737.9 L199.9,736.7 L200.9,735.5 L201.8,734.3 L202.7,733.1 L203.7,731.9 L204.6,730.7 L205.5,729.5 L206.5,728.3 L207.4,727.1 L208.4,725.9 L209.3,724.7 L210.3,723.5 L211.2,722.3 L212.2,721.2 L213.1,720.0 L214.1,718.8 L215.1,717.6 L216.0,716.4 L217.0,715.3 L218.0,714.1 L218.9,712.9 L219.9,711.8 L220.9,710.6 L221.8,709.4 L222.8,708.3 L223.8,707.1 L224.8,706.0 L225.8,704.8 L226.8,703.7 L227.8,702.5 L228.7,701.4 L229.7,700.2 L230.7,699.1 L231.7,698.0 L232.7,696.8 L233.7,695.7 L234.8,694.6 L235.8,693.5 L236.8,692.4 L237.8,691.2 L238.8,690.1 L239.8,689.0 L240.9,687.9 L241.9,686.8 L242.9,685.7 L244.0,684.6 L245.0,683.5 L246.0,682.4 L247.1,681.3 L248.1,680.3 L249.2,679.2 L250.2,678.1 L251.3,677.0 L252.3,676.0 L253.4,674.9 L254.4,673.8 L255.5,672.8 L256.6,671.7 L257.6,670.7 L258.7,669.6 L259.8,668.6 L260.9,667.6 L261.9,666.5 L263.0,665.5 L264.1,664.5 L265.2,663.5 L266.3,662.4 L267.4,661.4 L268.5,660.4 L269.6,659.4 L270.7,658.4 L271.8,657.4 L272.9,656.4 L274.1,655.4 L275.2,654.5 L276.3,653.5 L277.4,652.5 L278.6,651.5 L279.7,650.6 L280.8,649.6 L282.0,648.7 L283.1,647.7 L284.3,646.8 L285.4,645.8 L286.6,644.9 L287.7,644.0 L288.9,643.0 L290.1,642.1 L291.2,641.2 L292.4,640.3 L293.6,639.4 L294.8,638.5 L295.9,637.6 L297.1,636.7 L298.3,635.8 L299.5,634.9 L300.7,634.0 L301.9,633.2 L303.1,632.3 L304.3,631.5 L305.6,630.6 L306.8,629.8 L308.0,628.9 L309.2,628.1 L310.5,627.2 L311.7,626.4 L312.9,625.6 L314.2,624.8 L315.4,624.0 L316.7,623.2 L317.9,622.4 L319.2,621.6 L320.4,620.8 L321.7,620.0 L323.0,619.2 L324.3,618.5 L325.5,617.7 L326.8,617.0 L328.1,616.2 L329.4,615.5 L330.7,614.7 L332.0,614.0 L333.3,613.3 L334.6,612.6 L335.9,611.8 L337.2,611.1 L338.6,610.4 L339.9,609.7 L341.2,609.1 L342.6,608.4 L343.9,607.7 L345.3,607.0 L346.6,606.4 L348.0,605.7 L349.3,605.1 L350.7,604.4 L352.0,603.8 L353.4,603.2 L354.8,602.6 L356.2,602.0 L357.6,601.3 L359.0,600.7 L360.4,600.2 L361.8,599.6 L363.2,599.0 L364.6,598.4 L366.0,597.9 L367.4,597.3 L368.8,596.8 L370.3,596.2 L371.7,595.7" fill="none" stroke="#4a4a4a" stroke-width="1.2" stroke-linejoin="round" stroke-linecap="round" />
<path d="M371.7,595.7 L372.1,597.1 L372.6,598.6 L373.0,600.0 L373.5,601.5 L373.9,602.9 L374.4,604.3 L374.8,605.8 L375.3,607.2 L375.8,608.6 L376.3,610.1 L376.8,611.5 L377.3,612.9 L377.8,614.3 L378.3,615.7 L378.8,617.1 L379.3,618.6 L379.8,620.0 L380.3,621.4 L380.9,622.8 L381.4,624.2 L382.0,625.6 L382.5,627.0 L383.1,628.4 L383.6,629.8 L384.2,631.1 L384.7,632.5 L385.3,633.9 L385.9,635.3 L386.5,636.7 L387.0,638.1 L387.6,639.4 L388.2,640.8 L388.8,642.2 L389.4,643.6 L390.0,644.9 L390.6,646.3 L391.3,647.7 L391.9,649.1 L392.5,650.4 L393.1,651.8 L393.8,653.1 L394.4,654.5 L395.0,655.9 L395.7,657.2 L396.3,658.6 L397.0,659.9 L397.6,661.3 L398.3,662.6 L398.9,664.0 L399.6,665.3 L400.2,666.7 L400.9,668.0 L401.6,669.4 L402.3,670.7 L402.9,672.0 L403.6,673.4 L404.3,674.7 L405.0,676.1 L405.7,677.4 L406.4,678.7 L407.0,680.1 L407.7,681.4 L408.4,682.7 L409.1,684.1 L409.8,685.4 L410.6,686.7 L411.3,688.0 L412.0,689.4 L412.7,690.7 L413.4,692.0 L414.1,693.3 L414.8,694.7 L415.5,696.0 L416.3,697.3 L417.0,698.6 L417.7,700.0 L418.4,701.3 L419.2,702.6 L419.9,703.9 L420.6,705.2 L421.4,706.5 L422.1,707.9 L422.8,709.2 L423.6,710.5 L424.3,711.8 L425.1,713.1 L425.8,714.4 L426.5,715.7 L427.3,717.1 L428.0,718.4 L428.8,719.7 L429.5,721.0 L430.3,722.3 L431.0,723.6 L431.8,724.9 L432.5,726.2 L433.3,727.5 L434.0,728.9 L434.8,730.2 L435.5,731.5 L436.3,732.8 L437.0,734.1 L437.8,735.4 L438.5,736.7 L439.3,738.0 L440.0,739.3 L440.8,740.6 L441.5,742.0 L442.3,743.3 L443.0,744.6 L443.8,745.9 L444.5,747.2 L445.3,748.5 L446.0,749.8 L446.8,751.1 L447.5,752.4 L448.3,753.8 L449.0,755.1 L449.8,756.4 L450.5,757.7 L451.3,759.0 L452.0,760.3 L452.8,761.6 L453.5,762.9 L454.2,764.3 L455.0,765.6 L455.7,766.9 L456.5,768.2 L457.2,769.5 L457.9,770.8 L458.7,772.2 L459.4,773.5 L460.1,774.8 L460.9,776.1 L461.6,777.4 L462.3,778.8 L463.0,780.1 L463.8,781.4 L464.5,782.7 L465.2,784.1 L465.9,785.4 L466.6,786.7 L467.4,788.0 L468.1,789.4 L468.8,790.7 L469.5,792.0 L470.2,793.3 L471.0,794.7 L471.7,796.0 L472.4,797.3 L473.1,798.6 L473.8,800.0 L474.5,801.3 L475.2,802.6 L476.0,803.9 L476.7,805.3 L477.4,806.6 L478.1,807.9 L478.8,809.3 L479.5,810.6 L480.2,811.9 L480.9,813.2 L481.7,814.6 L482.4,815.9 L483.1,817.2 L483.8,818.5 L484.5,819.9 L485.2,821.2 L485.9,822.5 L486.6,823.9 L487.4,825.2 L488.1,826.5 L488.8,827.8 L489.5,829.2 L490.2,830.5 L490.9,831.8 L491.6,833.1 L492.3,834.5 L493.1,835.8 L493.8,837.1 L494.5,838.4 L495.2,839.7 L495.9,841.1 L496.7,842.4 L497.4,843.7 L498.1,845.0 L498.8,846.4 L499.5,847.7 L500.3,849.0 L501.0,850.3 L501.7,851.6 L502.4,852.9 L503.2,854.3 L503.9,855.6 L504.6,856.9 L505.4,858.2 L506.1,859.5 L506.8,860.8 L507.6,862.1 L508.3,863.4 L509.0,864.8 L509.8,866.1 L510.5,867.4 L511.3,868.7 L512.0,870.0 L512.7,871.3 L513.5,872.6 L514.2,873.9 L515.0,875.2 L515.7,876.5 L516.5,877.8 L517.3,879.1 L518.0,880.4 L518.8,881.7 L519.5,883.0 L520.3,884.3 L521.1,885.6 L521.8,886.9 L522.6,888.1 L523.4,889.4 L524.2,890.7 L524.9,892.0 L525.7,893.3 L526.5,894.6 L527.3,895.9 L528.1,897.1 L528.8,898.4 L529.6,899.7 L530.4,901.0 L531.2,902.2 L532.0,903.5 L532.8,904.8 L533.6,906.1 L534.4,907.3 L535.3,908.6 L536.1,909.9 L536.9,911.1 L537.7,912.4 L538.5,913.6 L539.4,914.9 L540.2,916.1 L541.0,917.4 L541.9,918.6 L542.7,919.8 L543.6,921.1 L544.5,922.3 L545.3,923.5 L546.2,924.8 L547.1,926.0 L548.0,927.2 L548.8,928.4 L549.7,929.6 L550.6,930.8 L551.6,932.0 L552.5,933.1 L553.4,934.3 L554.3,935.5 L555.3,936.7 L556.2,937.8 L557.2,939.0 L558.1,940.1 L559.1,941.3 L560.1,942.4 L561.1,943.5 L562.1,944.6 L563.1,945.7 L564.1,946.8 L565.1,947.9 L566.1,949.0 L567.2,950.1 L568.2,951.2 L569.2,952.3 L570.3,953.3 L571.3,954.4 L572.4,955.5 L573.4,956.5 L574.5,957.6 L575.5,958.7 L576.6,959.7 L577.7,960.8 L578.7,961.8 L579.8,962.9 L580.8,963.9 L581.9,965.0 L582.9,966.1 L584.0,967.1 L585.0,968.2 L586.0,969.3 L587.0,970.4 L588.0,971.4 L589.0,972.5 L590.0,973.6 L591.0,974.7 L591.9,975.9 L592.9,977.0 L593.8,978.1 L594.7,979.3 L595.6,980.4 L596.5,981.6 L597.4,982.8 L598.2,984.0" fill="none" stroke="#4a4a4a" stroke-width="1.2" stroke-linejoin="round" stroke-linecap="round" />
<path d="M83.4,928.0 L83.6,926.5 L83.7,925.0 L83.9,923.5 L84.1,922.0 L84.3,920.6 L84.5,919.1 L84.7,917.6 L84.9,916.1 L85.1,914.6 L85.3,913.1 L85.5,911.6 L85.7,910.1 L85.9,908.7 L86.1,907.2 L86.3,905.7 L86.5,904.2 L86.8,902.7 L87.0,901.2 L87.2,899.7 L87.4,898.3 L87.7,896.8 L87.9,895.3 L88.2,893.8 L88.4,892.3 L88.6,890.8 L88.9,889.4 L89.1,887.9 L89.4,886.4 L89.7,884.9 L89.9,883.4 L90.2,882.0 L90.4,880.5 L90.7,879.0 L91.0,877.5 L91.3,876.0 L91.5,874.6 L91.8,873.1 L92.1,871.6 L92.4,870.1 L92.7,868.6 L92.9,867.2 L93.2,865.7 L93.5,864.2 L93.8,862.7 L94.1,861.3 L94.4,859.8 L94.7,858.3 L95.0,856.8 L95.3,855.4 L95.7,853.9 L96.0,852.4 L96.3,850.9 L96.6,849.5 L96.9,848.0 L97.2,846.5 L97.6,845.1 L97.9,843.6 L98.2,842.1 L98.5,840.6 L98.9,839.2 L99.2,837.7 L99.6,836.2 L99.9,834.8 L100.2,833.3 L100.6,831.8 L100.9,830.4 L101.3,828.9 L101.6,827.4 L102.0,825.9 L102.3,824.5 L102.7,823.0 L103.0,821.5 L103.4,820.1 L103.8,818.6 L104.1,817.1 L104.5,815.7 L104.9,814.2 L105.2,812.8 L105.6,811.3 L106.0,809.8 L106.3,808.4 L106.7,806.9 L107.1,805.4 L107.5,804.0 L107.9,802.5 L108.2,801.0 L108.6,799.6 L109.0,798.1 L109.4,796.7 L109.8,795.2 L110.2,793.7 L110.6,792.3 L111.0,790.8 L111.4,789.4 L111.8,787.9 L112.2,786.4 L112.6,785.0 L113.0,783.5 L113.4,782.1 L113.8,780.6 L114.2,779.2 L114.6,777.7 L115.0,776.2 L115.4,774.8 L115.8,773.3 L116.2,771.9 L116.6,770.4 L117.1,769.0 L117.5,767.5 L117.9,766.1 L118.3,764.6 L118.7,763.2 L119.2,761.7 L119.6,760.2 L120.0,758.8 L120.4,757.3 L120.9,755.9 L121.3,754.4 L121.7,753.0 L122.2,751.5 L122.6,750.1 L123.0,748.6 L123.5,747.2 L123.9,745.8 L124.4,744.3 L124.8,742.9 L125.2,741.4 L125.7,740.0 L126.1,738.5 L126.6,737.1 L127.0,735.6 L127.5,734.2 L128.0,732.8 L128.4,731.3 L128.9,729.9 L129.3,728.4 L129.8,727.0 L130.3,725.6 L130.7,724.1 L131.2,722.7 L131.7,721.3 L132.2,719.8 L132.6,718.4 L133.1,717.0 L133.6,715.6 L134.1,714.1 L134.6,712.7 L135.1,711.3 L135.6,709.8 L136.1,708.4 L136.6,707.0 L137.1,705.6 L137.6,704.2 L138.1,702.7 L138.6,701.3 L139.1,699.9 L139.6,698.5 L140.1,697.1 L140.7,695.7 L141.2,694.3 L141.7,692.8 L142.2,691.4 L142.8,690.0 L143.3,688.6 L143.9,687.2 L144.4,685.8 L144.9,684.4 L145.5,683.0 L146.0,681.6 L146.6,680.2 L147.2,678.8 L147.7,677.4 L148.3,676.0 L148.8,674.6 L149.4,673.3 L150.0,671.9 L150.6,670.5 L151.1,669.1 L151.7,667.7 L152.3,666.3 L152.9,664.9 L153.5,663.6 L154.1,662.2 L154.7,660.8 L155.3,659.4 L155.9,658.1 L156.5,656.7 L157.2,655.3 L157.8,654.0 L158.4,652.6 L159.0,651.2 L159.7,649.9 L160.3,648.5 L160.9,647.2 L161.6,645.8 L162.2,644.5 L162.9,643.1 L163.5,641.8 L164.2,640.4 L164.9,639.1 L165.5,637.7 L166.2,636.4 L166.9,635.1 L167.6,633.7 L168.2,632.4 L168.9,631.1 L169.6,629.7 L170.3,628.4 L171.0,627.1 L171.7,625.8 L172.5,624.4 L173.2,623.1 L173.9,621.8 L174.6,620.5 L175.3,619.2 L176.1,617.9 L176.8,616.6 L177.6,615.3 L178.3,614.0 L179.1,612.7 L179.8,611.4 L180.6,610.1 L181.3,608.8 L182.1,607.5 L182.9,606.2 L183.7,604.9 L184.5,603.6 L185.3,602.4 L186.1,601.1 L186.9,599.8 L187.7,598.5 L188.5,597.3 L189.3,596.0" fill="none" stroke="#C8464F" stroke-width="1.2" stroke-linejoin="round" stroke-linecap="round" />
<path d="M189.3,596.0 L189.5,597.5 L189.7,599.0 L190.0,600.5 L190.2,602.0 L190.4,603.4 L190.6,604.9 L190.9,606.4 L191.1,607.9 L191.4,609.4 L191.6,610.9 L191.9,612.4 L192.1,613.9 L192.4,615.3 L192.6,616.8 L192.9,618.3 L193.2,619.8 L193.4,621.3 L193.7,622.7 L194.0,624.2 L194.3,625.7 L194.5,627.2 L194.8,628.7 L195.1,630.1 L195.4,631.6 L195.7,633.1 L196.0,634.6 L196.3,636.0 L196.6,637.5 L196.9,639.0 L197.2,640.5 L197.5,641.9 L197.8,643.4 L198.2,644.9 L198.5,646.4 L198.8,647.8 L199.1,649.3 L199.5,650.8 L199.8,652.2 L200.1,653.7 L200.5,655.2 L200.8,656.7 L201.1,658.1 L201.5,659.6 L201.8,661.1 L202.2,662.5 L202.5,664.0 L202.9,665.5 L203.2,666.9 L203.6,668.4 L203.9,669.9 L204.3,671.3 L204.7,672.8 L205.0,674.3 L205.4,675.7 L205.7,677.2 L206.1,678.6 L206.5,680.1 L206.9,681.6 L207.2,683.0 L207.6,684.5 L208.0,686.0 L208.4,687.4 L208.7,688.9 L209.1,690.3 L209.5,691.8 L209.9,693.3 L210.3,694.7 L210.7,696.2 L211.0,697.6 L211.4,699.1 L211.8,700.6 L212.2,702.0 L212.6,703.5 L213.0,704.9 L213.4,706.4 L213.8,707.9 L214.2,709.3 L214.6,710.8 L215.0,712.2 L215.4,713.7 L215.8,715.1 L216.2,716.6 L216.6,718.1 L217.0,719.5 L217.4,721.0 L217.8,722.4 L218.2,723.9 L218.6,725.3 L219.0,726.8 L219.4,728.3 L219.8,729.7 L220.2,731.2 L220.7,732.6 L221.1,734.1 L221.5,735.5 L221.9,737.0 L222.3,738.5 L222.7,739.9 L223.1,741.4 L223.5,742.8 L223.9,744.3 L224.3,745.7 L224.7,747.2 L225.2,748.6 L225.6,750.1 L226.0,751.5 L226.4,753.0 L226.8,754.5 L227.2,755.9 L227.6,757.4 L228.0,758.8 L228.4,760.3 L228.8,761.7 L229.2,763.2 L229.6,764.6 L230.1,766.1 L230.5,767.6 L230.9,769.0 L231.3,770.5 L231.7,771.9 L232.1,773.4 L232.5,774.8 L232.9,776.3 L233.3,777.7 L233.7,779.2 L234.1,780.7 L234.5,782.1 L234.9,783.6 L235.3,785.0 L235.7,786.5 L236.1,787.9 L236.5,789.4 L236.8,790.9 L237.2,792.3 L237.6,793.8 L238.0,795.2 L238.4,796.7 L238.8,798.1 L239.2,799.6 L239.6,801.1 L239.9,802.5 L240.3,804.0 L240.7,805.4 L241.1,806.9 L241.5,808.4 L241.8,809.8 L242.2,811.3 L242.6,812.7 L242.9,814.2 L243.3,815.7 L243.7,817.1 L244.0,818.6 L244.4,820.0 L244.8,821.5 L245.1,823.0 L245.5,824.4 L245.8,825.9 L246.2,827.4 L246.5,828.8 L246.9,830.3 L247.2,831.8 L247.6,833.2 L247.9,834.7 L248.2,836.1 L248.6,837.6 L248.9,839.1 L249.2,840.5 L249.6,842.0 L249.9,843.5 L250.2,844.9 L250.5,846.4 L250.9,847.9 L251.2,849.4 L251.5,850.8 L251.8,852.3 L252.1,853.8 L252.4,855.2 L252.7,856.7 L253.0,858.2 L253.3,859.6 L253.6,861.1 L253.9,862.6 L254.2,864.1 L254.5,865.5 L254.7,867.0 L255.0,868.5 L255.3,870.0 L255.6,871.4 L255.8,872.9 L256.1,874.4 L256.4,875.9 L256.6,877.3 L256.9,878.8 L257.1,880.3 L257.4,881.8 L257.6,883.3 L257.9,884.7 L258.1,886.2 L258.3,887.7 L258.6,889.2 L258.8,890.7 L259.0,892.2 L259.2,893.6 L259.4,895.1 L259.7,896.6 L259.9,898.1 L260.1,899.6 L260.3,901.1 L260.5,902.6 L260.7,904.0 L260.8,905.5 L261.0,907.0 L261.2,908.5 L261.4,910.0 L261.5,911.5 L261.7,913.0 L261.9,914.5 L262.0,916.0 L262.2,917.5 L262.3,919.0 L262.5,920.5 L262.6,922.0 L262.8,923.4 L262.9,924.9 L263.0,926.4 L263.1,927.9 L263.2,929.4 L263.4,930.9 L263.5,932.4 L263.6,933.9 L263.7,935.5 L263.8,937.0 L263.8,938.5 L263.9,940.0 L264.0,941.5 L264.1,943.0 L264.1,944.5 L264.2,946.0 L264.3,947.5 L264.3,949.0 L264.4,950.5 L264.4,952.0 L264.4,953.6 L264.5,955.1 L264.5,956.6 L264.5,958.1 L264.5,959.6 L264.5,961.1 L264.5,962.6 L264.5,964.2 L264.5,965.7 L264.5,967.2 L264.5,968.7 L264.5,970.3 L264.5,971.8 L264.4,973.3 L264.4,974.8 L264.3,976.4 L264.3,977.9 L264.2,979.4 L264.1,980.9 L264.1,982.5 L264.0,984.0" fill="none" stroke="#C8464F" stroke-width="1.2" stroke-linejoin="round" stroke-linecap="round" />
<path d="M83.4,905.0 L83.5,903.5 L83.6,902.0 L83.7,900.5 L83.8,899.0 L83.9,897.5 L84.0,896.0 L84.1,894.5 L84.2,892.9 L84.3,891.4 L84.4,889.9 L84.5,888.4 L84.6,886.9 L84.7,885.4 L84.8,883.9 L84.9,882.4 L85.0,880.9 L85.1,879.4 L85.2,877.9 L85.3,876.4 L85.4,874.9 L85.5,873.3 L85.6,871.8 L85.7,870.3 L85.8,868.8 L85.9,867.3 L86.0,865.8 L86.1,864.3 L86.2,862.8 L86.3,861.3 L86.4,859.8 L86.6,858.3 L86.7,856.8 L86.8,855.3 L86.9,853.7 L87.0,852.2 L87.1,850.7 L87.2,849.2 L87.3,847.7 L87.4,846.2 L87.6,844.7 L87.7,843.2 L87.8,841.7 L87.9,840.2 L88.0,838.7 L88.1,837.2 L88.3,835.7 L88.4,834.1 L88.5,832.6 L88.6,831.1 L88.7,829.6 L88.9,828.1 L89.0,826.6 L89.1,825.1 L89.2,823.6 L89.3,822.1 L89.5,820.6 L89.6,819.1 L89.7,817.6 L89.9,816.1 L90.0,814.6 L90.1,813.0 L90.2,811.5 L90.4,810.0 L90.5,808.5 L90.6,807.0 L90.8,805.5 L90.9,804.0 L91.0,802.5 L91.2,801.0 L91.3,799.5 L91.4,798.0 L91.6,796.5 L91.7,795.0 L91.9,793.5 L92.0,792.0 L92.1,790.4 L92.3,788.9 L92.4,787.4 L92.6,785.9 L92.7,784.4 L92.9,782.9 L93.0,781.4 L93.2,779.9 L93.3,778.4 L93.5,776.9 L93.6,775.4 L93.8,773.9 L93.9,772.4 L94.1,770.9 L94.2,769.4 L94.4,767.9 L94.5,766.4 L94.7,764.9 L94.9,763.4 L95.0,761.9 L95.2,760.4 L95.4,758.8 L95.5,757.3 L95.7,755.8 L95.9,754.3 L96.0,752.8 L96.2,751.3 L96.4,749.8 L96.5,748.3 L96.7,746.8 L96.9,745.3 L97.1,743.8 L97.2,742.3 L97.4,740.8 L97.6,739.3 L97.8,737.8 L97.9,736.3 L98.1,734.8 L98.3,733.3 L98.5,731.8 L98.7,730.3 L98.9,728.8 L99.1,727.3 L99.2,725.8 L99.4,724.3 L99.6,722.8 L99.8,721.3 L100.0,719.8 L100.2,718.3 L100.4,716.8 L100.6,715.3 L100.8,713.8 L101.0,712.3 L101.2,710.8 L101.4,709.3 L101.6,707.8 L101.8,706.3 L102.0,704.8 L102.3,703.3 L102.5,701.8 L102.7,700.3 L102.9,698.9 L103.1,697.4 L103.3,695.9 L103.5,694.4 L103.8,692.9 L104.0,691.4 L104.2,689.9 L104.4,688.4 L104.7,686.9 L104.9,685.4 L105.1,683.9 L105.4,682.4 L105.6,680.9 L105.8,679.4 L106.1,677.9 L106.3,676.4 L106.5,674.9 L106.8,673.5 L107.0,672.0 L107.3,670.5 L107.5,669.0 L107.8,667.5 L108.0,666.0 L108.3,664.5 L108.5,663.0 L108.8,661.5 L109.0,660.0 L109.3,658.6 L109.5,657.1 L109.8,655.6 L110.1,654.1 L110.3,652.6 L110.6,651.1 L110.8,649.6 L111.1,648.1 L111.4,646.7 L111.7,645.2 L111.9,643.7 L112.2,642.2 L112.5,640.7 L112.8,639.2 L113.1,637.7 L113.3,636.3 L113.6,634.8 L113.9,633.3 L114.2,631.8 L114.5,630.3 L114.8,628.8 L115.1,627.4 L115.4,625.9 L115.7,624.4 L116.0,622.9 L116.3,621.4 L116.6,619.9 L116.9,618.5 L117.2,617.0 L117.5,615.5 L117.8,614.0 L118.1,612.5 L118.4,611.1 L118.8,609.6 L119.1,608.1 L119.4,606.6 L119.7,605.2 L120.0,603.7 L120.4,602.2 L120.7,600.7 L121.0,599.3 L121.4,597.8 L121.7,596.3" fill="none" stroke="#2C64B4" stroke-width="1.2" stroke-linejoin="round" stroke-linecap="round" />
<path d="M121.7,596.3 L121.8,597.8 L122.0,599.3 L122.1,600.8 L122.3,602.3 L122.4,603.8 L122.5,605.3 L122.7,606.8 L122.8,608.3 L123.0,609.8 L123.1,611.3 L123.3,612.8 L123.4,614.3 L123.5,615.8 L123.7,617.3 L123.8,618.8 L124.0,620.3 L124.1,621.8 L124.3,623.3 L124.4,624.8 L124.6,626.3 L124.7,627.8 L124.9,629.3 L125.0,630.8 L125.2,632.3 L125.4,633.8 L125.5,635.3 L125.7,636.8 L125.8,638.3 L126.0,639.8 L126.1,641.3 L126.3,642.8 L126.5,644.3 L126.6,645.8 L126.8,647.3 L126.9,648.8 L127.1,650.3 L127.3,651.8 L127.4,653.3 L127.6,654.8 L127.7,656.3 L127.9,657.8 L128.1,659.3 L128.2,660.8 L128.4,662.3 L128.6,663.8 L128.7,665.3 L128.9,666.8 L129.0,668.3 L129.2,669.8 L129.4,671.3 L129.5,672.8 L129.7,674.3 L129.9,675.8 L130.0,677.3 L130.2,678.8 L130.4,680.3 L130.5,681.8 L130.7,683.3 L130.9,684.8 L131.0,686.3 L131.2,687.8 L131.4,689.3 L131.6,690.8 L131.7,692.3 L131.9,693.8 L132.1,695.3 L132.2,696.8 L132.4,698.3 L132.6,699.8 L132.7,701.3 L132.9,702.8 L133.1,704.3 L133.2,705.8 L133.4,707.3 L133.6,708.8 L133.7,710.3 L133.9,711.8 L134.1,713.3 L134.2,714.8 L134.4,716.3 L134.6,717.8 L134.8,719.3 L134.9,720.8 L135.1,722.3 L135.3,723.8 L135.4,725.3 L135.6,726.8 L135.8,728.3 L135.9,729.8 L136.1,731.3 L136.3,732.8 L136.4,734.3 L136.6,735.8 L136.8,737.3 L136.9,738.8 L137.1,740.3 L137.3,741.8 L137.4,743.3 L137.6,744.8 L137.7,746.3 L137.9,747.8 L138.1,749.3 L138.2,750.8 L138.4,752.3 L138.6,753.8 L138.7,755.3 L138.9,756.8 L139.0,758.3 L139.2,759.8 L139.4,761.3 L139.5,762.8 L139.7,764.3 L139.8,765.8 L140.0,767.3 L140.2,768.8 L140.3,770.3 L140.5,771.8 L140.6,773.3 L140.8,774.8 L140.9,776.3 L141.1,777.8 L141.2,779.3 L141.4,780.8 L141.5,782.3 L141.7,783.8 L141.8,785.3 L142.0,786.8 L142.1,788.3 L142.3,789.8 L142.4,791.3 L142.6,792.8 L142.7,794.3 L142.9,795.8 L143.0,797.3 L143.2,798.8 L143.3,800.3 L143.5,801.8 L143.6,803.3 L143.7,804.8 L143.9,806.3 L144.0,807.8 L144.1,809.3 L144.3,810.8 L144.4,812.3 L144.6,813.8 L144.7,815.3 L144.8,816.8 L145.0,818.3 L145.1,819.8 L145.2,821.3 L145.4,822.8 L145.5,824.3 L145.6,825.8 L145.7,827.3 L145.9,828.8 L146.0,830.3 L146.1,831.8 L146.2,833.3 L146.4,834.8 L146.5,836.3 L146.6,837.8 L146.7,839.3 L146.8,840.8 L146.9,842.3 L147.1,843.8 L147.2,845.3 L147.3,846.8 L147.4,848.3 L147.5,849.8 L147.6,851.3 L147.7,852.8 L147.8,854.3 L147.9,855.8 L148.0,857.3 L148.1,858.8 L148.2,860.3 L148.3,861.8 L148.4,863.4 L148.5,864.9 L148.6,866.4 L148.7,867.9 L148.8,869.4 L148.9,870.9 L149.0,872.4 L149.1,873.9 L149.2,875.4 L149.3,876.9 L149.3,878.4 L149.4,879.9 L149.5,881.4 L149.6,882.9 L149.7,884.4 L149.7,885.9 L149.8,887.4 L149.9,888.9 L150.0,890.4 L150.0,891.9 L150.1,893.4 L150.2,895.0 L150.2,896.5 L150.3,898.0 L150.4,899.5 L150.4,901.0 L150.5,902.5 L150.5,904.0 L150.6,905.5 L150.7,907.0 L150.7,908.5 L150.8,910.0 L150.8,911.5 L150.9,913.0 L150.9,914.5 L150.9,916.0 L151.0,917.5 L151.0,919.1 L151.1,920.6 L151.1,922.1 L151.1,923.6 L151.2,925.1 L151.2,926.6 L151.2,928.1 L151.3,929.6 L151.3,931.1 L151.3,932.6 L151.3,934.1 L151.4,935.6 L151.4,937.2 L151.4,938.7 L151.4,940.2 L151.4,941.7 L151.4,943.2 L151.4,944.7 L151.4,946.2 L151.4,947.7 L151.4,949.2 L151.4,950.7 L151.4,952.3 L151.4,953.8 L151.4,955.3 L151.4,956.8 L151.4,958.3 L151.4,959.8 L151.4,961.3 L151.4,962.8 L151.3,964.3 L151.3,965.9 L151.3,967.4 L151.3,968.9 L151.3,970.4 L151.2,971.9 L151.2,973.4 L151.2,974.9 L151.1,976.4 L151.1,977.9 L151.0,979.5 L151.0,981.0 L150.9,982.5 L150.9,984.0" fill="none" stroke="#2C64B4" stroke-width="1.2" stroke-linejoin="round" stroke-linecap="round" />
<path d="M83.4,840.0 L83.5,838.5 L83.5,837.0 L83.6,835.5 L83.6,833.9 L83.7,832.4 L83.7,830.9 L83.8,829.4 L83.9,827.9 L83.9,826.4 L84.0,824.9 L84.0,823.3 L84.1,821.8 L84.2,820.3 L84.2,818.8 L84.3,817.3 L84.4,815.8 L84.4,814.3 L84.5,812.7 L84.5,811.2 L84.6,809.7 L84.7,808.2 L84.7,806.7 L84.8,805.2 L84.9,803.7 L84.9,802.1 L85.0,800.6 L85.1,799.1 L85.1,797.6 L85.2,796.1 L85.3,794.6 L85.3,793.1 L85.4,791.6 L85.5,790.0 L85.5,788.5 L85.6,787.0 L85.7,785.5 L85.8,784.0 L85.8,782.5 L85.9,781.0 L86.0,779.4 L86.0,777.9 L86.1,776.4 L86.2,774.9 L86.3,773.4 L86.3,771.9 L86.4,770.4 L86.5,768.8 L86.6,767.3 L86.6,765.8 L86.7,764.3 L86.8,762.8 L86.9,761.3 L86.9,759.8 L87.0,758.3 L87.1,756.7 L87.2,755.2 L87.2,753.7 L87.3,752.2 L87.4,750.7 L87.5,749.2 L87.6,747.7 L87.7,746.1 L87.7,744.6 L87.8,743.1 L87.9,741.6 L88.0,740.1 L88.1,738.6 L88.1,737.1 L88.2,735.6 L88.3,734.0 L88.4,732.5 L88.5,731.0 L88.6,729.5 L88.7,728.0 L88.7,726.5 L88.8,725.0 L88.9,723.5 L89.0,721.9 L89.1,720.4 L89.2,718.9 L89.3,717.4 L89.4,715.9 L89.5,714.4 L89.5,712.9 L89.6,711.4 L89.7,709.8 L89.8,708.3 L89.9,706.8 L90.0,705.3 L90.1,703.8 L90.2,702.3 L90.3,700.8 L90.4,699.3 L90.5,697.7 L90.6,696.2 L90.7,694.7 L90.8,693.2 L90.9,691.7 L91.0,690.2 L91.1,688.7 L91.2,687.2 L91.3,685.6 L91.4,684.1 L91.5,682.6 L91.6,681.1 L91.7,679.6 L91.8,678.1 L91.9,676.6 L92.0,675.1 L92.1,673.5 L92.2,672.0 L92.3,670.5 L92.4,669.0 L92.5,667.5 L92.6,666.0 L92.7,664.5 L92.8,663.0 L92.9,661.5 L93.0,659.9 L93.2,658.4 L93.3,656.9 L93.4,655.4 L93.5,653.9 L93.6,652.4 L93.7,650.9 L93.8,649.4 L93.9,647.9 L94.0,646.3 L94.2,644.8 L94.3,643.3 L94.4,641.8 L94.5,640.3 L94.6,638.8 L94.7,637.3 L94.9,635.8 L95.0,634.3 L95.1,632.7 L95.2,631.2 L95.3,629.7 L95.4,628.2 L95.6,626.7 L95.7,625.2 L95.8,623.7 L95.9,622.2 L96.1,620.7 L96.2,619.1 L96.3,617.6 L96.4,616.1 L96.6,614.6 L96.7,613.1 L96.8,611.6 L96.9,610.1 L97.1,608.6 L97.2,607.1 L97.3,605.6 L97.4,604.0 L97.6,602.5 L97.7,601.0 L97.8,599.5 L98.0,598.0 L98.1,596.5" fill="none" stroke="#3C9670" stroke-width="1.2" stroke-linejoin="round" stroke-linecap="round" />
<path d="M98.1,596.5 L98.2,598.0 L98.3,599.5 L98.3,601.0 L98.4,602.5 L98.5,604.0 L98.6,605.5 L98.7,607.0 L98.8,608.6 L98.8,610.1 L98.9,611.6 L99.0,613.1 L99.1,614.6 L99.2,616.1 L99.2,617.6 L99.3,619.1 L99.4,620.6 L99.5,622.1 L99.6,623.6 L99.6,625.1 L99.7,626.6 L99.8,628.1 L99.9,629.6 L100.0,631.1 L100.0,632.7 L100.1,634.2 L100.2,635.7 L100.3,637.2 L100.3,638.7 L100.4,640.2 L100.5,641.7 L100.6,643.2 L100.7,644.7 L100.7,646.2 L100.8,647.7 L100.9,649.2 L101.0,650.7 L101.0,652.2 L101.1,653.7 L101.2,655.3 L101.3,656.8 L101.3,658.3 L101.4,659.8 L101.5,661.3 L101.6,662.8 L101.6,664.3 L101.7,665.8 L101.8,667.3 L101.9,668.8 L101.9,670.3 L102.0,671.8 L102.1,673.3 L102.1,674.8 L102.2,676.4 L102.3,677.9 L102.4,679.4 L102.4,680.9 L102.5,682.4 L102.6,683.9 L102.6,685.4 L102.7,686.9 L102.8,688.4 L102.8,689.9 L102.9,691.4 L103.0,692.9 L103.1,694.4 L103.1,695.9 L103.2,697.5 L103.3,699.0 L103.3,700.5 L103.4,702.0 L103.5,703.5 L103.5,705.0 L103.6,706.5 L103.7,708.0 L103.7,709.5 L103.8,711.0 L103.9,712.5 L103.9,714.0 L104.0,715.5 L104.1,717.0 L104.1,718.6 L104.2,720.1 L104.2,721.6 L104.3,723.1 L104.4,724.6 L104.4,726.1 L104.5,727.6 L104.6,729.1 L104.6,730.6 L104.7,732.1 L104.7,733.6 L104.8,735.1 L104.9,736.6 L104.9,738.1 L105.0,739.7 L105.1,741.2 L105.1,742.7 L105.2,744.2 L105.2,745.7 L105.3,747.2 L105.3,748.7 L105.4,750.2 L105.5,751.7 L105.5,753.2 L105.6,754.7 L105.6,756.2 L105.7,757.7 L105.7,759.3 L105.8,760.8 L105.9,762.3 L105.9,763.8 L106.0,765.3 L106.0,766.8 L106.1,768.3 L106.1,769.8 L106.2,771.3 L106.2,772.8 L106.3,774.3 L106.3,775.8 L106.4,777.3 L106.4,778.9 L106.5,780.4 L106.6,781.9 L106.6,783.4 L106.7,784.9 L106.7,786.4 L106.8,787.9 L106.8,789.4 L106.9,790.9 L106.9,792.4 L107.0,793.9 L107.0,795.4 L107.0,796.9 L107.1,798.5 L107.1,800.0 L107.2,801.5 L107.2,803.0 L107.3,804.5 L107.3,806.0 L107.4,807.5 L107.4,809.0 L107.5,810.5 L107.5,812.0 L107.5,813.5 L107.6,815.0 L107.6,816.6 L107.7,818.1 L107.7,819.6 L107.8,821.1 L107.8,822.6 L107.8,824.1 L107.9,825.6 L107.9,827.1 L108.0,828.6 L108.0,830.1 L108.0,831.6 L108.1,833.1 L108.1,834.7 L108.2,836.2 L108.2,837.7 L108.2,839.2 L108.3,840.7 L108.3,842.2 L108.3,843.7 L108.4,845.2 L108.4,846.7 L108.5,848.2 L108.5,849.7 L108.5,851.2 L108.6,852.7 L108.6,854.3 L108.6,855.8 L108.7,857.3 L108.7,858.8 L108.7,860.3 L108.7,861.8 L108.8,863.3 L108.8,864.8 L108.8,866.3 L108.9,867.8 L108.9,869.3 L108.9,870.8 L109.0,872.4 L109.0,873.9 L109.0,875.4 L109.0,876.9 L109.1,878.4 L109.1,879.9 L109.1,881.4 L109.1,882.9 L109.2,884.4 L109.2,885.9 L109.2,887.4 L109.2,888.9 L109.3,890.5 L109.3,892.0 L109.3,893.5 L109.3,895.0 L109.4,896.5 L109.4,898.0 L109.4,899.5 L109.4,901.0 L109.4,902.5 L109.5,904.0 L109.5,905.5 L109.5,907.1 L109.5,908.6 L109.5,910.1 L109.5,911.6 L109.6,913.1 L109.6,914.6 L109.6,916.1 L109.6,917.6 L109.6,919.1 L109.6,920.6 L109.7,922.1 L109.7,923.6 L109.7,925.2 L109.7,926.7 L109.7,928.2 L109.7,929.7 L109.7,931.2 L109.7,932.7 L109.7,934.2 L109.8,935.7 L109.8,937.2 L109.8,938.7 L109.8,940.2 L109.8,941.8 L109.8,943.3 L109.8,944.8 L109.8,946.3 L109.8,947.8 L109.8,949.3 L109.8,950.8 L109.8,952.3 L109.8,953.8 L109.8,955.3 L109.8,956.8 L109.8,958.3 L109.8,959.9 L109.8,961.4 L109.8,962.9 L109.8,964.4 L109.8,965.9 L109.8,967.4 L109.8,968.9 L109.8,970.4 L109.8,971.9 L109.8,973.4 L109.8,974.9 L109.8,976.5 L109.8,978.0 L109.8,979.5 L109.8,981.0 L109.8,982.5 L109.8,984.0" fill="none" stroke="#3C9670" stroke-width="1.2" stroke-linejoin="round" stroke-linecap="round" />
<path d="M83.4,760.0 L83.4,758.5 L83.5,757.0 L83.5,755.4 L83.6,753.9 L83.6,752.4 L83.6,750.9 L83.7,749.4 L83.7,747.8 L83.8,746.3 L83.8,744.8 L83.9,743.3 L83.9,741.8 L84.0,740.2 L84.0,738.7 L84.1,737.2 L84.1,735.7 L84.2,734.2 L84.2,732.6 L84.3,731.1 L84.3,729.6 L84.4,728.1 L84.4,726.6 L84.5,725.0 L84.5,723.5 L84.6,722.0 L84.6,720.5 L84.7,719.0 L84.8,717.5 L84.8,715.9 L84.9,714.4 L85.0,712.9 L85.0,711.4 L85.1,709.9 L85.1,708.3 L85.2,706.8 L85.3,705.3 L85.3,703.8 L85.4,702.3 L85.5,700.7 L85.5,699.2 L85.6,697.7 L85.7,696.2 L85.7,694.7 L85.8,693.2 L85.9,691.6 L86.0,690.1 L86.0,688.6 L86.1,687.1 L86.2,685.6 L86.2,684.0 L86.3,682.5 L86.4,681.0 L86.5,679.5 L86.5,678.0 L86.6,676.4 L86.7,674.9 L86.8,673.4 L86.8,671.9 L86.9,670.4 L87.0,668.9 L87.1,667.3 L87.2,665.8 L87.2,664.3 L87.3,662.8 L87.4,661.3 L87.5,659.7 L87.6,658.2 L87.6,656.7 L87.7,655.2 L87.8,653.7 L87.9,652.2 L88.0,650.6 L88.0,649.1 L88.1,647.6 L88.2,646.1 L88.3,644.6 L88.4,643.0 L88.5,641.5 L88.6,640.0 L88.6,638.5 L88.7,637.0 L88.8,635.5 L88.9,633.9 L89.0,632.4 L89.1,630.9 L89.2,629.4 L89.2,627.9 L89.3,626.4 L89.4,624.8 L89.5,623.3 L89.6,621.8 L89.7,620.3 L89.8,618.8 L89.9,617.2 L89.9,615.7 L90.0,614.2 L90.1,612.7 L90.2,611.2 L90.3,609.7 L90.4,608.1 L90.5,606.6 L90.6,605.1 L90.7,603.6 L90.7,602.1 L90.8,600.6 L90.9,599.0 L91.0,597.5 L91.1,596.0" fill="none" stroke="#A47CCB" stroke-width="1.2" stroke-linejoin="round" stroke-linecap="round" />
<path d="M91.1,596.0 L91.1,597.5 L91.2,599.0 L91.2,600.5 L91.3,602.0 L91.3,603.5 L91.4,605.1 L91.4,606.6 L91.5,608.1 L91.5,609.6 L91.5,611.1 L91.6,612.6 L91.6,614.1 L91.7,615.6 L91.7,617.1 L91.7,618.6 L91.8,620.1 L91.8,621.7 L91.9,623.2 L91.9,624.7 L91.9,626.2 L92.0,627.7 L92.0,629.2 L92.1,630.7 L92.1,632.2 L92.1,633.7 L92.2,635.2 L92.2,636.8 L92.3,638.3 L92.3,639.8 L92.3,641.3 L92.4,642.8 L92.4,644.3 L92.4,645.8 L92.5,647.3 L92.5,648.8 L92.6,650.3 L92.6,651.8 L92.6,653.4 L92.7,654.9 L92.7,656.4 L92.7,657.9 L92.8,659.4 L92.8,660.9 L92.8,662.4 L92.9,663.9 L92.9,665.4 L92.9,666.9 L93.0,668.5 L93.0,670.0 L93.0,671.5 L93.1,673.0 L93.1,674.5 L93.1,676.0 L93.2,677.5 L93.2,679.0 L93.2,680.5 L93.3,682.0 L93.3,683.5 L93.3,685.1 L93.4,686.6 L93.4,688.1 L93.4,689.6 L93.5,691.1 L93.5,692.6 L93.5,694.1 L93.5,695.6 L93.6,697.1 L93.6,698.6 L93.6,700.2 L93.7,701.7 L93.7,703.2 L93.7,704.7 L93.7,706.2 L93.8,707.7 L93.8,709.2 L93.8,710.7 L93.9,712.2 L93.9,713.7 L93.9,715.2 L93.9,716.8 L94.0,718.3 L94.0,719.8 L94.0,721.3 L94.0,722.8 L94.1,724.3 L94.1,725.8 L94.1,727.3 L94.1,728.8 L94.2,730.3 L94.2,731.9 L94.2,733.4 L94.2,734.9 L94.3,736.4 L94.3,737.9 L94.3,739.4 L94.3,740.9 L94.4,742.4 L94.4,743.9 L94.4,745.4 L94.4,747.0 L94.5,748.5 L94.5,750.0 L94.5,751.5 L94.5,753.0 L94.6,754.5 L94.6,756.0 L94.6,757.5 L94.6,759.0 L94.6,760.5 L94.7,762.1 L94.7,763.6 L94.7,765.1 L94.7,766.6 L94.7,768.1 L94.8,769.6 L94.8,771.1 L94.8,772.6 L94.8,774.1 L94.8,775.6 L94.9,777.1 L94.9,778.7 L94.9,780.2 L94.9,781.7 L94.9,783.2 L95.0,784.7 L95.0,786.2 L95.0,787.7 L95.0,789.2 L95.0,790.7 L95.1,792.2 L95.1,793.8 L95.1,795.3 L95.1,796.8 L95.1,798.3 L95.1,799.8 L95.2,801.3 L95.2,802.8 L95.2,804.3 L95.2,805.8 L95.2,807.3 L95.3,808.9 L95.3,810.4 L95.3,811.9 L95.3,813.4 L95.3,814.9 L95.3,816.4 L95.3,817.9 L95.4,819.4 L95.4,820.9 L95.4,822.4 L95.4,824.0 L95.4,825.5 L95.4,827.0 L95.5,828.5 L95.5,830.0 L95.5,831.5 L95.5,833.0 L95.5,834.5 L95.5,836.0 L95.5,837.5 L95.6,839.1 L95.6,840.6 L95.6,842.1 L95.6,843.6 L95.6,845.1 L95.6,846.6 L95.6,848.1 L95.7,849.6 L95.7,851.1 L95.7,852.6 L95.7,854.1 L95.7,855.7 L95.7,857.2 L95.7,858.7 L95.7,860.2 L95.8,861.7 L95.8,863.2 L95.8,864.7 L95.8,866.2 L95.8,867.7 L95.8,869.2 L95.8,870.8 L95.8,872.3 L95.9,873.8 L95.9,875.3 L95.9,876.8 L95.9,878.3 L95.9,879.8 L95.9,881.3 L95.9,882.8 L95.9,884.3 L95.9,885.9 L96.0,887.4 L96.0,888.9 L96.0,890.4 L96.0,891.9 L96.0,893.4 L96.0,894.9 L96.0,896.4 L96.0,897.9 L96.0,899.4 L96.1,901.0 L96.1,902.5 L96.1,904.0 L96.1,905.5 L96.1,907.0 L96.1,908.5 L96.1,910.0 L96.1,911.5 L96.1,913.0 L96.1,914.5 L96.1,916.1 L96.2,917.6 L96.2,919.1 L96.2,920.6 L96.2,922.1 L96.2,923.6 L96.2,925.1 L96.2,926.6 L96.2,928.1 L96.2,929.6 L96.2,931.2 L96.2,932.7 L96.3,934.2 L96.3,935.7 L96.3,937.2 L96.3,938.7 L96.3,940.2 L96.3,941.7 L96.3,943.2 L96.3,944.7 L96.3,946.3 L96.3,947.8 L96.3,949.3 L96.3,950.8 L96.3,952.3 L96.4,953.8 L96.4,955.3 L96.4,956.8 L96.4,958.3 L96.4,959.8 L96.4,961.4 L96.4,962.9 L96.4,964.4 L96.4,965.9 L96.4,967.4 L96.4,968.9 L96.4,970.4 L96.4,971.9 L96.5,973.4 L96.5,974.9 L96.5,976.5 L96.5,978.0 L96.5,979.5 L96.5,981.0 L96.5,982.5 L96.5,984.0" fill="none" stroke="#A47CCB" stroke-width="1.2" stroke-linejoin="round" stroke-linecap="round" />
<path d="M83.4,720.0 L83.4,718.5 L83.5,716.9 L83.5,715.4 L83.5,713.9 L83.6,712.3 L83.6,710.8 L83.7,709.3 L83.7,707.7 L83.7,706.2 L83.8,704.7 L83.8,703.2 L83.9,701.6 L83.9,700.1 L84.0,698.6 L84.0,697.0 L84.1,695.5 L84.1,694.0 L84.2,692.4 L84.2,690.9 L84.3,689.4 L84.3,687.8 L84.4,686.3 L84.4,684.8 L84.5,683.2 L84.5,681.7 L84.6,680.2 L84.7,678.6 L84.7,677.1 L84.8,675.6 L84.8,674.1 L84.9,672.5 L85.0,671.0 L85.0,669.5 L85.1,667.9 L85.1,666.4 L85.2,664.9 L85.3,663.3 L85.3,661.8 L85.4,660.3 L85.5,658.7 L85.5,657.2 L85.6,655.7 L85.7,654.2 L85.7,652.6 L85.8,651.1 L85.9,649.6 L85.9,648.0 L86.0,646.5 L86.1,645.0 L86.2,643.4 L86.2,641.9 L86.3,640.4 L86.4,638.8 L86.4,637.3 L86.5,635.8 L86.6,634.3 L86.7,632.7 L86.7,631.2 L86.8,629.7 L86.9,628.1 L87.0,626.6 L87.0,625.1 L87.1,623.5 L87.2,622.0 L87.3,620.5 L87.3,619.0 L87.4,617.4 L87.5,615.9 L87.6,614.4 L87.6,612.8 L87.7,611.3 L87.8,609.8 L87.9,608.2 L88.0,606.7 L88.0,605.2 L88.1,603.7 L88.2,602.1 L88.3,600.6 L88.3,599.1 L88.4,597.5 L88.5,596.0" fill="none" stroke="#B89A2A" stroke-width="1.2" stroke-linejoin="round" stroke-linecap="round" />
<path d="M88.5,596.0 L88.5,597.5 L88.6,599.0 L88.6,600.5 L88.6,602.0 L88.6,603.5 L88.7,605.1 L88.7,606.6 L88.7,608.1 L88.8,609.6 L88.8,611.1 L88.8,612.6 L88.8,614.1 L88.9,615.6 L88.9,617.1 L88.9,618.6 L89.0,620.2 L89.0,621.7 L89.0,623.2 L89.0,624.7 L89.1,626.2 L89.1,627.7 L89.1,629.2 L89.2,630.7 L89.2,632.2 L89.2,633.7 L89.2,635.2 L89.3,636.8 L89.3,638.3 L89.3,639.8 L89.3,641.3 L89.4,642.8 L89.4,644.3 L89.4,645.8 L89.4,647.3 L89.5,648.8 L89.5,650.3 L89.5,651.9 L89.6,653.4 L89.6,654.9 L89.6,656.4 L89.6,657.9 L89.7,659.4 L89.7,660.9 L89.7,662.4 L89.7,663.9 L89.8,665.4 L89.8,667.0 L89.8,668.5 L89.8,670.0 L89.9,671.5 L89.9,673.0 L89.9,674.5 L89.9,676.0 L90.0,677.5 L90.0,679.0 L90.0,680.5 L90.0,682.0 L90.1,683.6 L90.1,685.1 L90.1,686.6 L90.1,688.1 L90.2,689.6 L90.2,691.1 L90.2,692.6 L90.2,694.1 L90.3,695.6 L90.3,697.1 L90.3,698.7 L90.3,700.2 L90.4,701.7 L90.4,703.2 L90.4,704.7 L90.4,706.2 L90.5,707.7 L90.5,709.2 L90.5,710.7 L90.5,712.2 L90.6,713.8 L90.6,715.3 L90.6,716.8 L90.6,718.3 L90.6,719.8 L90.7,721.3 L90.7,722.8 L90.7,724.3 L90.7,725.8 L90.8,727.3 L90.8,728.8 L90.8,730.4 L90.8,731.9 L90.8,733.4 L90.9,734.9 L90.9,736.4 L90.9,737.9 L90.9,739.4 L91.0,740.9 L91.0,742.4 L91.0,743.9 L91.0,745.5 L91.0,747.0 L91.1,748.5 L91.1,750.0 L91.1,751.5 L91.1,753.0 L91.1,754.5 L91.2,756.0 L91.2,757.5 L91.2,759.0 L91.2,760.6 L91.3,762.1 L91.3,763.6 L91.3,765.1 L91.3,766.6 L91.3,768.1 L91.4,769.6 L91.4,771.1 L91.4,772.6 L91.4,774.1 L91.4,775.6 L91.4,777.2 L91.5,778.7 L91.5,780.2 L91.5,781.7 L91.5,783.2 L91.5,784.7 L91.6,786.2 L91.6,787.7 L91.6,789.2 L91.6,790.7 L91.6,792.3 L91.7,793.8 L91.7,795.3 L91.7,796.8 L91.7,798.3 L91.7,799.8 L91.7,801.3 L91.8,802.8 L91.8,804.3 L91.8,805.8 L91.8,807.4 L91.8,808.9 L91.8,810.4 L91.9,811.9 L91.9,813.4 L91.9,814.9 L91.9,816.4 L91.9,817.9 L91.9,819.4 L92.0,820.9 L92.0,822.4 L92.0,824.0 L92.0,825.5 L92.0,827.0 L92.0,828.5 L92.1,830.0 L92.1,831.5 L92.1,833.0 L92.1,834.5 L92.1,836.0 L92.1,837.5 L92.2,839.1 L92.2,840.6 L92.2,842.1 L92.2,843.6 L92.2,845.1 L92.2,846.6 L92.2,848.1 L92.3,849.6 L92.3,851.1 L92.3,852.6 L92.3,854.2 L92.3,855.7 L92.3,857.2 L92.3,858.7 L92.3,860.2 L92.4,861.7 L92.4,863.2 L92.4,864.7 L92.4,866.2 L92.4,867.7 L92.4,869.3 L92.4,870.8 L92.4,872.3 L92.5,873.8 L92.5,875.3 L92.5,876.8 L92.5,878.3 L92.5,879.8 L92.5,881.3 L92.5,882.8 L92.5,884.4 L92.6,885.9 L92.6,887.4 L92.6,888.9 L92.6,890.4 L92.6,891.9 L92.6,893.4 L92.6,894.9 L92.6,896.4 L92.6,897.9 L92.6,899.4 L92.7,901.0 L92.7,902.5 L92.7,904.0 L92.7,905.5 L92.7,907.0 L92.7,908.5 L92.7,910.0 L92.7,911.5 L92.7,913.0 L92.7,914.5 L92.8,916.1 L92.8,917.6 L92.8,919.1 L92.8,920.6 L92.8,922.1 L92.8,923.6 L92.8,925.1 L92.8,926.6 L92.8,928.1 L92.8,929.6 L92.8,931.2 L92.8,932.7 L92.8,934.2 L92.9,935.7 L92.9,937.2 L92.9,938.7 L92.9,940.2 L92.9,941.7 L92.9,943.2 L92.9,944.7 L92.9,946.3 L92.9,947.8 L92.9,949.3 L92.9,950.8 L92.9,952.3 L92.9,953.8 L92.9,955.3 L92.9,956.8 L92.9,958.3 L92.9,959.8 L92.9,961.4 L93.0,962.9 L93.0,964.4 L93.0,965.9 L93.0,967.4 L93.0,968.9 L93.0,970.4 L93.0,971.9 L93.0,973.4 L93.0,974.9 L93.0,976.5 L93.0,978.0 L93.0,979.5 L93.0,981.0 L93.0,982.5 L93.0,984.0" fill="none" stroke="#B89A2A" stroke-width="1.2" stroke-linejoin="round" stroke-linecap="round" />
<path d="M83.4,680.0 L83.4,678.5 L83.5,676.9 L83.5,675.4 L83.5,673.9 L83.6,672.4 L83.6,670.8 L83.6,669.3 L83.7,667.8 L83.7,666.3 L83.7,664.7 L83.8,663.2 L83.8,661.7 L83.9,660.1 L83.9,658.6 L83.9,657.1 L84.0,655.6 L84.0,654.0 L84.0,652.5 L84.1,651.0 L84.1,649.4 L84.2,647.9 L84.2,646.4 L84.3,644.9 L84.3,643.3 L84.3,641.8 L84.4,640.3 L84.4,638.8 L84.5,637.2 L84.5,635.7 L84.6,634.2 L84.6,632.6 L84.7,631.1 L84.7,629.6 L84.8,628.1 L84.8,626.5 L84.9,625.0 L84.9,623.5 L85.0,622.0 L85.0,620.4 L85.1,618.9 L85.1,617.4 L85.2,615.9 L85.2,614.3 L85.3,612.8 L85.3,611.3 L85.4,609.7 L85.4,608.2 L85.5,606.7 L85.6,605.2 L85.6,603.6 L85.7,602.1 L85.7,600.6 L85.8,599.1 L85.8,597.5 L85.9,596.0" fill="none" stroke="#1AAEB8" stroke-width="1.2" stroke-linejoin="round" stroke-linecap="round" />
<path d="M85.9,596.0 L85.9,597.5 L85.9,599.0 L86.0,600.5 L86.0,602.0 L86.0,603.5 L86.0,605.1 L86.1,606.6 L86.1,608.1 L86.1,609.6 L86.1,611.1 L86.2,612.6 L86.2,614.1 L86.2,615.6 L86.2,617.1 L86.3,618.6 L86.3,620.2 L86.3,621.7 L86.3,623.2 L86.4,624.7 L86.4,626.2 L86.4,627.7 L86.4,629.2 L86.5,630.7 L86.5,632.2 L86.5,633.7 L86.5,635.3 L86.5,636.8 L86.6,638.3 L86.6,639.8 L86.6,641.3 L86.6,642.8 L86.7,644.3 L86.7,645.8 L86.7,647.3 L86.7,648.8 L86.8,650.3 L86.8,651.9 L86.8,653.4 L86.8,654.9 L86.8,656.4 L86.9,657.9 L86.9,659.4 L86.9,660.9 L86.9,662.4 L87.0,663.9 L87.0,665.4 L87.0,667.0 L87.0,668.5 L87.1,670.0 L87.1,671.5 L87.1,673.0 L87.1,674.5 L87.1,676.0 L87.2,677.5 L87.2,679.0 L87.2,680.5 L87.2,682.0 L87.3,683.6 L87.3,685.1 L87.3,686.6 L87.3,688.1 L87.3,689.6 L87.4,691.1 L87.4,692.6 L87.4,694.1 L87.4,695.6 L87.5,697.1 L87.5,698.7 L87.5,700.2 L87.5,701.7 L87.5,703.2 L87.6,704.7 L87.6,706.2 L87.6,707.7 L87.6,709.2 L87.7,710.7 L87.7,712.2 L87.7,713.8 L87.7,715.3 L87.7,716.8 L87.8,718.3 L87.8,719.8 L87.8,721.3 L87.8,722.8 L87.8,724.3 L87.9,725.8 L87.9,727.3 L87.9,728.8 L87.9,730.4 L87.9,731.9 L88.0,733.4 L88.0,734.9 L88.0,736.4 L88.0,737.9 L88.0,739.4 L88.1,740.9 L88.1,742.4 L88.1,743.9 L88.1,745.5 L88.1,747.0 L88.2,748.5 L88.2,750.0 L88.2,751.5 L88.2,753.0 L88.2,754.5 L88.3,756.0 L88.3,757.5 L88.3,759.0 L88.3,760.6 L88.3,762.1 L88.4,763.6 L88.4,765.1 L88.4,766.6 L88.4,768.1 L88.4,769.6 L88.5,771.1 L88.5,772.6 L88.5,774.1 L88.5,775.6 L88.5,777.2 L88.5,778.7 L88.6,780.2 L88.6,781.7 L88.6,783.2 L88.6,784.7 L88.6,786.2 L88.6,787.7 L88.7,789.2 L88.7,790.7 L88.7,792.3 L88.7,793.8 L88.7,795.3 L88.8,796.8 L88.8,798.3 L88.8,799.8 L88.8,801.3 L88.8,802.8 L88.8,804.3 L88.9,805.8 L88.9,807.4 L88.9,808.9 L88.9,810.4 L88.9,811.9 L88.9,813.4 L88.9,814.9 L89.0,816.4 L89.0,817.9 L89.0,819.4 L89.0,820.9 L89.0,822.5 L89.0,824.0 L89.1,825.5 L89.1,827.0 L89.1,828.5 L89.1,830.0 L89.1,831.5 L89.1,833.0 L89.1,834.5 L89.2,836.0 L89.2,837.5 L89.2,839.1 L89.2,840.6 L89.2,842.1 L89.2,843.6 L89.2,845.1 L89.3,846.6 L89.3,848.1 L89.3,849.6 L89.3,851.1 L89.3,852.6 L89.3,854.2 L89.3,855.7 L89.3,857.2 L89.4,858.7 L89.4,860.2 L89.4,861.7 L89.4,863.2 L89.4,864.7 L89.4,866.2 L89.4,867.7 L89.4,869.3 L89.5,870.8 L89.5,872.3 L89.5,873.8 L89.5,875.3 L89.5,876.8 L89.5,878.3 L89.5,879.8 L89.5,881.3 L89.5,882.8 L89.5,884.4 L89.6,885.9 L89.6,887.4 L89.6,888.9 L89.6,890.4 L89.6,891.9 L89.6,893.4 L89.6,894.9 L89.6,896.4 L89.6,897.9 L89.6,899.4 L89.7,901.0 L89.7,902.5 L89.7,904.0 L89.7,905.5 L89.7,907.0 L89.7,908.5 L89.7,910.0 L89.7,911.5 L89.7,913.0 L89.7,914.5 L89.7,916.1 L89.7,917.6 L89.7,919.1 L89.8,920.6 L89.8,922.1 L89.8,923.6 L89.8,925.1 L89.8,926.6 L89.8,928.1 L89.8,929.6 L89.8,931.2 L89.8,932.7 L89.8,934.2 L89.8,935.7 L89.8,937.2 L89.8,938.7 L89.8,940.2 L89.8,941.7 L89.8,943.2 L89.8,944.7 L89.8,946.3 L89.9,947.8 L89.9,949.3 L89.9,950.8 L89.9,952.3 L89.9,953.8 L89.9,955.3 L89.9,956.8 L89.9,958.3 L89.9,959.8 L89.9,961.4 L89.9,962.9 L89.9,964.4 L89.9,965.9 L89.9,967.4 L89.9,968.9 L89.9,970.4 L89.9,971.9 L89.9,973.4 L89.9,974.9 L89.9,976.5 L89.9,978.0 L89.9,979.5 L89.9,981.0 L89.9,982.5 L89.9,984.0" fill="none" stroke="#1AAEB8" stroke-width="1.2" stroke-linejoin="round" stroke-linecap="round" />
<rect x="83.4" y="543.5" width="546.6" height="441.0" fill="none" stroke="#111" stroke-width="2"/>
<line x1="182.80" y1="984.5" x2="182.80" y2="975.5" stroke="#111" stroke-width="2"/>
<line x1="282.25" y1="984.5" x2="282.25" y2="975.5" stroke="#111" stroke-width="2"/>
<line x1="381.70" y1="984.5" x2="381.70" y2="975.5" stroke="#111" stroke-width="2"/>
<line x1="481.15" y1="984.5" x2="481.15" y2="975.5" stroke="#111" stroke-width="2"/>
<line x1="580.60" y1="984.5" x2="580.60" y2="975.5" stroke="#111" stroke-width="2"/>
<line x1="83.4" y1="932.62" x2="92.4" y2="932.62" stroke="#111" stroke-width="2"/>
<line x1="83.4" y1="880.74" x2="92.4" y2="880.74" stroke="#111" stroke-width="2"/>
<line x1="83.4" y1="828.86" x2="92.4" y2="828.86" stroke="#111" stroke-width="2"/>
<line x1="83.4" y1="776.98" x2="92.4" y2="776.98" stroke="#111" stroke-width="2"/>
<line x1="83.4" y1="725.10" x2="92.4" y2="725.10" stroke="#111" stroke-width="2"/>
<line x1="83.4" y1="673.22" x2="92.4" y2="673.22" stroke="#111" stroke-width="2"/>
<line x1="83.4" y1="621.34" x2="92.4" y2="621.34" stroke="#111" stroke-width="2"/>
<line x1="83.4" y1="569.46" x2="92.4" y2="569.46" stroke="#111" stroke-width="2"/>
<line x1="490" y1="569.0" x2="537" y2="569.0" stroke="#4a4a4a" stroke-width="1.3"/>
<line x1="490" y1="597.2" x2="537" y2="597.2" stroke="#C8464F" stroke-width="1.3"/>
<line x1="490" y1="625.4" x2="537" y2="625.4" stroke="#2C64B4" stroke-width="1.3"/>
<line x1="490" y1="653.6" x2="537" y2="653.6" stroke="#3C9670" stroke-width="1.3"/>
<line x1="490" y1="681.8" x2="537" y2="681.8" stroke="#A47CCB" stroke-width="1.3"/>
<line x1="490" y1="710.0" x2="537" y2="710.0" stroke="#B89A2A" stroke-width="1.3"/>
<line x1="490" y1="738.2" x2="537" y2="738.2" stroke="#1AAEB8" stroke-width="1.3"/>
<line x1="803.89" y1="604.03" x2="822.51" y2="744.17" stroke="#1a1a1a" stroke-width="1.5"/>
<line x1="827.72" y1="757.80" x2="860.18" y2="805.50" stroke="#1a1a1a" stroke-width="1.5"/>
<line x1="870.73" y1="815.72" x2="940.27" y2="859.88" stroke="#1a1a1a" stroke-width="1.5"/>
<line x1="953.43" y1="866.99" x2="1021.67" y2="897.91" stroke="#1a1a1a" stroke-width="1.5"/>
<line x1="1035.99" y1="901.39" x2="1103.21" y2="904.91" stroke="#1a1a1a" stroke-width="1.5"/>
<line x1="1117.97" y1="907.13" x2="1185.53" y2="924.07" stroke="#1a1a1a" stroke-width="1.5"/>
<rect x="797.90" y="591.60" width="10" height="10" fill="#515151"/>
<rect x="818.50" y="746.60" width="10" height="10" fill="#515151"/>
<rect x="859.40" y="806.70" width="10" height="10" fill="#515151"/>
<rect x="941.60" y="858.90" width="10" height="10" fill="#515151"/>
<rect x="1023.50" y="896.00" width="10" height="10" fill="#515151"/>
<rect x="1105.70" y="900.30" width="10" height="10" fill="#515151"/>
<rect x="1187.80" y="920.90" width="10" height="10" fill="#515151"/>
<polygon points="779.60,608.00 790.76,601.80 790.76,614.20" fill="#CC9900"/>
<circle cx="786.6" cy="668.7" r="5.2" fill="#F14040"/>
<polygon points="795.20,725.40 789.00,736.56 801.40,736.56" fill="#1A6FDF"/>
<polygon points="799.10,759.40 787.94,753.20 787.94,765.60" fill="#00CBCC"/>
<polygon points="792.90,831.60 786.70,820.44 799.10,820.44" fill="#37AD6B"/>
<rect x="728" y="544" width="547" height="441" fill="none" stroke="#111" stroke-width="2"/>
<line x1="782.00" y1="985" x2="782.00" y2="976" stroke="#111" stroke-width="2"/>
<line x1="891.47" y1="985" x2="891.47" y2="976" stroke="#111" stroke-width="2"/>
<line x1="1000.95" y1="985" x2="1000.95" y2="976" stroke="#111" stroke-width="2"/>
<line x1="1110.42" y1="985" x2="1110.42" y2="976" stroke="#111" stroke-width="2"/>
<line x1="1219.90" y1="985" x2="1219.90" y2="976" stroke="#111" stroke-width="2"/>
<line x1="728" y1="939.70" x2="737" y2="939.70" stroke="#111" stroke-width="2"/>
<line x1="728" y1="851.70" x2="737" y2="851.70" stroke="#111" stroke-width="2"/>
<line x1="728" y1="763.70" x2="737" y2="763.70" stroke="#111" stroke-width="2"/>
<line x1="728" y1="675.70" x2="737" y2="675.70" stroke="#111" stroke-width="2"/>
<line x1="728" y1="587.70" x2="737" y2="587.70" stroke="#111" stroke-width="2"/>
<line x1="1015.6" y1="556.9" x2="1058" y2="556.9" stroke="#1a1a1a" stroke-width="2"/>
<line x1="1015.6" y1="580" x2="1058" y2="580" stroke="#2a2a2a" stroke-width="1.1"/>
<line x1="1015.6" y1="607.3" x2="1058" y2="607.3" stroke="#2a2a2a" stroke-width="1.1"/>
<line x1="1015.6" y1="631" x2="1058" y2="631" stroke="#2a2a2a" stroke-width="1.1"/>
<line x1="1015.6" y1="654" x2="1058" y2="654" stroke="#2a2a2a" stroke-width="1.1"/>
<line x1="1015.6" y1="681.6" x2="1058" y2="681.6" stroke="#2a2a2a" stroke-width="1.1"/>
<rect x="1031.8" y="551.9" width="10" height="10" fill="#515151"/>
<circle cx="1036.8" cy="580" r="5.6" fill="#F14040"/>
<polygon points="1036.80,600.70 1030.20,612.58 1043.40,612.58" fill="#1A6FDF"/>
<polygon points="1036.80,637.60 1030.20,625.72 1043.40,625.72" fill="#37AD6B"/>
<polygon points="1030.20,654.00 1042.08,647.40 1042.08,660.60" fill="#CC9900"/>
<polygon points="1043.40,681.60 1031.52,675.00 1031.52,688.20" fill="#00CBCC"/>
</g>
<g id="texts">
<text x="112.2" y="482" font-size="22" font-weight="bold" text-anchor="middle" >-1.0</text>
<text x="173.0" y="482" font-size="22" font-weight="bold" text-anchor="middle" >-0.8</text>
<text x="233.8" y="482" font-size="22" font-weight="bold" text-anchor="middle" >-0.6</text>
<text x="294.5" y="482" font-size="22" font-weight="bold" text-anchor="middle" >-0.4</text>
<text x="355.3" y="482" font-size="22" font-weight="bold" text-anchor="middle" >-0.2</text>
<text x="416.1" y="482" font-size="22" font-weight="bold" text-anchor="middle" >0.0</text>
<text x="476.9" y="482" font-size="22" font-weight="bold" text-anchor="middle" >0.2</text>
<text x="537.7" y="482" font-size="22" font-weight="bold" text-anchor="middle" >0.4</text>
<text x="598.4" y="482" font-size="22" font-weight="bold" text-anchor="middle" >0.6</text>
<text transform="translate(72.00,413.72) scale(1.0000,1.1300)" font-size="22" font-weight="bold" text-anchor="end" >-90</text>
<text transform="translate(72.00,356.18) scale(1.0000,1.1300)" font-size="22" font-weight="bold" text-anchor="end" >-60</text>
<text transform="translate(72.00,298.64) scale(1.0000,1.1300)" font-size="22" font-weight="bold" text-anchor="end" >-30</text>
<text transform="translate(72.00,241.10) scale(1.0000,1.1300)" font-size="22" font-weight="bold" text-anchor="end" >0</text>
<text transform="translate(72.00,183.56) scale(1.0000,1.1300)" font-size="22" font-weight="bold" text-anchor="end" >30</text>
<text transform="translate(72.00,126.02) scale(1.0000,1.1300)" font-size="22" font-weight="bold" text-anchor="end" >60</text>
<text transform="translate(72.00,68.48) scale(1.0000,1.1300)" font-size="22" font-weight="bold" text-anchor="end" >90</text>
<text transform="translate(355.40,510.00) scale(1.0300,1.0000)" font-size="24" font-weight="bold" text-anchor="middle" >Potential/V</text>
<text transform="translate(33.40,348.20) rotate(-90) scale(1.0200,1.0000)" font-size="24.5" font-weight="bold" text-anchor="start" >Current density/A<tspan font-weight="normal">·</tspan>g<tspan font-size="15" dy="-10.5">-1</tspan></text>
<text transform="translate(90.30,40.50)" font-size="31" font-weight="normal" text-anchor="start" >(a)</text>
<text x="151.8" y="65.8" font-size="18" font-weight="normal" text-anchor="start" >AC</text>
<text transform="translate(151.8,88.8) scale(1.04,1)" font-size="18">Ni(OH)<tspan font-size="12" dy="4.5">2</tspan><tspan dy="-4.5">/Ni</tspan><tspan font-size="12" dy="4.5">3</tspan><tspan dy="-4.5">S</tspan><tspan font-size="12" dy="4.5">2</tspan><tspan dy="-4.5">/NF</tspan></text>
<text x="758.4" y="482" font-size="22" font-weight="bold" text-anchor="middle" >0.0</text>
<text x="822.8" y="482" font-size="22" font-weight="bold" text-anchor="middle" >0.2</text>
<text x="887.2" y="482" font-size="22" font-weight="bold" text-anchor="middle" >0.4</text>
<text x="951.6" y="482" font-size="22" font-weight="bold" text-anchor="middle" >0.6</text>
<text x="1016.0" y="482" font-size="22" font-weight="bold" text-anchor="middle" >0.8</text>
<text x="1080.4" y="482" font-size="22" font-weight="bold" text-anchor="middle" >1.0</text>
<text x="1144.8" y="482" font-size="22" font-weight="bold" text-anchor="middle" >1.2</text>
<text x="1209.2" y="482" font-size="22" font-weight="bold" text-anchor="middle" >1.4</text>
<text x="1274.0" y="482" font-size="22" font-weight="bold" text-anchor="middle" >1.6</text>
<text transform="translate(717.00,462.92) scale(1.0000,1.1500)" font-size="21" font-weight="bold" text-anchor="end" >-6</text>
<text transform="translate(717.00,403.98) scale(1.0000,1.1500)" font-size="21" font-weight="bold" text-anchor="end" >-4</text>
<text transform="translate(717.00,345.04) scale(1.0000,1.1500)" font-size="21" font-weight="bold" text-anchor="end" >-2</text>
<text transform="translate(717.00,286.10) scale(1.0000,1.1500)" font-size="21" font-weight="bold" text-anchor="end" >0</text>
<text transform="translate(717.00,227.16) scale(1.0000,1.1500)" font-size="21" font-weight="bold" text-anchor="end" >2</text>
<text transform="translate(717.00,168.22) scale(1.0000,1.1500)" font-size="21" font-weight="bold" text-anchor="end" >4</text>
<text transform="translate(717.00,109.28) scale(1.0000,1.1500)" font-size="21" font-weight="bold" text-anchor="end" >6</text>
<text transform="translate(717.00,50.34) scale(1.0000,1.1500)" font-size="21" font-weight="bold" text-anchor="end" >8</text>
<text transform="translate(1000.30,509.50) scale(1.0300,1.0000)" font-size="24" font-weight="bold" text-anchor="middle" >Potential/V</text>
<text transform="translate(690.00,348.50) rotate(-90) scale(1.0200,1.0000)" font-size="24.5" font-weight="bold" text-anchor="start" >Current density/A<tspan font-weight="normal">·</tspan>g<tspan font-size="15" dy="-10.5">-1</tspan></text>
<text transform="translate(733.80,40.20)" font-size="31" font-weight="normal" text-anchor="start" >(b)</text>
<text transform="translate(804.3,64.1) scale(1.025,1)" font-size="18">5 mV·s<tspan font-size="12" dy="-8" dx="1.2">−1</tspan></text>
<text transform="translate(804.3,90.0) scale(1.025,1)" font-size="18">10 mV·s<tspan font-size="12" dy="-8" dx="1.2">−1</tspan></text>
<text transform="translate(804.3,115.9) scale(1.025,1)" font-size="18">15 mV·s<tspan font-size="12" dy="-8" dx="1.2">  1</tspan></text>
<text transform="translate(804.3,141.8) scale(1.025,1)" font-size="18">25 mV·s<tspan font-size="12" dy="-8" dx="1.2">−1</tspan></text>
<text transform="translate(804.3,167.7) scale(1.025,1)" font-size="18">50 mV·s<tspan font-size="12" dy="-8" dx="1.2">−1</tspan></text>
<text transform="translate(804.3,193.6) scale(1.025,1)" font-size="18">100 mV·s<tspan font-size="12" dy="-8" dx="1.2">−1</tspan></text>
<text transform="translate(83.35,1014.80) scale(1.0000,1.1700)" font-size="24" font-weight="bold" text-anchor="middle" >0</text>
<text transform="translate(182.80,1014.80) scale(1.0000,1.1700)" font-size="24" font-weight="bold" text-anchor="middle" >100</text>
<text transform="translate(282.25,1014.80) scale(1.0000,1.1700)" font-size="24" font-weight="bold" text-anchor="middle" >200</text>
<text transform="translate(381.70,1014.80) scale(1.0000,1.1700)" font-size="24" font-weight="bold" text-anchor="middle" >300</text>
<text transform="translate(481.15,1014.80) scale(1.0000,1.1700)" font-size="24" font-weight="bold" text-anchor="middle" >400</text>
<text transform="translate(580.60,1014.80) scale(1.0000,1.1700)" font-size="24" font-weight="bold" text-anchor="middle" >500</text>
<text transform="translate(72.30,993.10) scale(1.0000,1.1700)" font-size="24" font-weight="bold" text-anchor="end" >0.0</text>
<text transform="translate(72.30,941.22) scale(1.0000,1.1700)" font-size="24" font-weight="bold" text-anchor="end" >0.2</text>
<text transform="translate(72.30,889.34) scale(1.0000,1.1700)" font-size="24" font-weight="bold" text-anchor="end" >0.4</text>
<text transform="translate(72.30,837.46) scale(1.0000,1.1700)" font-size="24" font-weight="bold" text-anchor="end" >0.6</text>
<text transform="translate(72.30,785.58) scale(1.0000,1.1700)" font-size="24" font-weight="bold" text-anchor="end" >0.8</text>
<text transform="translate(72.30,733.70) scale(1.0000,1.1700)" font-size="24" font-weight="bold" text-anchor="end" >1.0</text>
<text transform="translate(72.30,681.82) scale(1.0000,1.1700)" font-size="24" font-weight="bold" text-anchor="end" >1.2</text>
<text transform="translate(72.30,629.94) scale(1.0000,1.1700)" font-size="24" font-weight="bold" text-anchor="end" >1.4</text>
<text transform="translate(72.30,578.06) scale(1.0000,1.1700)" font-size="24" font-weight="bold" text-anchor="end" >1.6</text>
<text x="361" y="1043.3" font-size="26.5" font-weight="bold" text-anchor="middle" >Time/s</text>
<text transform="translate(29.5,815) rotate(-90)" font-size="26.5" font-weight="bold">Potential/V</text>
<text transform="translate(92.00,569.40)" font-size="31" font-weight="normal" text-anchor="start" >(c)</text>
<text x="542.5" y="576.0" font-size="19">0.5 <tspan dx="2.3">A</tspan><tspan dx="0.5">·</tspan><tspan dx="0.5">g</tspan><tspan font-size="12.5" dy="-9" dx="0.6">−1</tspan></text>
<text x="542.5" y="604.2" font-size="19">1 <tspan dx="2.3">A</tspan><tspan dx="0.5">·</tspan><tspan dx="0.5">g</tspan><tspan font-size="12.5" dy="-9" dx="0.6">−1</tspan></text>
<text x="542.5" y="632.4" font-size="19">2 <tspan dx="2.3">A</tspan><tspan dx="0.5">·</tspan><tspan dx="0.5">g</tspan><tspan font-size="12.5" dy="-9" dx="0.6">−1</tspan></text>
<text x="542.5" y="660.6" font-size="19">4 <tspan dx="2.3">A</tspan><tspan dx="0.5">·</tspan><tspan dx="0.5">g</tspan><tspan font-size="12.5" dy="-9" dx="0.6">−1</tspan></text>
<text x="542.5" y="688.8" font-size="19">6 <tspan dx="2.3">A</tspan><tspan dx="0.5">·</tspan><tspan dx="0.5">g</tspan><tspan font-size="12.5" dy="-9" dx="0.6">−1</tspan></text>
<text x="542.5" y="717.0" font-size="19">8 <tspan dx="2.3">A</tspan><tspan dx="0.5">·</tspan><tspan dx="0.5">g</tspan><tspan font-size="12.5" dy="-9" dx="0.6">−1</tspan></text>
<text x="542.5" y="745.2" font-size="19">10 <tspan dx="2.3">A</tspan><tspan dx="0.5">·</tspan><tspan dx="0.5">g</tspan><tspan font-size="12.5" dy="-9" dx="0.6">  1</tspan></text>
<text x="782.8" y="1009" font-size="18.5" font-weight="bold" text-anchor="middle" >0</text>
<text x="892.3" y="1009" font-size="18.5" font-weight="bold" text-anchor="middle" >2000</text>
<text x="1001.7" y="1009" font-size="18.5" font-weight="bold" text-anchor="middle" >4000</text>
<text x="1111.2" y="1009" font-size="18.5" font-weight="bold" text-anchor="middle" >6000</text>
<text x="1220.7" y="1009" font-size="18.5" font-weight="bold" text-anchor="middle" >8000</text>
<text x="717.5" y="946.2" font-size="18.5" font-weight="bold" text-anchor="end" >5</text>
<text x="717.5" y="858.2" font-size="18.5" font-weight="bold" text-anchor="end" >10</text>
<text x="717.5" y="770.2" font-size="18.5" font-weight="bold" text-anchor="end" >15</text>
<text x="717.5" y="682.2" font-size="18.5" font-weight="bold" text-anchor="end" >20</text>
<text x="717.5" y="594.2" font-size="18.5" font-weight="bold" text-anchor="end" >25</text>
<text transform="translate(884.50,1038.10) scale(1.0300,1.0000)" font-size="22" font-weight="bold" text-anchor="start" >Power density/W<tspan font-weight="normal">·</tspan>kg<tspan font-size="15" dy="-10">−1</tspan></text>
<text transform="translate(690.20,880.50) rotate(-90) scale(1.0700,1.0000)" font-size="21" font-weight="bold" text-anchor="start" >Energy density/Wh<tspan font-weight="normal">·</tspan>kg<tspan font-size="15" dy="-10">−1</tspan></text>
<text transform="translate(732.40,569.70)" font-size="31" font-weight="normal" text-anchor="start" >(d)</text>
<text transform="translate(1063.1,563.4) scale(1.06,1)" font-size="17.5">this work</text>
<text transform="translate(1063.1,586.5) scale(1.065,1)" font-size="17.5">β-Ni(OH)<tspan font-size="11.5" dy="4.5">2</tspan><tspan dy="-4.5">//AC</tspan></text>
<text transform="translate(1063.1,613.8) scale(1.065,1)" font-size="17.5">Ni@Ni-Co-S//rGO-CNTs</text>
<text transform="translate(1063.1,637.5) scale(1.065,1)" font-size="17.5">NiS//AC</text>
<text transform="translate(1063.1,660.5) scale(1.065,1)" font-size="17.5">α-Co/Ni(OH)<tspan font-size="11.5" dy="4.5">2</tspan><tspan dy="-4.5">@Co</tspan><tspan font-size="11.5" dy="4.5">3</tspan><tspan dy="-4.5">O</tspan><tspan font-size="11.5" dy="4.5">4</tspan><tspan dy="-4.5">//AC</tspan></text>
<text transform="translate(1063.1,688.1) scale(1.065,1)" font-size="17.5">Mn<tspan font-size="11.5" dy="4.5">3</tspan><tspan dy="-4.5">O</tspan><tspan font-size="11.5" dy="4.5">4</tspan><tspan dy="-4.5">/Ni(OH)</tspan><tspan font-size="11.5" dy="4.5">2</tspan><tspan dy="-4.5">//AC</tspan></text>
</g>
</svg>
</body></html>
